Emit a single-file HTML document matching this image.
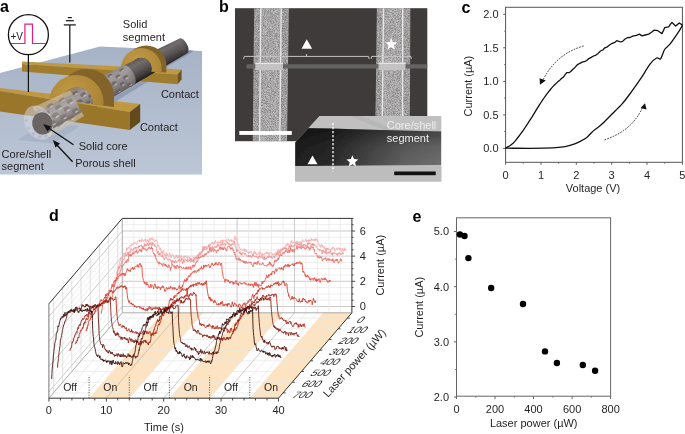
<!DOCTYPE html>
<html><head><meta charset="utf-8"><style>
html,body{margin:0;padding:0;background:#fff;}
svg{display:block;font-family:"Liberation Sans", sans-serif;will-change:transform;}
</style></head><body>
<svg width="685" height="434" viewBox="0 0 685 434">
<defs>
<linearGradient id="floorg" x1="0" y1="0" x2="0" y2="1"><stop offset="0" stop-color="#a6b2c6"/><stop offset="1" stop-color="#bcc6d6"/></linearGradient>
<linearGradient id="rodg" gradientUnits="userSpaceOnUse" x1="150.8" y1="52.4" x2="159.9" y2="69.3"><stop offset="0" stop-color="#625c5c"/><stop offset="0.2" stop-color="#726c6c"/><stop offset="0.55" stop-color="#5a5454"/><stop offset="0.85" stop-color="#3c3838"/><stop offset="1" stop-color="#242121"/></linearGradient>
<linearGradient id="shellg" gradientUnits="userSpaceOnUse" x1="96.8" y1="78.6" x2="108.4" y2="100.1"><stop offset="0" stop-color="#8c8686"/><stop offset="0.3" stop-color="#a29c9c"/><stop offset="0.7" stop-color="#827c7c"/><stop offset="1" stop-color="#605a5a"/></linearGradient>
<radialGradient id="ringg" cx="0.4" cy="0.35" r="0.7"><stop offset="0" stop-color="#c29a44"/><stop offset="1" stop-color="#a68034"/></radialGradient>
<radialGradient id="ringg2" cx="0.4" cy="0.35" r="0.7"><stop offset="0" stop-color="#c29a44"/><stop offset="1" stop-color="#a98436"/></radialGradient>
<linearGradient id="shellg2" gradientUnits="userSpaceOnUse" x1="33.6" y1="109.5" x2="48.4" y2="135.7"><stop offset="0" stop-color="#c0bab8"/><stop offset="0.35" stop-color="#d8d4d2"/><stop offset="0.75" stop-color="#b8b2b0"/><stop offset="1" stop-color="#a09a98"/></linearGradient>
<linearGradient id="coreg" gradientUnits="userSpaceOnUse" x1="53.8" y1="104.3" x2="63.3" y2="121.9"><stop offset="0" stop-color="#8e8886"/><stop offset="0.35" stop-color="#a29c9a"/><stop offset="0.7" stop-color="#858080"/><stop offset="1" stop-color="#5e5856"/></linearGradient>
<filter id="grainL" x="0" y="0" width="100%" height="100%"><feTurbulence type="fractalNoise" baseFrequency="1.4" numOctaves="1" seed="4" result="t"/><feColorMatrix in="t" type="matrix" values="0 0 0 0 1  0 0 0 0 1  0 0 0 0 1  0.8 0 0 0 -0.3" result="n"/><feComposite in="n" in2="SourceAlpha" operator="in"/></filter>
<filter id="grainD" x="0" y="0" width="100%" height="100%"><feTurbulence type="fractalNoise" baseFrequency="1.4" numOctaves="1" seed="9" result="t"/><feColorMatrix in="t" type="matrix" values="0 0 0 0 0  0 0 0 0 0  0 0 0 0 0  0.8 0 0 0 -0.3" result="n"/><feComposite in="n" in2="SourceAlpha" operator="in"/></filter>
<linearGradient id="tembandg" x1="0" y1="0" x2="1" y2="0"><stop offset="0" stop-color="#202020"/><stop offset="0.25" stop-color="#2a2a2a"/><stop offset="0.5" stop-color="#474747"/><stop offset="0.75" stop-color="#626262"/><stop offset="1" stop-color="#707070"/></linearGradient>
<linearGradient id="tembandv" x1="0" y1="0" x2="0" y2="1"><stop offset="0" stop-color="#000" stop-opacity="0.45"/><stop offset="0.5" stop-color="#000" stop-opacity="0.12"/><stop offset="1" stop-color="#000" stop-opacity="0"/></linearGradient>
<filter id="blur05" x="-5%" y="-5%" width="110%" height="110%"><feGaussianBlur stdDeviation="0.45"/></filter>
<filter id="blur1" x="-5%" y="-10%" width="110%" height="120%"><feGaussianBlur stdDeviation="0.7"/></filter>
</defs>
<text x="0" y="12" font-size="16" text-anchor="start" font-weight="bold" fill="#000" >a</text>
<text x="219" y="12" font-size="16" text-anchor="start" font-weight="bold" fill="#000" >b</text>
<text x="461.5" y="12.5" font-size="16" text-anchor="start" font-weight="bold" fill="#000" >c</text>
<text x="49.0" y="221.0" font-size="16" text-anchor="start" font-weight="bold" fill="#000" >d</text>
<text x="412.5" y="221.8" font-size="16" text-anchor="start" font-weight="bold" fill="#000" >e</text>
<g id="pa">
<polygon points="0,73 100,46.5 202,51 202,174.6 0,174.6" fill="url(#floorg)"/>
<polygon points="17,140 53,143.5 80,126 60,124 30,132" fill="#9aa6ba" opacity="0.45"/>
<polygon points="150,70 190,50 194,51 156,73" fill="#6e7c96" opacity="0.6"/>
<polygon points="110.3,99.5 150.0,76.0 151.7,79.3 112.4,103.4" fill="#6e7c96" opacity="0.45"/>
<polygon points="22,61.5 181.6,69.4 177.6,74.5 22,64" fill="#c09842"/>
<polygon points="22,64 177.6,74.5 177.6,84.3 22,71.5" fill="#a07c2e"/>
<polygon points="177.6,74.5 181.6,69.4 181.6,79.4 177.6,84.3" fill="#6f5420"/>
<polygon points="134.6,60.3 179.6,38.4 187.5,52.9 144.5,78.5" fill="url(#rodg)" />
<ellipse cx="183.5" cy="45.6" rx="3.7" ry="8.2" transform="rotate(-28.4 183.5 45.6)" fill="url(#rodg)" />
<clipPath id="barchclip"><polygon points="100,20 200,20 200,74.6 22,64"/></clipPath>
<g clip-path="url(#barchclip)">
<path d="M125.8,65.7 a20.3,20.3 0 1,0 40.6,0 a20.3,20.3 0 1,0 -40.6,0 Z M161.6,88.7 L166.4,86.0 L166.4,65.7 L161.6,68.4 Z" fill="#83632a"/>
<clipPath id="bhole"><circle cx="141.3" cy="68.4" r="10.6"/></clipPath>
<g clip-path="url(#bhole)"><rect x="120" y="40" width="50" height="50" fill="#1e1a18"/>
<polygon points="134.6,60.3 179.6,38.4 187.5,52.9 144.5,78.5" fill="url(#rodg)" />
<ellipse cx="183.5" cy="45.6" rx="3.7" ry="8.2" transform="rotate(-28.4 183.5 45.6)" fill="url(#rodg)" />
</g>
<path d="M121.0,68.4 a20.3,20.3 0 1,0 40.6,0 a20.3,20.3 0 1,0 -40.6,0 Z M130.7,68.4 a10.6,10.6 0 1,0 21.2,0 a10.6,10.6 0 1,0 -21.2,0 Z" fill-rule="evenodd" fill="url(#ringg2)"/>
</g>
<polygon points="119.3,67.7 137.0,59.1 146.8,77.1 129.9,87.2" fill="url(#rodg)" />
<polygon points="70.7,91.3 123.8,65.5 134.2,84.7 83.5,114.9" fill="url(#shellg)" />
<ellipse cx="129.0" cy="75.1" rx="4.9" ry="10.9" transform="rotate(-28.4 129.0 75.1)" fill="url(#shellg)" />
<g filter="url(#blur05)">
<ellipse cx="75.0" cy="92.9" rx="3.2" ry="1.5" transform="rotate(-28.4 75.0 92.9)" fill="#56504e" opacity="0.55"/>
<ellipse cx="76.5" cy="93.8" rx="1.9" ry="0.6" transform="rotate(-28.4 76.5 93.8)" fill="#ece8e4" opacity="0.55"/>
<ellipse cx="79.7" cy="101.7" rx="3.2" ry="2.1" transform="rotate(-28.4 79.7 101.7)" fill="#56504e" opacity="0.55"/>
<ellipse cx="81.5" cy="103.1" rx="1.9" ry="0.8" transform="rotate(-28.4 81.5 103.1)" fill="#ece8e4" opacity="0.55"/>
<ellipse cx="84.5" cy="110.5" rx="3.2" ry="1.5" transform="rotate(-28.4 84.5 110.5)" fill="#56504e" opacity="0.55"/>
<ellipse cx="86.0" cy="111.3" rx="1.9" ry="0.6" transform="rotate(-28.4 86.0 111.3)" fill="#ece8e4" opacity="0.55"/>
<ellipse cx="83.1" cy="94.3" rx="3.1" ry="1.9" transform="rotate(-28.4 83.1 94.3)" fill="#56504e" opacity="0.55"/>
<ellipse cx="84.8" cy="95.6" rx="1.8" ry="0.7" transform="rotate(-28.4 84.8 95.6)" fill="#ece8e4" opacity="0.55"/>
<ellipse cx="87.8" cy="102.9" rx="3.1" ry="1.9" transform="rotate(-28.4 87.8 102.9)" fill="#56504e" opacity="0.55"/>
<ellipse cx="89.5" cy="104.2" rx="1.8" ry="0.7" transform="rotate(-28.4 89.5 104.2)" fill="#ece8e4" opacity="0.55"/>
<ellipse cx="86.6" cy="87.1" rx="3.1" ry="1.4" transform="rotate(-28.4 86.6 87.1)" fill="#56504e" opacity="0.55"/>
<ellipse cx="88.1" cy="87.9" rx="1.8" ry="0.5" transform="rotate(-28.4 88.1 87.9)" fill="#ece8e4" opacity="0.55"/>
<ellipse cx="91.2" cy="95.5" rx="3.1" ry="2.0" transform="rotate(-28.4 91.2 95.5)" fill="#56504e" opacity="0.55"/>
<ellipse cx="92.9" cy="96.9" rx="1.8" ry="0.8" transform="rotate(-28.4 92.9 96.9)" fill="#ece8e4" opacity="0.55"/>
<ellipse cx="95.7" cy="103.9" rx="3.1" ry="1.4" transform="rotate(-28.4 95.7 103.9)" fill="#56504e" opacity="0.55"/>
<ellipse cx="97.2" cy="104.8" rx="1.8" ry="0.5" transform="rotate(-28.4 97.2 104.8)" fill="#ece8e4" opacity="0.55"/>
<ellipse cx="94.7" cy="88.3" rx="3.0" ry="1.9" transform="rotate(-28.4 94.7 88.3)" fill="#56504e" opacity="0.55"/>
<ellipse cx="96.3" cy="89.5" rx="1.7" ry="0.7" transform="rotate(-28.4 96.3 89.5)" fill="#ece8e4" opacity="0.55"/>
<ellipse cx="99.1" cy="96.5" rx="3.0" ry="1.9" transform="rotate(-28.4 99.1 96.5)" fill="#56504e" opacity="0.55"/>
<ellipse cx="100.7" cy="97.8" rx="1.7" ry="0.7" transform="rotate(-28.4 100.7 97.8)" fill="#ece8e4" opacity="0.55"/>
<ellipse cx="98.2" cy="81.3" rx="2.9" ry="1.4" transform="rotate(-28.4 98.2 81.3)" fill="#56504e" opacity="0.55"/>
<ellipse cx="99.6" cy="82.1" rx="1.7" ry="0.5" transform="rotate(-28.4 99.6 82.1)" fill="#ece8e4" opacity="0.55"/>
<ellipse cx="102.6" cy="89.3" rx="2.9" ry="2.0" transform="rotate(-28.4 102.6 89.3)" fill="#56504e" opacity="0.55"/>
<ellipse cx="104.3" cy="90.7" rx="1.7" ry="0.7" transform="rotate(-28.4 104.3 90.7)" fill="#ece8e4" opacity="0.55"/>
<ellipse cx="106.9" cy="97.4" rx="2.9" ry="1.4" transform="rotate(-28.4 106.9 97.4)" fill="#56504e" opacity="0.55"/>
<ellipse cx="108.3" cy="98.2" rx="1.7" ry="0.5" transform="rotate(-28.4 108.3 98.2)" fill="#ece8e4" opacity="0.55"/>
<ellipse cx="106.2" cy="82.3" rx="2.9" ry="1.8" transform="rotate(-28.4 106.2 82.3)" fill="#56504e" opacity="0.55"/>
<ellipse cx="107.8" cy="83.5" rx="1.7" ry="0.7" transform="rotate(-28.4 107.8 83.5)" fill="#ece8e4" opacity="0.55"/>
<ellipse cx="110.4" cy="90.2" rx="2.9" ry="1.8" transform="rotate(-28.4 110.4 90.2)" fill="#56504e" opacity="0.55"/>
<ellipse cx="112.0" cy="91.4" rx="1.7" ry="0.7" transform="rotate(-28.4 112.0 91.4)" fill="#ece8e4" opacity="0.55"/>
<ellipse cx="109.9" cy="75.5" rx="2.8" ry="1.3" transform="rotate(-28.4 109.9 75.5)" fill="#56504e" opacity="0.55"/>
<ellipse cx="111.2" cy="76.3" rx="1.6" ry="0.5" transform="rotate(-28.4 111.2 76.3)" fill="#ece8e4" opacity="0.55"/>
<ellipse cx="114.0" cy="83.2" rx="2.8" ry="1.9" transform="rotate(-28.4 114.0 83.2)" fill="#56504e" opacity="0.55"/>
<ellipse cx="115.6" cy="84.4" rx="1.6" ry="0.7" transform="rotate(-28.4 115.6 84.4)" fill="#ece8e4" opacity="0.55"/>
<ellipse cx="118.2" cy="90.8" rx="2.8" ry="1.3" transform="rotate(-28.4 118.2 90.8)" fill="#56504e" opacity="0.55"/>
<ellipse cx="119.5" cy="91.6" rx="1.6" ry="0.5" transform="rotate(-28.4 119.5 91.6)" fill="#ece8e4" opacity="0.55"/>
<ellipse cx="117.7" cy="76.3" rx="2.7" ry="1.7" transform="rotate(-28.4 117.7 76.3)" fill="#56504e" opacity="0.55"/>
<ellipse cx="119.2" cy="77.4" rx="1.6" ry="0.6" transform="rotate(-28.4 119.2 77.4)" fill="#ece8e4" opacity="0.55"/>
<ellipse cx="121.8" cy="83.8" rx="2.7" ry="1.7" transform="rotate(-28.4 121.8 83.8)" fill="#56504e" opacity="0.55"/>
<ellipse cx="123.3" cy="84.9" rx="1.6" ry="0.6" transform="rotate(-28.4 123.3 84.9)" fill="#ece8e4" opacity="0.55"/>
<ellipse cx="121.5" cy="69.7" rx="2.7" ry="1.2" transform="rotate(-28.4 121.5 69.7)" fill="#56504e" opacity="0.55"/>
<ellipse cx="122.8" cy="70.4" rx="1.6" ry="0.5" transform="rotate(-28.4 122.8 70.4)" fill="#ece8e4" opacity="0.55"/>
<ellipse cx="125.5" cy="77.0" rx="2.7" ry="1.8" transform="rotate(-28.4 125.5 77.0)" fill="#56504e" opacity="0.55"/>
<ellipse cx="127.0" cy="78.2" rx="1.6" ry="0.7" transform="rotate(-28.4 127.0 78.2)" fill="#ece8e4" opacity="0.55"/>
<ellipse cx="129.4" cy="84.3" rx="2.7" ry="1.2" transform="rotate(-28.4 129.4 84.3)" fill="#56504e" opacity="0.55"/>
<ellipse cx="130.7" cy="85.0" rx="1.6" ry="0.5" transform="rotate(-28.4 130.7 85.0)" fill="#ece8e4" opacity="0.55"/>
</g>
<polygon points="0,88 140.2,104 129.8,112 0,91" fill="#c09842"/>
<polygon points="0,91 129.8,112 129.8,130 0,111.5" fill="#9a762a"/>
<polygon points="129.8,112 140.2,104 140.2,122 129.8,130" fill="#634a1b"/>
<clipPath id="farchclip"><polygon points="30,40 160,40 160,113.5 0,91"/></clipPath>
<g clip-path="url(#farchclip)">
<path d="M59.6,96.2 a27.2,27.2 0 1,0 54.4,0 a27.2,27.2 0 1,0 -54.4,0 Z M103.5,129.4 L114.0,123.4 L114.0,96.2 L103.5,102.2 Z" fill="#83632a"/>
<clipPath id="fhole"><circle cx="77.0" cy="103.0" r="15.8"/></clipPath>
<g clip-path="url(#fhole)"><rect x="40" y="60" width="80" height="80" fill="#9c8050"/>
<polygon points="70.7,91.3 123.8,65.5 134.2,84.7 83.5,114.9" fill="url(#shellg)" />
<ellipse cx="129.0" cy="75.1" rx="4.9" ry="10.9" transform="rotate(-28.4 129.0 75.1)" fill="url(#shellg)" />
<g filter="url(#blur05)">
<ellipse cx="75.0" cy="92.9" rx="3.2" ry="1.5" transform="rotate(-28.4 75.0 92.9)" fill="#56504e" opacity="0.55"/>
<ellipse cx="76.5" cy="93.8" rx="1.9" ry="0.6" transform="rotate(-28.4 76.5 93.8)" fill="#ece8e4" opacity="0.55"/>
<ellipse cx="79.7" cy="101.7" rx="3.2" ry="2.1" transform="rotate(-28.4 79.7 101.7)" fill="#56504e" opacity="0.55"/>
<ellipse cx="81.5" cy="103.1" rx="1.9" ry="0.8" transform="rotate(-28.4 81.5 103.1)" fill="#ece8e4" opacity="0.55"/>
<ellipse cx="84.5" cy="110.5" rx="3.2" ry="1.5" transform="rotate(-28.4 84.5 110.5)" fill="#56504e" opacity="0.55"/>
<ellipse cx="86.0" cy="111.3" rx="1.9" ry="0.6" transform="rotate(-28.4 86.0 111.3)" fill="#ece8e4" opacity="0.55"/>
<ellipse cx="83.1" cy="94.3" rx="3.1" ry="1.9" transform="rotate(-28.4 83.1 94.3)" fill="#56504e" opacity="0.55"/>
<ellipse cx="84.8" cy="95.6" rx="1.8" ry="0.7" transform="rotate(-28.4 84.8 95.6)" fill="#ece8e4" opacity="0.55"/>
<ellipse cx="87.8" cy="102.9" rx="3.1" ry="1.9" transform="rotate(-28.4 87.8 102.9)" fill="#56504e" opacity="0.55"/>
<ellipse cx="89.5" cy="104.2" rx="1.8" ry="0.7" transform="rotate(-28.4 89.5 104.2)" fill="#ece8e4" opacity="0.55"/>
<ellipse cx="86.6" cy="87.1" rx="3.1" ry="1.4" transform="rotate(-28.4 86.6 87.1)" fill="#56504e" opacity="0.55"/>
<ellipse cx="88.1" cy="87.9" rx="1.8" ry="0.5" transform="rotate(-28.4 88.1 87.9)" fill="#ece8e4" opacity="0.55"/>
<ellipse cx="91.2" cy="95.5" rx="3.1" ry="2.0" transform="rotate(-28.4 91.2 95.5)" fill="#56504e" opacity="0.55"/>
<ellipse cx="92.9" cy="96.9" rx="1.8" ry="0.8" transform="rotate(-28.4 92.9 96.9)" fill="#ece8e4" opacity="0.55"/>
<ellipse cx="95.7" cy="103.9" rx="3.1" ry="1.4" transform="rotate(-28.4 95.7 103.9)" fill="#56504e" opacity="0.55"/>
<ellipse cx="97.2" cy="104.8" rx="1.8" ry="0.5" transform="rotate(-28.4 97.2 104.8)" fill="#ece8e4" opacity="0.55"/>
<ellipse cx="94.7" cy="88.3" rx="3.0" ry="1.9" transform="rotate(-28.4 94.7 88.3)" fill="#56504e" opacity="0.55"/>
<ellipse cx="96.3" cy="89.5" rx="1.7" ry="0.7" transform="rotate(-28.4 96.3 89.5)" fill="#ece8e4" opacity="0.55"/>
<ellipse cx="99.1" cy="96.5" rx="3.0" ry="1.9" transform="rotate(-28.4 99.1 96.5)" fill="#56504e" opacity="0.55"/>
<ellipse cx="100.7" cy="97.8" rx="1.7" ry="0.7" transform="rotate(-28.4 100.7 97.8)" fill="#ece8e4" opacity="0.55"/>
<ellipse cx="98.2" cy="81.3" rx="2.9" ry="1.4" transform="rotate(-28.4 98.2 81.3)" fill="#56504e" opacity="0.55"/>
<ellipse cx="99.6" cy="82.1" rx="1.7" ry="0.5" transform="rotate(-28.4 99.6 82.1)" fill="#ece8e4" opacity="0.55"/>
<ellipse cx="102.6" cy="89.3" rx="2.9" ry="2.0" transform="rotate(-28.4 102.6 89.3)" fill="#56504e" opacity="0.55"/>
<ellipse cx="104.3" cy="90.7" rx="1.7" ry="0.7" transform="rotate(-28.4 104.3 90.7)" fill="#ece8e4" opacity="0.55"/>
<ellipse cx="106.9" cy="97.4" rx="2.9" ry="1.4" transform="rotate(-28.4 106.9 97.4)" fill="#56504e" opacity="0.55"/>
<ellipse cx="108.3" cy="98.2" rx="1.7" ry="0.5" transform="rotate(-28.4 108.3 98.2)" fill="#ece8e4" opacity="0.55"/>
<ellipse cx="106.2" cy="82.3" rx="2.9" ry="1.8" transform="rotate(-28.4 106.2 82.3)" fill="#56504e" opacity="0.55"/>
<ellipse cx="107.8" cy="83.5" rx="1.7" ry="0.7" transform="rotate(-28.4 107.8 83.5)" fill="#ece8e4" opacity="0.55"/>
<ellipse cx="110.4" cy="90.2" rx="2.9" ry="1.8" transform="rotate(-28.4 110.4 90.2)" fill="#56504e" opacity="0.55"/>
<ellipse cx="112.0" cy="91.4" rx="1.7" ry="0.7" transform="rotate(-28.4 112.0 91.4)" fill="#ece8e4" opacity="0.55"/>
<ellipse cx="109.9" cy="75.5" rx="2.8" ry="1.3" transform="rotate(-28.4 109.9 75.5)" fill="#56504e" opacity="0.55"/>
<ellipse cx="111.2" cy="76.3" rx="1.6" ry="0.5" transform="rotate(-28.4 111.2 76.3)" fill="#ece8e4" opacity="0.55"/>
<ellipse cx="114.0" cy="83.2" rx="2.8" ry="1.9" transform="rotate(-28.4 114.0 83.2)" fill="#56504e" opacity="0.55"/>
<ellipse cx="115.6" cy="84.4" rx="1.6" ry="0.7" transform="rotate(-28.4 115.6 84.4)" fill="#ece8e4" opacity="0.55"/>
<ellipse cx="118.2" cy="90.8" rx="2.8" ry="1.3" transform="rotate(-28.4 118.2 90.8)" fill="#56504e" opacity="0.55"/>
<ellipse cx="119.5" cy="91.6" rx="1.6" ry="0.5" transform="rotate(-28.4 119.5 91.6)" fill="#ece8e4" opacity="0.55"/>
<ellipse cx="117.7" cy="76.3" rx="2.7" ry="1.7" transform="rotate(-28.4 117.7 76.3)" fill="#56504e" opacity="0.55"/>
<ellipse cx="119.2" cy="77.4" rx="1.6" ry="0.6" transform="rotate(-28.4 119.2 77.4)" fill="#ece8e4" opacity="0.55"/>
<ellipse cx="121.8" cy="83.8" rx="2.7" ry="1.7" transform="rotate(-28.4 121.8 83.8)" fill="#56504e" opacity="0.55"/>
<ellipse cx="123.3" cy="84.9" rx="1.6" ry="0.6" transform="rotate(-28.4 123.3 84.9)" fill="#ece8e4" opacity="0.55"/>
<ellipse cx="121.5" cy="69.7" rx="2.7" ry="1.2" transform="rotate(-28.4 121.5 69.7)" fill="#56504e" opacity="0.55"/>
<ellipse cx="122.8" cy="70.4" rx="1.6" ry="0.5" transform="rotate(-28.4 122.8 70.4)" fill="#ece8e4" opacity="0.55"/>
<ellipse cx="125.5" cy="77.0" rx="2.7" ry="1.8" transform="rotate(-28.4 125.5 77.0)" fill="#56504e" opacity="0.55"/>
<ellipse cx="127.0" cy="78.2" rx="1.6" ry="0.7" transform="rotate(-28.4 127.0 78.2)" fill="#ece8e4" opacity="0.55"/>
<ellipse cx="129.4" cy="84.3" rx="2.7" ry="1.2" transform="rotate(-28.4 129.4 84.3)" fill="#56504e" opacity="0.55"/>
<ellipse cx="130.7" cy="85.0" rx="1.6" ry="0.5" transform="rotate(-28.4 130.7 85.0)" fill="#ece8e4" opacity="0.55"/>
</g>
</g>
<path d="M49.1,102.2 a27.2,27.2 0 1,0 54.4,0 a27.2,27.2 0 1,0 -54.4,0 Z M61.2,103.0 a15.8,15.8 0 1,0 31.6,0 a15.8,15.8 0 1,0 -31.6,0 Z" fill-rule="evenodd" fill="url(#ringg)"/>
</g>
<polygon points="32.9,107.6 70.1,90.3 84.0,116.0 49.1,137.6" fill="#c8bca4" opacity="0.5"/>
<polygon points="35.7,112.7 72.2,94.1 81.9,112.1 46.3,132.5" fill="url(#coreg)" />
<polygon points="32.9,107.6 70.1,90.3 84.0,116.0 49.1,137.6" fill="#dcd6d2" opacity="0.2"/>
<g filter="url(#blur05)">
<ellipse cx="38.3" cy="111.2" rx="3.6" ry="1.7" transform="rotate(-28.4 38.3 111.2)" fill="#6a6260" opacity="0.45"/>
<ellipse cx="40.0" cy="112.2" rx="2.1" ry="0.6" transform="rotate(-28.4 40.0 112.2)" fill="#ece8e4" opacity="0.55"/>
<ellipse cx="43.6" cy="121.2" rx="3.6" ry="2.4" transform="rotate(-28.4 43.6 121.2)" fill="#6a6260" opacity="0.45"/>
<ellipse cx="45.7" cy="122.8" rx="2.1" ry="0.9" transform="rotate(-28.4 45.7 122.8)" fill="#ece8e4" opacity="0.55"/>
<ellipse cx="49.0" cy="131.1" rx="3.6" ry="1.7" transform="rotate(-28.4 49.0 131.1)" fill="#6a6260" opacity="0.45"/>
<ellipse cx="50.7" cy="132.1" rx="2.1" ry="0.6" transform="rotate(-28.4 50.7 132.1)" fill="#ece8e4" opacity="0.55"/>
<ellipse cx="46.7" cy="113.2" rx="3.5" ry="2.2" transform="rotate(-28.4 46.7 113.2)" fill="#6a6260" opacity="0.45"/>
<ellipse cx="48.7" cy="114.7" rx="2.1" ry="0.8" transform="rotate(-28.4 48.7 114.7)" fill="#ece8e4" opacity="0.55"/>
<ellipse cx="52.0" cy="123.0" rx="3.5" ry="2.2" transform="rotate(-28.4 52.0 123.0)" fill="#6a6260" opacity="0.45"/>
<ellipse cx="54.0" cy="124.4" rx="2.1" ry="0.8" transform="rotate(-28.4 54.0 124.4)" fill="#ece8e4" opacity="0.55"/>
<ellipse cx="49.9" cy="105.4" rx="3.5" ry="1.6" transform="rotate(-28.4 49.9 105.4)" fill="#6a6260" opacity="0.45"/>
<ellipse cx="51.6" cy="106.4" rx="2.0" ry="0.6" transform="rotate(-28.4 51.6 106.4)" fill="#ece8e4" opacity="0.55"/>
<ellipse cx="55.1" cy="115.0" rx="3.5" ry="2.3" transform="rotate(-28.4 55.1 115.0)" fill="#6a6260" opacity="0.45"/>
<ellipse cx="57.1" cy="116.6" rx="2.0" ry="0.9" transform="rotate(-28.4 57.1 116.6)" fill="#ece8e4" opacity="0.55"/>
<ellipse cx="60.2" cy="124.6" rx="3.5" ry="1.6" transform="rotate(-28.4 60.2 124.6)" fill="#6a6260" opacity="0.45"/>
<ellipse cx="61.9" cy="125.5" rx="2.0" ry="0.6" transform="rotate(-28.4 61.9 125.5)" fill="#ece8e4" opacity="0.55"/>
<ellipse cx="58.3" cy="107.2" rx="3.4" ry="2.1" transform="rotate(-28.4 58.3 107.2)" fill="#6a6260" opacity="0.45"/>
<ellipse cx="60.1" cy="108.6" rx="2.0" ry="0.8" transform="rotate(-28.4 60.1 108.6)" fill="#ece8e4" opacity="0.55"/>
<ellipse cx="63.3" cy="116.6" rx="3.4" ry="2.1" transform="rotate(-28.4 63.3 116.6)" fill="#6a6260" opacity="0.45"/>
<ellipse cx="65.2" cy="118.0" rx="2.0" ry="0.8" transform="rotate(-28.4 65.2 118.0)" fill="#ece8e4" opacity="0.55"/>
<ellipse cx="61.5" cy="99.6" rx="3.3" ry="1.6" transform="rotate(-28.4 61.5 99.6)" fill="#6a6260" opacity="0.45"/>
<ellipse cx="63.1" cy="100.5" rx="2.0" ry="0.6" transform="rotate(-28.4 63.1 100.5)" fill="#ece8e4" opacity="0.55"/>
<ellipse cx="66.5" cy="108.8" rx="3.3" ry="2.2" transform="rotate(-28.4 66.5 108.8)" fill="#6a6260" opacity="0.45"/>
<ellipse cx="68.4" cy="110.3" rx="2.0" ry="0.8" transform="rotate(-28.4 68.4 110.3)" fill="#ece8e4" opacity="0.55"/>
<ellipse cx="71.5" cy="118.0" rx="3.3" ry="1.6" transform="rotate(-28.4 71.5 118.0)" fill="#6a6260" opacity="0.45"/>
<ellipse cx="73.1" cy="118.9" rx="2.0" ry="0.6" transform="rotate(-28.4 73.1 118.9)" fill="#ece8e4" opacity="0.55"/>
<ellipse cx="69.8" cy="101.2" rx="3.3" ry="2.0" transform="rotate(-28.4 69.8 101.2)" fill="#6a6260" opacity="0.45"/>
<ellipse cx="71.6" cy="102.6" rx="1.9" ry="0.8" transform="rotate(-28.4 71.6 102.6)" fill="#ece8e4" opacity="0.55"/>
<ellipse cx="74.7" cy="110.2" rx="3.3" ry="2.0" transform="rotate(-28.4 74.7 110.2)" fill="#6a6260" opacity="0.45"/>
<ellipse cx="76.5" cy="111.6" rx="1.9" ry="0.8" transform="rotate(-28.4 76.5 111.6)" fill="#ece8e4" opacity="0.55"/>
</g>
<ellipse cx="38.6" cy="122.6" rx="13.5" ry="18" transform="rotate(-28.4 38.6 122.6)" fill="#dcdce4" opacity="0.5"/>
<circle cx="48.7" cy="117.1" r="1.4" fill="#a4a4ae" opacity="0.45"/>
<circle cx="51.0" cy="124.6" r="1.4" fill="#a4a4ae" opacity="0.45"/>
<circle cx="49.9" cy="131.5" r="1.4" fill="#a4a4ae" opacity="0.45"/>
<circle cx="45.8" cy="136.0" r="1.4" fill="#a4a4ae" opacity="0.45"/>
<circle cx="39.8" cy="136.9" r="1.4" fill="#a4a4ae" opacity="0.45"/>
<circle cx="33.4" cy="134.0" r="1.4" fill="#a4a4ae" opacity="0.45"/>
<circle cx="28.5" cy="128.1" r="1.4" fill="#a4a4ae" opacity="0.45"/>
<circle cx="26.2" cy="120.6" r="1.4" fill="#a4a4ae" opacity="0.45"/>
<circle cx="27.3" cy="113.7" r="1.4" fill="#a4a4ae" opacity="0.45"/>
<circle cx="31.4" cy="109.2" r="1.4" fill="#a4a4ae" opacity="0.45"/>
<circle cx="37.4" cy="108.3" r="1.4" fill="#a4a4ae" opacity="0.45"/>
<circle cx="43.8" cy="111.2" r="1.4" fill="#a4a4ae" opacity="0.45"/>
<ellipse cx="42.4" cy="123.4" rx="10.3" ry="11.2" fill="#6a6563" transform="rotate(-12 42.4 123.4)"/>
<line x1="28.4" y1="54.7" x2="28.4" y2="92" stroke="#111" stroke-width="1.2"/>
<line x1="69.8" y1="24.9" x2="69.8" y2="62.5" stroke="#111" stroke-width="1.2"/>
<line x1="63.8" y1="24.9" x2="75.8" y2="24.9" stroke="#111" stroke-width="1.2"/>
<line x1="65.8" y1="20.7" x2="73.8" y2="20.7" stroke="#111" stroke-width="1.2"/>
<line x1="67.8" y1="17.6" x2="71.8" y2="17.6" stroke="#111" stroke-width="1.2"/>
<circle cx="28.4" cy="34.7" r="20" fill="#fff" stroke="#111" stroke-width="1.3"/>
<polyline points="10.8,43.5 24.9,43.5 24.9,24.2 32.5,24.2 32.5,43.5 46,43.5" fill="none" stroke="#e0208a" stroke-width="1.2"/>
<text x="10.5" y="39.5" font-size="10" text-anchor="start" font-weight="normal" fill="#222" >+V</text>
<line x1="73.5" y1="144.7" x2="47" y2="127" stroke="#111" stroke-width="1.3"/>
<polygon points="43.1,124 51,126.5 47.5,131.5" fill="#111"/>
<line x1="72.6" y1="161.7" x2="55.5" y2="143.5" stroke="#111" stroke-width="1.3"/>
<polygon points="52.8,139.9 60,143.5 55.5,147.5" fill="#111"/>
<text x="122.8" y="27.9" font-size="11" text-anchor="start" font-weight="normal" fill="#231f20" >Solid</text>
<text x="122.8" y="40.7" font-size="11" text-anchor="start" font-weight="normal" fill="#231f20" >segment</text>
<text x="160.9" y="97.9" font-size="11" text-anchor="start" font-weight="normal" fill="#231f20" >Contact</text>
<text x="139.9" y="130.9" font-size="11" text-anchor="start" font-weight="normal" fill="#231f20" >Contact</text>
<text x="78.7" y="150.4" font-size="11" text-anchor="start" font-weight="normal" fill="#231f20" >Solid core</text>
<text x="75.2" y="166.8" font-size="11" text-anchor="start" font-weight="normal" fill="#231f20" >Porous shell</text>
<text x="1.6" y="158" font-size="11" text-anchor="start" font-weight="normal" fill="#231f20" >Core/shell</text>
<text x="1.6" y="169.9" font-size="11" text-anchor="start" font-weight="normal" fill="#231f20" >segment</text>
</g>
<g id="pb">
<rect x="235" y="8.2" width="192.3" height="133" fill="#3f3b3b"/>
<polygon points="254.2,8.2 288.8,8.2 287.0,141.1 252.8,141.1" fill="#a6a4a4"/>
<polygon points="260.8,8.2 281.2,8.2 279.8,141.1 259.6,141.1" fill="#b2b0b0"/>
<polygon points="254.2,8.2 288.8,8.2 287.0,141.1 252.8,141.1" fill="#fff" filter="url(#grainL)"/>
<polygon points="254.2,8.2 288.8,8.2 287.0,141.1 252.8,141.1" fill="#000" filter="url(#grainD)"/>
<line x1="260.8" y1="8.2" x2="259.6" y2="141.1" stroke="#e6e6e6" stroke-width="1.4"/>
<line x1="281.2" y1="8.2" x2="279.8" y2="141.1" stroke="#e6e6e6" stroke-width="1.4"/>
<polygon points="376.9,8.2 410.3,8.2 409.8,141.1 375.2,141.1" fill="#a6a4a4"/>
<polygon points="383.5,8.2 402.7,8.2 402.6,141.1 382.0,141.1" fill="#b2b0b0"/>
<polygon points="376.9,8.2 410.3,8.2 409.8,141.1 375.2,141.1" fill="#fff" filter="url(#grainL)"/>
<polygon points="376.9,8.2 410.3,8.2 409.8,141.1 375.2,141.1" fill="#000" filter="url(#grainD)"/>
<line x1="383.5" y1="8.2" x2="382.0" y2="141.1" stroke="#e6e6e6" stroke-width="1.4"/>
<line x1="402.7" y1="8.2" x2="402.6" y2="141.1" stroke="#e6e6e6" stroke-width="1.4"/>
<rect x="246.2" y="64.2" width="181.1" height="4.3" rx="1.5" fill="#646262"/>
<rect x="255.3" y="62.8" width="27.6" height="7.4" fill="#c4c2c2"/>
<rect x="255.3" y="62.8" width="27.6" height="1.1" fill="#e8e8e8"/>
<rect x="378.5" y="62.8" width="27" height="7.4" fill="#c4c2c2"/>
<rect x="378.5" y="62.8" width="27" height="1.1" fill="#e8e8e8"/>
<path d="M243.6,59 L244.4,56.4 L368.6,56.4 L369,59 M306.5,56.4 L306.5,54" fill="none" stroke="#c4c4c4" stroke-width="1"/>
<path d="M371.1,59 L371.6,56.4 L410.9,56.4 L411.3,59 M391.2,56.4 L391.2,54" fill="none" stroke="#c4c4c4" stroke-width="1"/>
<polygon points="306.8,39.2 312.1,48.8 301.5,48.8" fill="#fff"/>
<polygon points="391.2,38.0 392.9,42.1 397.3,42.4 393.9,45.3 395.0,49.6 391.2,47.3 387.4,49.6 388.5,45.3 385.1,42.4 389.5,42.1" fill="#fff"/>
<rect x="239.3" y="131" width="52.5" height="3.9" fill="#fff"/>
<clipPath id="insclip"><polygon points="319.4,116 441.3,116 441.3,181.4 295.2,181.4 295.2,142.5"/></clipPath>
<g clip-path="url(#insclip)">
<rect x="295" y="116" width="147" height="66" fill="#c0c0c0"/>
<rect x="295" y="166" width="147" height="16" fill="#bdbdbd"/>
<polygon points="350,116 362,116 398,131 386,131" fill="#b0b0b0" opacity="0.6"/>
<g filter="url(#blur1)">
<polygon points="295,128 330,128.5 380,130 441.3,131.5 441.3,165 295,166" fill="url(#tembandg)"/>
<polygon points="295,128 330,128.5 380,130 441.3,131.5 441.3,165 295,166" fill="url(#tembandv)"/>
</g>
</g>
<line x1="333" y1="123" x2="333" y2="171.5" stroke="#fff" stroke-width="1.3" stroke-dasharray="2.2,1.8"/>
<polygon points="312.5,155.5 317.5,164.3 307.5,164.3" fill="#fff"/>
<polygon points="352.4,155.2 354.0,159.1 358.3,159.5 355.1,162.3 356.0,166.4 352.4,164.2 348.8,166.4 349.7,162.3 346.5,159.5 350.8,159.1" fill="#fff"/>
<rect x="394.2" y="171.5" width="41.5" height="3.7" fill="#111"/>
<text x="386.8" y="129" font-size="11" text-anchor="start" font-weight="normal" fill="#ececec" >Core/shell</text>
<text x="386.8" y="141.5" font-size="11" text-anchor="start" font-weight="normal" fill="#ececec" >segment</text>
</g>
<g id="pc">
<rect x="505.6" y="7.3" width="176.79999999999995" height="155.0" fill="none" stroke="#555" stroke-width="1"/>
<line x1="503.20000000000005" y1="148.4" x2="505.6" y2="148.4" stroke="#555" stroke-width="1"/>
<text x="498.5" y="152.3" font-size="11" text-anchor="end" font-weight="normal" fill="#231f20" >0.0</text>
<line x1="504.3" y1="131.6" x2="505.6" y2="131.6" stroke="#555" stroke-width="1"/>
<line x1="503.20000000000005" y1="114.9" x2="505.6" y2="114.9" stroke="#555" stroke-width="1"/>
<text x="498.5" y="118.775" font-size="11" text-anchor="end" font-weight="normal" fill="#231f20" >0.5</text>
<line x1="504.3" y1="98.1" x2="505.6" y2="98.1" stroke="#555" stroke-width="1"/>
<line x1="503.20000000000005" y1="81.4" x2="505.6" y2="81.4" stroke="#555" stroke-width="1"/>
<text x="498.5" y="85.25000000000001" font-size="11" text-anchor="end" font-weight="normal" fill="#231f20" >1.0</text>
<line x1="504.3" y1="64.6" x2="505.6" y2="64.6" stroke="#555" stroke-width="1"/>
<line x1="503.20000000000005" y1="47.8" x2="505.6" y2="47.8" stroke="#555" stroke-width="1"/>
<text x="498.5" y="51.725000000000016" font-size="11" text-anchor="end" font-weight="normal" fill="#231f20" >1.5</text>
<line x1="504.3" y1="31.1" x2="505.6" y2="31.1" stroke="#555" stroke-width="1"/>
<line x1="503.20000000000005" y1="14.3" x2="505.6" y2="14.3" stroke="#555" stroke-width="1"/>
<text x="498.5" y="18.20000000000001" font-size="11" text-anchor="end" font-weight="normal" fill="#231f20" >2.0</text>
<line x1="505.6" y1="162.3" x2="505.6" y2="164.70000000000002" stroke="#555" stroke-width="1"/>
<text x="505.6" y="178.7" font-size="11" text-anchor="middle" font-weight="normal" fill="#231f20" >0</text>
<line x1="523.3" y1="162.3" x2="523.3" y2="163.60000000000002" stroke="#555" stroke-width="1"/>
<line x1="541.0" y1="162.3" x2="541.0" y2="164.70000000000002" stroke="#555" stroke-width="1"/>
<text x="540.96" y="178.7" font-size="11" text-anchor="middle" font-weight="normal" fill="#231f20" >1</text>
<line x1="558.6" y1="162.3" x2="558.6" y2="163.60000000000002" stroke="#555" stroke-width="1"/>
<line x1="576.3" y1="162.3" x2="576.3" y2="164.70000000000002" stroke="#555" stroke-width="1"/>
<text x="576.32" y="178.7" font-size="11" text-anchor="middle" font-weight="normal" fill="#231f20" >2</text>
<line x1="594.0" y1="162.3" x2="594.0" y2="163.60000000000002" stroke="#555" stroke-width="1"/>
<line x1="611.7" y1="162.3" x2="611.7" y2="164.70000000000002" stroke="#555" stroke-width="1"/>
<text x="611.6800000000001" y="178.7" font-size="11" text-anchor="middle" font-weight="normal" fill="#231f20" >3</text>
<line x1="629.4" y1="162.3" x2="629.4" y2="163.60000000000002" stroke="#555" stroke-width="1"/>
<line x1="647.0" y1="162.3" x2="647.0" y2="164.70000000000002" stroke="#555" stroke-width="1"/>
<text x="647.04" y="178.7" font-size="11" text-anchor="middle" font-weight="normal" fill="#231f20" >4</text>
<line x1="664.7" y1="162.3" x2="664.7" y2="163.60000000000002" stroke="#555" stroke-width="1"/>
<line x1="682.4" y1="162.3" x2="682.4" y2="164.70000000000002" stroke="#555" stroke-width="1"/>
<text x="682.4000000000001" y="178.7" font-size="11" text-anchor="middle" font-weight="normal" fill="#231f20" >5</text>
<text x="593" y="191.5" font-size="11" text-anchor="middle" font-weight="normal" fill="#231f20" >Voltage (V)</text>
<text x="0" y="0" font-size="11" text-anchor="middle" fill="#231f20" transform="translate(472.3,86.1) rotate(-90)">Current (µA)</text>
<polyline points="505.5,148.2 507.4,147.1 510.2,145.5 513.1,143.2 514.8,141.4 516.5,139.3 518.3,137.0 520.1,134.6 521.9,132.2 523.4,130.2 524.8,128.0 526.2,125.8 527.7,123.6 529.1,121.4 530.6,119.1 532.1,116.8 533.6,114.3 535.1,111.9 536.6,109.4 538.0,107.1 539.4,104.9 541.0,102.5 542.5,100.2 544.0,98.0 545.5,95.9 547.0,93.9 548.5,91.9 550.0,90.0 551.5,88.1 553.1,86.4 554.7,84.8 557.0,82.6 559.4,80.6 561.7,78.3 563.5,76.9 566.7,72.6 568.9,72.7 570.5,71.8 572.4,69.7 574.4,68.1 577.2,64.9 579.9,63.3 582.1,62.2 585.0,61.4 586.8,60.5 588.9,58.6 591.2,57.4 593.5,56.0 595.6,55.3 598.1,53.4 600.5,51.0 602.8,50.0 604.9,47.8 607.3,46.8 609.5,45.0 611.5,43.7 614.3,42.7 616.8,40.7 620.8,42.0 622.6,41.4 624.8,39.3 627.2,37.7 630.0,37.5 632.7,36.2 636.4,35.3 639.4,34.1 642.0,35.9 645.2,35.0 648.7,34.1 651.5,32.3 654.0,30.2 657.9,30.7 660.0,32.3 661.9,33.6 663.3,30.9 664.6,27.7 668.6,26.9 670.3,24.4 672.0,22.4 673.8,24.2 675.7,26.1 679.2,23.0 682.6,25.1" fill="none" stroke="#111" stroke-width="1.3" stroke-linejoin="round"/>
<path d="M505.5,148.2 C511.9,148.2 534.5,148.4 543.8,148.2 C553.1,148.0 556.9,147.6 561.3,147.1 C565.7,146.6 567.1,146.1 570.0,145.3 C572.9,144.5 576.1,143.4 578.8,142.1 C581.5,140.8 584.2,139.3 586.4,137.7 C588.6,136.0 590.1,133.8 591.9,132.2 C593.7,130.5 595.7,129.2 597.4,127.8 C599.1,126.4 599.9,126.0 602.2,123.8 C604.6,121.6 608.2,117.8 611.5,114.5 C614.8,111.2 618.8,107.7 622.1,103.9 C625.4,100.1 628.3,96.1 631.4,91.9 C634.5,87.7 637.6,83.3 640.7,78.7 C643.8,74.1 647.4,67.5 650.0,64.1 C652.6,60.6 654.8,58.9 656.6,58.0 C658.4,57.1 659.3,60.2 660.6,58.8 C661.9,57.4 663.1,51.9 664.6,49.5 C666.1,47.1 668.1,46.3 669.9,44.2 C671.7,42.1 673.7,39.0 675.2,36.8 C676.8,34.6 678.0,32.8 679.2,30.9 C680.4,28.9 682.0,26.1 682.6,25.1" fill="none" stroke="#111" stroke-width="1.3" stroke-linejoin="round"/>
<path d="M583.5,46 Q556,54 543,80" fill="none" stroke="#222" stroke-width="1" stroke-dasharray="1.6,1.3"/>
<polygon points="540,84.8 539.6,78.2 545.8,80.6" fill="#111"/>
<path d="M604.5,139.8 Q632,131 642.5,107.5" fill="none" stroke="#222" stroke-width="1" stroke-dasharray="1.6,1.3"/>
<polygon points="645,103.2 646.6,109.6 640.6,108" fill="#111"/>
</g>
<g id="pe">
<rect x="456.5" y="217.8" width="154.10000000000002" height="178.39999999999998" fill="none" stroke="#666" stroke-width="1"/>
<line x1="453.9" y1="397.1" x2="456.5" y2="397.1" stroke="#666" stroke-width="1"/>
<text x="449" y="401.0" font-size="11" text-anchor="end" font-weight="normal" fill="#231f20" >2.0</text>
<line x1="455.2" y1="369.5" x2="456.5" y2="369.5" stroke="#666" stroke-width="1"/>
<line x1="453.9" y1="341.9" x2="456.5" y2="341.9" stroke="#666" stroke-width="1"/>
<text x="449" y="345.8" font-size="11" text-anchor="end" font-weight="normal" fill="#231f20" >3.0</text>
<line x1="455.2" y1="314.3" x2="456.5" y2="314.3" stroke="#666" stroke-width="1"/>
<line x1="453.9" y1="286.7" x2="456.5" y2="286.7" stroke="#666" stroke-width="1"/>
<text x="449" y="290.6" font-size="11" text-anchor="end" font-weight="normal" fill="#231f20" >4.0</text>
<line x1="455.2" y1="259.1" x2="456.5" y2="259.1" stroke="#666" stroke-width="1"/>
<line x1="453.9" y1="231.5" x2="456.5" y2="231.5" stroke="#666" stroke-width="1"/>
<text x="449" y="235.4" font-size="11" text-anchor="end" font-weight="normal" fill="#231f20" >5.0</text>
<line x1="456.5" y1="396.2" x2="456.5" y2="399.0" stroke="#666" stroke-width="1"/>
<text x="456.5" y="412.5" font-size="11" text-anchor="middle" font-weight="normal" fill="#231f20" >0</text>
<line x1="475.8" y1="396.2" x2="475.8" y2="397.59999999999997" stroke="#666" stroke-width="1"/>
<line x1="495.0" y1="396.2" x2="495.0" y2="399.0" stroke="#666" stroke-width="1"/>
<text x="495.025" y="412.5" font-size="11" text-anchor="middle" font-weight="normal" fill="#231f20" >200</text>
<line x1="514.3" y1="396.2" x2="514.3" y2="397.59999999999997" stroke="#666" stroke-width="1"/>
<line x1="533.5" y1="396.2" x2="533.5" y2="399.0" stroke="#666" stroke-width="1"/>
<text x="533.55" y="412.5" font-size="11" text-anchor="middle" font-weight="normal" fill="#231f20" >400</text>
<line x1="552.8" y1="396.2" x2="552.8" y2="397.59999999999997" stroke="#666" stroke-width="1"/>
<line x1="572.1" y1="396.2" x2="572.1" y2="399.0" stroke="#666" stroke-width="1"/>
<text x="572.075" y="412.5" font-size="11" text-anchor="middle" font-weight="normal" fill="#231f20" >600</text>
<line x1="591.3" y1="396.2" x2="591.3" y2="397.59999999999997" stroke="#666" stroke-width="1"/>
<line x1="610.6" y1="396.2" x2="610.6" y2="399.0" stroke="#666" stroke-width="1"/>
<text x="610.6" y="412.5" font-size="11" text-anchor="middle" font-weight="normal" fill="#231f20" >800</text>
<text x="533.7" y="427.3" font-size="11" text-anchor="middle" font-weight="normal" fill="#231f20" >Laser power (µW)</text>
<text x="0" y="0" font-size="11" text-anchor="middle" fill="#231f20" transform="translate(423.2,307.2) rotate(-90)">Current (µA)</text>
<circle cx="459.9" cy="234.5" r="3.2" fill="#000"/>
<circle cx="464.5" cy="236" r="3.2" fill="#000"/>
<circle cx="468.4" cy="258.1" r="3.2" fill="#000"/>
<circle cx="491.2" cy="288" r="3.2" fill="#000"/>
<circle cx="523" cy="304" r="3.2" fill="#000"/>
<circle cx="545" cy="351.4" r="3.2" fill="#000"/>
<circle cx="556.9" cy="363" r="3.2" fill="#000"/>
<circle cx="582.8" cy="365" r="3.2" fill="#000"/>
<circle cx="595.1" cy="370.7" r="3.2" fill="#000"/>
</g>
<g id="pd">
<polygon points="48.9,398.2 48.9,303.8 122.3,218.4 122.3,312.8" fill="#fff"/>
<polygon points="122.3,312.8 122.3,218.4 351.9,218.4 351.9,312.8" fill="#fff"/>
<polygon points="48.9,398.2 278.5,398.2 351.9,312.8 122.3,312.8" fill="#fff"/>
<polygon points="89.1,398.2 129.3,398.2 202.7,312.8 162.5,312.8" fill="#fde3bf"/>
<polygon points="169.4,398.2 209.6,398.2 283.0,312.8 242.8,312.8" fill="#fde3bf"/>
<polygon points="249.8,398.2 278.5,398.2 351.9,312.8 323.2,312.8" fill="#fde3bf"/>
<line x1="117.7" y1="318.1" x2="347.3" y2="318.1" stroke="#e6e6e6" stroke-width="0.7"/>
<line x1="108.5" y1="328.8" x2="338.1" y2="328.8" stroke="#e6e6e6" stroke-width="0.7"/>
<line x1="99.4" y1="339.5" x2="329.0" y2="339.5" stroke="#e6e6e6" stroke-width="0.7"/>
<line x1="90.2" y1="350.2" x2="319.8" y2="350.2" stroke="#e6e6e6" stroke-width="0.7"/>
<line x1="81.0" y1="360.8" x2="310.6" y2="360.8" stroke="#e6e6e6" stroke-width="0.7"/>
<line x1="71.8" y1="371.5" x2="301.4" y2="371.5" stroke="#e6e6e6" stroke-width="0.7"/>
<line x1="62.7" y1="382.2" x2="292.3" y2="382.2" stroke="#e6e6e6" stroke-width="0.7"/>
<line x1="53.5" y1="392.9" x2="283.1" y2="392.9" stroke="#e6e6e6" stroke-width="0.7"/>
<line x1="60.4" y1="398.2" x2="133.8" y2="312.8" stroke="#e6e6e6" stroke-width="0.7"/>
<line x1="71.9" y1="398.2" x2="145.3" y2="312.8" stroke="#e6e6e6" stroke-width="0.7"/>
<line x1="83.3" y1="398.2" x2="156.7" y2="312.8" stroke="#e6e6e6" stroke-width="0.7"/>
<line x1="94.8" y1="398.2" x2="168.2" y2="312.8" stroke="#e6e6e6" stroke-width="0.7"/>
<line x1="106.3" y1="398.2" x2="179.7" y2="312.8" stroke="#b6b6b6" stroke-width="0.7"/>
<line x1="117.8" y1="398.2" x2="191.2" y2="312.8" stroke="#e6e6e6" stroke-width="0.7"/>
<line x1="129.3" y1="398.2" x2="202.7" y2="312.8" stroke="#e6e6e6" stroke-width="0.7"/>
<line x1="140.7" y1="398.2" x2="214.1" y2="312.8" stroke="#e6e6e6" stroke-width="0.7"/>
<line x1="152.2" y1="398.2" x2="225.6" y2="312.8" stroke="#e6e6e6" stroke-width="0.7"/>
<line x1="163.7" y1="398.2" x2="237.1" y2="312.8" stroke="#b6b6b6" stroke-width="0.7"/>
<line x1="175.2" y1="398.2" x2="248.6" y2="312.8" stroke="#e6e6e6" stroke-width="0.7"/>
<line x1="186.7" y1="398.2" x2="260.1" y2="312.8" stroke="#e6e6e6" stroke-width="0.7"/>
<line x1="198.1" y1="398.2" x2="271.5" y2="312.8" stroke="#e6e6e6" stroke-width="0.7"/>
<line x1="209.6" y1="398.2" x2="283.0" y2="312.8" stroke="#e6e6e6" stroke-width="0.7"/>
<line x1="221.1" y1="398.2" x2="294.5" y2="312.8" stroke="#b6b6b6" stroke-width="0.7"/>
<line x1="232.6" y1="398.2" x2="306.0" y2="312.8" stroke="#e6e6e6" stroke-width="0.7"/>
<line x1="244.1" y1="398.2" x2="317.5" y2="312.8" stroke="#e6e6e6" stroke-width="0.7"/>
<line x1="255.5" y1="398.2" x2="328.9" y2="312.8" stroke="#e6e6e6" stroke-width="0.7"/>
<line x1="267.0" y1="398.2" x2="340.4" y2="312.8" stroke="#e6e6e6" stroke-width="0.7"/>
<line x1="122.3" y1="306.5" x2="351.9" y2="306.5" stroke="#b6b6b6" stroke-width="0.7"/>
<line x1="122.3" y1="300.2" x2="351.9" y2="300.2" stroke="#e6e6e6" stroke-width="0.7"/>
<line x1="122.3" y1="293.9" x2="351.9" y2="293.9" stroke="#e6e6e6" stroke-width="0.7"/>
<line x1="122.3" y1="287.6" x2="351.9" y2="287.6" stroke="#e6e6e6" stroke-width="0.7"/>
<line x1="122.3" y1="281.3" x2="351.9" y2="281.3" stroke="#b6b6b6" stroke-width="0.7"/>
<line x1="122.3" y1="275.0" x2="351.9" y2="275.0" stroke="#e6e6e6" stroke-width="0.7"/>
<line x1="122.3" y1="268.7" x2="351.9" y2="268.7" stroke="#e6e6e6" stroke-width="0.7"/>
<line x1="122.3" y1="262.4" x2="351.9" y2="262.4" stroke="#e6e6e6" stroke-width="0.7"/>
<line x1="122.3" y1="256.1" x2="351.9" y2="256.1" stroke="#b6b6b6" stroke-width="0.7"/>
<line x1="122.3" y1="249.8" x2="351.9" y2="249.8" stroke="#e6e6e6" stroke-width="0.7"/>
<line x1="122.3" y1="243.6" x2="351.9" y2="243.6" stroke="#e6e6e6" stroke-width="0.7"/>
<line x1="122.3" y1="237.3" x2="351.9" y2="237.3" stroke="#e6e6e6" stroke-width="0.7"/>
<line x1="122.3" y1="231.0" x2="351.9" y2="231.0" stroke="#b6b6b6" stroke-width="0.7"/>
<line x1="122.3" y1="224.7" x2="351.9" y2="224.7" stroke="#e6e6e6" stroke-width="0.7"/>
<line x1="122.3" y1="218.4" x2="351.9" y2="218.4" stroke="#e6e6e6" stroke-width="0.7"/>
<line x1="133.8" y1="312.8" x2="133.8" y2="218.4" stroke="#e6e6e6" stroke-width="0.7"/>
<line x1="145.3" y1="312.8" x2="145.3" y2="218.4" stroke="#e6e6e6" stroke-width="0.7"/>
<line x1="156.7" y1="312.8" x2="156.7" y2="218.4" stroke="#e6e6e6" stroke-width="0.7"/>
<line x1="168.2" y1="312.8" x2="168.2" y2="218.4" stroke="#e6e6e6" stroke-width="0.7"/>
<line x1="179.7" y1="312.8" x2="179.7" y2="218.4" stroke="#b6b6b6" stroke-width="0.7"/>
<line x1="191.2" y1="312.8" x2="191.2" y2="218.4" stroke="#e6e6e6" stroke-width="0.7"/>
<line x1="202.7" y1="312.8" x2="202.7" y2="218.4" stroke="#e6e6e6" stroke-width="0.7"/>
<line x1="214.1" y1="312.8" x2="214.1" y2="218.4" stroke="#e6e6e6" stroke-width="0.7"/>
<line x1="225.6" y1="312.8" x2="225.6" y2="218.4" stroke="#e6e6e6" stroke-width="0.7"/>
<line x1="237.1" y1="312.8" x2="237.1" y2="218.4" stroke="#b6b6b6" stroke-width="0.7"/>
<line x1="248.6" y1="312.8" x2="248.6" y2="218.4" stroke="#e6e6e6" stroke-width="0.7"/>
<line x1="260.1" y1="312.8" x2="260.1" y2="218.4" stroke="#e6e6e6" stroke-width="0.7"/>
<line x1="271.5" y1="312.8" x2="271.5" y2="218.4" stroke="#e6e6e6" stroke-width="0.7"/>
<line x1="283.0" y1="312.8" x2="283.0" y2="218.4" stroke="#e6e6e6" stroke-width="0.7"/>
<line x1="294.5" y1="312.8" x2="294.5" y2="218.4" stroke="#b6b6b6" stroke-width="0.7"/>
<line x1="306.0" y1="312.8" x2="306.0" y2="218.4" stroke="#e6e6e6" stroke-width="0.7"/>
<line x1="317.5" y1="312.8" x2="317.5" y2="218.4" stroke="#e6e6e6" stroke-width="0.7"/>
<line x1="328.9" y1="312.8" x2="328.9" y2="218.4" stroke="#e6e6e6" stroke-width="0.7"/>
<line x1="340.4" y1="312.8" x2="340.4" y2="218.4" stroke="#e6e6e6" stroke-width="0.7"/>
<line x1="48.9" y1="391.9" x2="122.3" y2="306.5" stroke="#b6b6b6" stroke-width="0.7"/>
<line x1="48.9" y1="385.6" x2="122.3" y2="300.2" stroke="#e6e6e6" stroke-width="0.7"/>
<line x1="48.9" y1="379.3" x2="122.3" y2="293.9" stroke="#e6e6e6" stroke-width="0.7"/>
<line x1="48.9" y1="373.0" x2="122.3" y2="287.6" stroke="#e6e6e6" stroke-width="0.7"/>
<line x1="48.9" y1="366.7" x2="122.3" y2="281.3" stroke="#b6b6b6" stroke-width="0.7"/>
<line x1="48.9" y1="360.4" x2="122.3" y2="275.0" stroke="#e6e6e6" stroke-width="0.7"/>
<line x1="48.9" y1="354.1" x2="122.3" y2="268.7" stroke="#e6e6e6" stroke-width="0.7"/>
<line x1="48.9" y1="347.8" x2="122.3" y2="262.4" stroke="#e6e6e6" stroke-width="0.7"/>
<line x1="48.9" y1="341.5" x2="122.3" y2="256.1" stroke="#b6b6b6" stroke-width="0.7"/>
<line x1="48.9" y1="335.2" x2="122.3" y2="249.8" stroke="#e6e6e6" stroke-width="0.7"/>
<line x1="48.9" y1="329.0" x2="122.3" y2="243.6" stroke="#e6e6e6" stroke-width="0.7"/>
<line x1="48.9" y1="322.7" x2="122.3" y2="237.3" stroke="#e6e6e6" stroke-width="0.7"/>
<line x1="48.9" y1="316.4" x2="122.3" y2="231.0" stroke="#b6b6b6" stroke-width="0.7"/>
<line x1="48.9" y1="310.1" x2="122.3" y2="224.7" stroke="#e6e6e6" stroke-width="0.7"/>
<line x1="48.9" y1="303.8" x2="122.3" y2="218.4" stroke="#e6e6e6" stroke-width="0.7"/>
<line x1="117.7" y1="318.1" x2="117.7" y2="223.7" stroke="#d4d4d4" stroke-width="0.7"/>
<line x1="108.5" y1="328.8" x2="108.5" y2="234.4" stroke="#d4d4d4" stroke-width="0.7"/>
<line x1="99.4" y1="339.5" x2="99.4" y2="245.1" stroke="#d4d4d4" stroke-width="0.7"/>
<line x1="90.2" y1="350.2" x2="90.2" y2="255.7" stroke="#d4d4d4" stroke-width="0.7"/>
<line x1="81.0" y1="360.8" x2="81.0" y2="266.4" stroke="#d4d4d4" stroke-width="0.7"/>
<line x1="71.8" y1="371.5" x2="71.8" y2="277.1" stroke="#d4d4d4" stroke-width="0.7"/>
<line x1="62.7" y1="382.2" x2="62.7" y2="287.8" stroke="#d4d4d4" stroke-width="0.7"/>
<line x1="53.5" y1="392.9" x2="53.5" y2="298.4" stroke="#d4d4d4" stroke-width="0.7"/>
<line x1="122.3" y1="312.8" x2="122.3" y2="218.4" stroke="#999" stroke-width="0.8"/>
<line x1="122.3" y1="312.8" x2="351.9" y2="312.8" stroke="#999" stroke-width="0.8"/>
<line x1="122.3" y1="312.8" x2="48.9" y2="398.2" stroke="#999" stroke-width="0.8"/>
<polyline points="116.2,275.8 116.5,273.8 116.8,271.6 117.1,271.3 117.4,271.6 117.7,270.1 118.0,268.4 118.3,266.4 118.5,267.0 118.8,267.2 119.1,265.0 119.4,263.7 119.7,261.5 120.0,260.5 120.3,260.6 120.5,260.6 120.8,257.6 121.1,258.3 121.4,258.9 121.7,259.4 122.0,258.3 122.3,257.3 122.6,257.0 122.8,256.3 123.1,255.4 123.4,254.3 123.7,253.0 124.0,252.9 124.3,254.6 124.6,253.1 124.9,254.0 125.1,253.2 125.4,253.8 125.7,252.6 126.0,252.5 126.3,251.4 126.6,247.6 126.9,248.4 127.2,247.9 127.4,249.6 127.7,249.4 128.0,248.4 128.3,248.3 128.6,247.7 128.9,247.5 129.2,248.4 129.4,247.3 129.7,247.9 130.0,245.6 130.3,246.3 130.6,245.6 130.9,245.7 131.2,244.8 131.5,245.7 131.7,244.6 132.0,244.9 132.3,243.8 132.6,243.6 132.9,243.9 133.2,244.9 133.5,243.9 133.8,243.6 134.0,242.2 134.3,243.3 134.6,243.0 134.9,242.8 135.2,242.8 135.5,242.9 135.8,242.9 136.0,243.6 136.3,244.3 136.6,244.2 136.9,243.1 137.2,241.5 137.5,241.1 137.8,240.7 138.1,240.7 138.3,240.7 138.6,241.2 138.9,240.9 139.2,239.7 139.5,241.0 139.8,242.1 140.1,240.2 140.4,240.6 140.6,240.2 140.9,240.0 141.2,241.8 141.5,239.4 141.8,238.6 142.1,239.6 142.4,239.7 142.6,240.2 142.9,241.5 143.2,241.6 143.5,241.1 143.8,240.1 144.1,239.9 144.4,240.3 144.7,239.4 144.9,240.8 145.2,240.1 145.5,239.4 145.8,240.3 146.1,242.3 146.4,242.6 146.7,241.7 147.0,240.8 147.2,239.4 147.5,240.9 147.8,240.8 148.1,240.2 148.4,240.5 148.7,242.8 149.0,241.2 149.2,238.8 149.5,238.5 149.8,240.2 150.1,240.7 150.4,240.4 150.7,238.1 151.0,238.5 151.3,239.2 151.5,238.2 151.8,239.2 152.1,237.9 152.4,239.5 152.7,240.3 153.0,239.7 153.3,238.6 153.6,238.7 153.8,239.0 154.1,241.3 154.4,241.5 154.7,241.6 155.0,241.6 155.3,240.5 155.6,240.7 155.9,239.8 156.1,239.9 156.4,240.3 156.7,240.2 157.0,241.0 157.3,241.5 157.6,243.4 157.9,244.6 158.1,246.6 158.4,245.3 158.7,244.9 159.0,246.5 159.3,247.9 159.6,249.6 159.9,249.5 160.2,249.5 160.4,247.8 160.7,248.8 161.0,250.4 161.3,253.1 161.6,251.2 161.9,251.3 162.2,253.1 162.5,252.6 162.7,254.1 163.0,250.3 163.3,250.3 163.6,250.9 163.9,252.0 164.2,254.6 164.5,254.3 164.7,255.5 165.0,254.3 165.3,256.1 165.6,256.2 165.9,254.2 166.2,252.7 166.5,254.5 166.8,255.9 167.0,254.5 167.3,253.8 167.6,255.1 167.9,255.7 168.2,256.0 168.5,256.7 168.8,256.7 169.1,254.9 169.3,254.4 169.6,252.8 169.9,253.9 170.2,254.6 170.5,255.9 170.8,255.9 171.1,257.0 171.3,258.2 171.6,256.5 171.9,254.9 172.2,254.5 172.5,253.8 172.8,254.4 173.1,255.7 173.4,255.8 173.6,256.3 173.9,257.3 174.2,258.4 174.5,259.0 174.8,257.9 175.1,257.1 175.4,257.3 175.7,255.6 175.9,255.8 176.2,255.5 176.5,254.8 176.8,256.3 177.1,258.3 177.4,256.9 177.7,257.5 177.9,255.9 178.2,255.9 178.5,255.3 178.8,255.2 179.1,257.8 179.4,256.7 179.7,257.4 180.0,257.9 180.2,258.0 180.5,256.8 180.8,256.1 181.1,255.5 181.4,257.7 181.7,258.0 182.0,259.9 182.3,258.9 182.5,257.6 182.8,258.2 183.1,257.5 183.4,257.2 183.7,256.3 184.0,257.4 184.3,258.2 184.6,258.5 184.8,256.4 185.1,255.7 185.4,256.5 185.7,256.6 186.0,256.8 186.3,256.9 186.6,257.3 186.8,257.7 187.1,258.8 187.4,258.9 187.7,256.7 188.0,256.5 188.3,256.9 188.6,257.3 188.9,257.4 189.1,257.1 189.4,257.9 189.7,257.6 190.0,257.4 190.3,258.2 190.6,258.7 190.9,259.2 191.2,259.6 191.4,258.0 191.7,260.1 192.0,259.4 192.3,259.3 192.6,259.2 192.9,258.5 193.2,257.1 193.4,257.3 193.7,257.6 194.0,258.2 194.3,258.2 194.6,257.1 194.9,257.8 195.2,258.9 195.5,259.6 195.7,259.9 196.0,260.4 196.3,258.3 196.6,257.3 196.9,257.0 197.2,255.1 197.5,255.8 197.8,254.7 198.0,253.8 198.3,255.4 198.6,256.1 198.9,255.9 199.2,253.8 199.5,252.1 199.8,253.3 200.0,251.7 200.3,252.0 200.6,252.1 200.9,252.1 201.2,251.8 201.5,252.9 201.8,252.7 202.1,252.7 202.3,250.9 202.6,248.3 202.9,246.0 203.2,247.4 203.5,249.4 203.8,249.3 204.1,249.7 204.4,247.1 204.6,246.7 204.9,247.7 205.2,246.6 205.5,246.2 205.8,248.0 206.1,247.9 206.4,247.5 206.6,247.0 206.9,246.5 207.2,246.6 207.5,246.0 207.8,246.4 208.1,246.8 208.4,244.8 208.7,244.6 208.9,244.3 209.2,246.0 209.5,245.6 209.8,244.4 210.1,245.6 210.4,244.1 210.7,244.5 211.0,243.9 211.2,244.1 211.5,243.8 211.8,242.6 212.1,243.4 212.4,242.0 212.7,243.3 213.0,244.2 213.3,243.1 213.5,244.1 213.8,244.1 214.1,242.8 214.4,241.7 214.7,243.8 215.0,242.9 215.3,241.0 215.5,240.5 215.8,241.5 216.1,242.5 216.4,242.7 216.7,243.6 217.0,243.3 217.3,243.0 217.6,242.8 217.8,241.4 218.1,241.8 218.4,243.2 218.7,241.7 219.0,242.8 219.3,242.8 219.6,242.5 219.9,242.5 220.1,243.1 220.4,242.7 220.7,240.2 221.0,241.3 221.3,241.5 221.6,240.4 221.9,240.1 222.1,239.8 222.4,239.6 222.7,242.1 223.0,242.6 223.3,241.9 223.6,241.1 223.9,239.9 224.2,239.9 224.4,240.6 224.7,240.7 225.0,241.0 225.3,240.7 225.6,240.2 225.9,240.8 226.2,241.6 226.5,242.1 226.7,240.5 227.0,239.4 227.3,239.0 227.6,238.9 227.9,238.8 228.2,239.6 228.5,239.4 228.7,240.9 229.0,241.0 229.3,241.5 229.6,240.5 229.9,241.0 230.2,240.9 230.5,240.4 230.8,239.2 231.0,240.4 231.3,241.3 231.6,240.2 231.9,241.4 232.2,240.6 232.5,241.0 232.8,240.9 233.1,242.4 233.3,240.9 233.6,241.2 233.9,241.7 234.2,239.2 234.5,239.0 234.8,236.2 235.1,237.5 235.3,238.9 235.6,239.4 235.9,238.2 236.2,239.1 236.5,239.1 236.8,239.1 237.1,241.4 237.4,242.1 237.6,243.3 237.9,245.1 238.2,244.3 238.5,244.3 238.8,245.0 239.1,246.5 239.4,248.6 239.7,247.7 239.9,247.8 240.2,249.5 240.5,249.1 240.8,250.3 241.1,249.7 241.4,249.3 241.7,249.0 242.0,248.9 242.2,249.1 242.5,250.4 242.8,250.6 243.1,250.9 243.4,250.9 243.7,250.4 244.0,249.9 244.2,248.6 244.5,251.9 244.8,251.1 245.1,251.2 245.4,249.0 245.7,249.0 246.0,251.4 246.3,251.0 246.5,251.7 246.8,250.6 247.1,252.0 247.4,252.0 247.7,252.0 248.0,252.0 248.3,252.5 248.6,254.0 248.8,252.7 249.1,251.5 249.4,251.8 249.7,252.9 250.0,252.4 250.3,251.8 250.6,252.2 250.8,252.2 251.1,251.0 251.4,252.6 251.7,253.1 252.0,254.7 252.3,254.5 252.6,254.4 252.9,254.6 253.1,254.5 253.4,252.1 253.7,252.5 254.0,252.8 254.3,250.7 254.6,251.6 254.9,253.8 255.2,253.1 255.4,253.9 255.7,252.0 256.0,253.6 256.3,253.9 256.6,255.1 256.9,254.2 257.2,254.8 257.4,254.2 257.7,254.2 258.0,254.4 258.3,253.0 258.6,252.3 258.9,252.6 259.2,253.8 259.5,254.6 259.7,253.9 260.0,251.4 260.3,252.7 260.6,253.7 260.9,254.3 261.2,255.0 261.5,255.3 261.8,254.8 262.0,252.9 262.3,253.2 262.6,253.8 262.9,255.3 263.2,254.4 263.5,254.1 263.8,255.1 264.0,255.5 264.3,254.8 264.6,253.4 264.9,253.0 265.2,253.1 265.5,253.6 265.8,253.4 266.1,253.6 266.3,251.6 266.6,253.5 266.9,254.0 267.2,252.7 267.5,253.4 267.8,252.3 268.1,252.9 268.4,253.2 268.6,253.8 268.9,255.1 269.2,255.6 269.5,252.8 269.8,252.7 270.1,252.6 270.4,252.2 270.7,252.4 270.9,252.1 271.2,253.1 271.5,253.6 271.8,252.9 272.1,253.6 272.4,255.1 272.7,254.9 272.9,255.0 273.2,254.1 273.5,254.7 273.8,255.5 274.1,255.2 274.4,253.3 274.7,253.6 275.0,253.7 275.2,253.8 275.5,253.7 275.8,253.0 276.1,252.1 276.4,254.5 276.7,253.0 277.0,253.1 277.3,253.3 277.5,250.7 277.8,251.4 278.1,249.7 278.4,249.5 278.7,251.1 279.0,250.5 279.3,249.8 279.5,250.1 279.8,252.2 280.1,251.5 280.4,250.8 280.7,251.2 281.0,248.5 281.3,248.8 281.6,249.0 281.8,249.0 282.1,249.3 282.4,249.4 282.7,248.5 283.0,247.7 283.3,248.0 283.6,247.6 283.9,248.6 284.1,247.2 284.4,247.6 284.7,246.8 285.0,247.3 285.3,247.2 285.6,246.4 285.9,247.2 286.1,244.1 286.4,244.6 286.7,244.8 287.0,245.6 287.3,243.7 287.6,242.8 287.9,243.2 288.2,245.0 288.4,245.2 288.7,244.2 289.0,244.6 289.3,245.4 289.6,245.9 289.9,245.7 290.2,244.9 290.5,244.9 290.7,244.3 291.0,241.3 291.3,240.4 291.6,242.4 291.9,242.3 292.2,242.5 292.5,242.8 292.7,241.8 293.0,242.5 293.3,242.8 293.6,243.1 293.9,242.9 294.2,241.5 294.5,241.1 294.8,242.8 295.0,243.0 295.3,243.4 295.6,242.1 295.9,241.9 296.2,241.1 296.5,241.5 296.8,243.4 297.1,242.3 297.3,241.9 297.6,241.3 297.9,242.7 298.2,242.2 298.5,242.6 298.8,242.8 299.1,241.9 299.4,241.4 299.6,242.2 299.9,243.5 300.2,244.9 300.5,244.0 300.8,241.8 301.1,241.6 301.4,243.6 301.6,243.4 301.9,242.1 302.2,240.1 302.5,239.4 302.8,239.7 303.1,240.0 303.4,241.4 303.7,241.6 303.9,241.6 304.2,242.0 304.5,241.5 304.8,241.6 305.1,240.9 305.4,239.5 305.7,239.3 306.0,239.5 306.2,240.2 306.5,241.8 306.8,241.4 307.1,240.6 307.4,241.5 307.7,240.0 308.0,240.5 308.2,240.2 308.5,240.6 308.8,241.8 309.1,239.3 309.4,240.9 309.7,239.8 310.0,240.6 310.3,240.3 310.5,241.1 310.8,241.2 311.1,240.0 311.4,238.3 311.7,239.9 312.0,240.1 312.3,239.3 312.6,240.3 312.8,239.6 313.1,240.6 313.4,239.9 313.7,239.7 314.0,238.8 314.3,239.0 314.6,240.6 314.8,239.8 315.1,241.0 315.4,240.0 315.7,238.7 316.0,238.7 316.3,239.8 316.6,238.8 316.9,239.2 317.1,240.8 317.4,241.6 317.7,240.6 318.0,241.9 318.3,242.4 318.6,243.3 318.9,245.3 319.2,245.5 319.4,244.9 319.7,244.8 320.0,245.2 320.3,247.4 320.6,245.7 320.9,245.2 321.2,244.7 321.4,244.2 321.7,245.6 322.0,246.6 322.3,246.5 322.6,245.1 322.9,247.6 323.2,247.7 323.5,248.3 323.7,247.5 324.0,246.2 324.3,247.1 324.6,248.5 324.9,248.2 325.2,248.4 325.5,249.7 325.8,248.3 326.0,248.7 326.3,247.9 326.6,249.3 326.9,247.9 327.2,249.5 327.5,248.1 327.8,250.0 328.1,248.2 328.3,248.7 328.6,250.2 328.9,249.8 329.2,249.1 329.5,249.9 329.8,250.0 330.1,249.3 330.3,249.3 330.6,252.1 330.9,251.3 331.2,250.0 331.5,249.4 331.8,248.3 332.1,249.3 332.4,246.9 332.6,247.1 332.9,247.7 333.2,247.3 333.5,247.2 333.8,248.0 334.1,249.1 334.4,248.3 334.7,248.4 334.9,250.6 335.2,251.2 335.5,250.1 335.8,249.8 336.1,249.4 336.4,248.9 336.7,249.1 336.9,247.8 337.2,249.1 337.5,249.7 337.8,249.4 338.1,248.8 338.4,248.5 338.7,247.6 339.0,248.9 339.2,248.2 339.5,248.4 339.8,250.0 340.1,250.1 340.4,248.0 340.7,248.0 341.0,249.2 341.3,251.8 341.5,251.7 341.8,251.7 342.1,250.9 342.4,248.4 342.7,248.3 343.0,248.7 343.3,250.1 343.5,251.2 343.8,250.9 344.1,251.0 344.4,247.8 344.7,249.1 345.0,250.1 345.3,249.0 345.6,249.4 345.8,250.9" fill="none" stroke="#f7abab" stroke-width="0.85" stroke-linejoin="round"/>
<polyline points="114.0,285.8 114.3,285.3 114.6,285.4 114.9,283.5 115.2,281.7 115.5,280.9 115.8,279.1 116.1,277.4 116.3,277.6 116.6,278.5 116.9,278.9 117.2,276.6 117.5,273.7 117.8,271.7 118.1,269.9 118.3,268.0 118.6,268.3 118.9,267.2 119.2,268.6 119.5,267.1 119.8,266.2 120.1,265.9 120.4,265.7 120.6,266.0 120.9,264.8 121.2,262.7 121.5,262.8 121.8,261.7 122.1,262.0 122.4,261.1 122.7,261.6 122.9,260.3 123.2,260.0 123.5,259.1 123.8,259.2 124.1,259.6 124.4,258.9 124.7,257.1 124.9,255.3 125.2,255.8 125.5,255.0 125.8,254.3 126.1,254.2 126.4,255.8 126.7,254.8 127.0,255.3 127.2,253.5 127.5,252.6 127.8,252.2 128.1,254.8 128.4,253.2 128.7,252.1 129.0,253.2 129.3,251.6 129.5,251.5 129.8,251.5 130.1,251.9 130.4,252.4 130.7,252.0 131.0,248.4 131.3,248.9 131.5,249.1 131.8,249.9 132.1,250.3 132.4,250.4 132.7,250.8 133.0,249.2 133.3,249.3 133.6,248.2 133.8,249.4 134.1,248.1 134.4,248.2 134.7,247.5 135.0,247.8 135.3,248.6 135.6,247.1 135.9,247.7 136.1,247.7 136.4,248.4 136.7,247.7 137.0,247.9 137.3,247.2 137.6,246.8 137.9,247.4 138.2,248.5 138.4,247.3 138.7,246.1 139.0,245.6 139.3,247.0 139.6,246.1 139.9,245.8 140.2,245.7 140.4,245.4 140.7,245.9 141.0,245.7 141.3,244.9 141.6,245.7 141.9,247.1 142.2,246.6 142.5,246.0 142.7,247.6 143.0,247.4 143.3,246.0 143.6,245.9 143.9,245.6 144.2,246.6 144.5,245.2 144.8,243.5 145.0,244.4 145.3,245.3 145.6,246.3 145.9,245.0 146.2,244.9 146.5,245.6 146.8,244.2 147.0,243.7 147.3,243.6 147.6,245.7 147.9,245.4 148.2,244.6 148.5,245.8 148.8,244.4 149.1,243.2 149.3,242.8 149.6,244.2 149.9,245.0 150.2,243.9 150.5,243.2 150.8,242.6 151.1,242.2 151.4,243.2 151.6,244.1 151.9,245.9 152.2,244.6 152.5,242.3 152.8,243.6 153.1,244.3 153.4,243.7 153.6,243.6 153.9,245.1 154.2,245.5 154.5,246.0 154.8,244.6 155.1,246.7 155.4,246.8 155.7,246.2 155.9,246.1 156.2,246.7 156.5,247.1 156.8,250.3 157.1,251.6 157.4,252.9 157.7,253.4 158.0,251.1 158.2,253.9 158.5,253.6 158.8,255.3 159.1,254.0 159.4,253.3 159.7,254.7 160.0,253.2 160.2,254.3 160.5,253.8 160.8,254.6 161.1,255.9 161.4,256.6 161.7,256.9 162.0,256.4 162.3,256.6 162.5,254.7 162.8,256.0 163.1,257.1 163.4,258.0 163.7,258.7 164.0,259.7 164.3,260.0 164.6,258.4 164.8,258.3 165.1,258.5 165.4,258.1 165.7,257.3 166.0,257.2 166.3,257.1 166.6,258.3 166.9,258.7 167.1,259.5 167.4,259.4 167.7,260.0 168.0,260.0 168.3,259.8 168.6,259.8 168.9,259.8 169.1,260.1 169.4,258.6 169.7,259.2 170.0,260.3 170.3,259.8 170.6,260.7 170.9,261.3 171.2,260.6 171.4,261.8 171.7,264.0 172.0,262.1 172.3,260.2 172.6,261.7 172.9,261.8 173.2,260.5 173.5,262.2 173.7,262.2 174.0,262.5 174.3,261.7 174.6,263.0 174.9,261.0 175.2,260.8 175.5,260.3 175.7,260.6 176.0,262.5 176.3,261.8 176.6,262.5 176.9,261.7 177.2,262.0 177.5,261.7 177.8,261.4 178.0,260.3 178.3,259.7 178.6,261.0 178.9,260.9 179.2,259.4 179.5,259.4 179.8,260.6 180.1,260.8 180.3,261.1 180.6,260.1 180.9,260.3 181.2,260.2 181.5,258.3 181.8,260.6 182.1,261.7 182.3,263.0 182.6,263.7 182.9,261.8 183.2,261.2 183.5,259.5 183.8,262.0 184.1,262.4 184.4,260.5 184.6,259.7 184.9,259.4 185.2,259.3 185.5,259.9 185.8,260.4 186.1,260.7 186.4,260.0 186.7,260.6 186.9,260.5 187.2,259.4 187.5,261.2 187.8,261.9 188.1,261.1 188.4,261.4 188.7,261.5 188.9,259.4 189.2,259.7 189.5,260.7 189.8,259.9 190.1,258.1 190.4,260.4 190.7,261.4 191.0,261.2 191.2,261.9 191.5,259.6 191.8,259.8 192.1,260.8 192.4,260.5 192.7,261.6 193.0,262.1 193.3,261.7 193.5,259.3 193.8,262.3 194.1,261.5 194.4,259.7 194.7,259.0 195.0,257.3 195.3,257.5 195.6,257.7 195.8,258.0 196.1,258.7 196.4,256.6 196.7,257.8 197.0,257.4 197.3,257.4 197.6,257.5 197.8,258.8 198.1,257.7 198.4,256.5 198.7,255.6 199.0,254.2 199.3,254.3 199.6,254.7 199.9,253.9 200.1,253.0 200.4,253.8 200.7,254.8 201.0,254.8 201.3,252.7 201.6,251.5 201.9,252.4 202.2,251.9 202.4,250.9 202.7,249.7 203.0,250.8 203.3,251.0 203.6,249.4 203.9,247.5 204.2,247.1 204.4,249.3 204.7,249.1 205.0,249.6 205.3,249.6 205.6,250.1 205.9,250.2 206.2,249.7 206.5,247.7 206.7,247.4 207.0,247.5 207.3,247.8 207.6,248.7 207.9,248.7 208.2,247.3 208.5,246.8 208.8,245.3 209.0,246.0 209.3,246.7 209.6,248.5 209.9,247.7 210.2,249.2 210.5,246.9 210.8,247.6 211.0,247.4 211.3,248.5 211.6,248.3 211.9,248.5 212.2,246.7 212.5,246.4 212.8,247.6 213.1,248.9 213.3,248.0 213.6,247.8 213.9,248.2 214.2,246.8 214.5,246.7 214.8,246.3 215.1,246.7 215.4,246.9 215.6,246.9 215.9,248.0 216.2,246.5 216.5,245.8 216.8,247.3 217.1,246.5 217.4,245.0 217.6,245.0 217.9,243.9 218.2,244.8 218.5,245.0 218.8,246.3 219.1,246.7 219.4,247.8 219.7,247.6 219.9,246.4 220.2,245.4 220.5,244.1 220.8,244.4 221.1,245.5 221.4,244.9 221.7,245.0 222.0,243.3 222.2,242.0 222.5,242.2 222.8,244.3 223.1,245.0 223.4,244.7 223.7,245.4 224.0,244.6 224.3,244.0 224.5,243.4 224.8,243.7 225.1,244.9 225.4,245.5 225.7,245.2 226.0,243.7 226.3,242.5 226.5,242.4 226.8,242.9 227.1,242.8 227.4,242.7 227.7,242.1 228.0,242.2 228.3,244.5 228.6,243.5 228.8,243.5 229.1,244.2 229.4,243.8 229.7,243.7 230.0,244.0 230.3,245.7 230.6,245.0 230.9,244.1 231.1,244.2 231.4,245.7 231.7,244.7 232.0,243.8 232.3,243.7 232.6,243.5 232.9,244.1 233.1,244.7 233.4,244.0 233.7,244.4 234.0,244.1 234.3,241.0 234.6,241.6 234.9,243.4 235.2,246.4 235.4,246.9 235.7,246.8 236.0,248.3 236.3,249.0 236.6,251.5 236.9,250.5 237.2,251.2 237.5,250.5 237.7,249.6 238.0,250.6 238.3,250.2 238.6,250.8 238.9,251.7 239.2,252.3 239.5,253.4 239.7,252.0 240.0,251.7 240.3,253.4 240.6,252.7 240.9,253.8 241.2,255.2 241.5,253.6 241.8,255.0 242.0,253.6 242.3,253.7 242.6,253.2 242.9,253.3 243.2,252.7 243.5,253.2 243.8,253.3 244.1,253.7 244.3,253.2 244.6,254.3 244.9,253.7 245.2,252.9 245.5,253.9 245.8,254.1 246.1,255.1 246.3,255.5 246.6,255.3 246.9,255.8 247.2,256.6 247.5,256.3 247.8,255.9 248.1,255.6 248.4,255.0 248.6,257.1 248.9,255.3 249.2,255.8 249.5,256.6 249.8,256.8 250.1,256.1 250.4,255.3 250.7,256.0 250.9,256.0 251.2,257.6 251.5,257.0 251.8,256.8 252.1,257.1 252.4,256.0 252.7,254.5 253.0,254.3 253.2,256.0 253.5,254.8 253.8,255.8 254.1,256.2 254.4,256.9 254.7,256.4 255.0,256.0 255.2,256.2 255.5,256.6 255.8,256.8 256.1,257.2 256.4,256.2 256.7,257.0 257.0,257.1 257.3,257.2 257.5,257.8 257.8,257.7 258.1,258.8 258.4,257.7 258.7,256.9 259.0,257.3 259.3,255.7 259.6,257.1 259.8,256.6 260.1,256.3 260.4,257.2 260.7,257.4 261.0,256.5 261.3,256.7 261.6,256.7 261.8,255.6 262.1,256.1 262.4,258.1 262.7,258.5 263.0,257.2 263.3,257.4 263.6,258.4 263.9,259.8 264.1,258.5 264.4,256.7 264.7,258.1 265.0,259.9 265.3,258.4 265.6,258.5 265.9,258.4 266.2,258.3 266.4,258.8 266.7,257.9 267.0,256.9 267.3,256.8 267.6,257.6 267.9,256.6 268.2,257.1 268.4,256.7 268.7,257.9 269.0,257.2 269.3,256.6 269.6,255.8 269.9,256.5 270.2,256.5 270.5,257.5 270.7,256.7 271.0,256.3 271.3,255.8 271.6,256.9 271.9,258.3 272.2,258.1 272.5,258.1 272.8,258.6 273.0,257.7 273.3,256.8 273.6,256.8 273.9,256.1 274.2,256.4 274.5,257.8 274.8,257.9 275.0,257.6 275.3,256.3 275.6,255.2 275.9,255.1 276.2,254.2 276.5,255.2 276.8,255.0 277.1,253.2 277.3,253.1 277.6,252.3 277.9,254.5 278.2,255.4 278.5,255.2 278.8,253.2 279.1,251.3 279.4,252.2 279.6,253.0 279.9,253.4 280.2,253.4 280.5,252.0 280.8,251.9 281.1,249.7 281.4,249.4 281.7,250.4 281.9,250.1 282.2,250.2 282.5,249.3 282.8,248.6 283.1,249.3 283.4,248.5 283.7,248.3 283.9,248.7 284.2,248.5 284.5,248.0 284.8,248.5 285.1,249.2 285.4,247.7 285.7,247.9 286.0,248.5 286.2,247.9 286.5,249.3 286.8,248.6 287.1,249.5 287.4,249.1 287.7,250.1 288.0,249.7 288.3,247.9 288.5,247.7 288.8,248.6 289.1,246.3 289.4,247.1 289.7,245.6 290.0,246.5 290.3,247.9 290.5,245.7 290.8,246.4 291.1,245.7 291.4,244.8 291.7,246.6 292.0,246.4 292.3,246.8 292.6,245.9 292.8,246.0 293.1,247.1 293.4,246.5 293.7,245.5 294.0,245.9 294.3,245.3 294.6,245.9 294.9,245.8 295.1,245.4 295.4,245.3 295.7,244.2 296.0,243.8 296.3,243.6 296.6,243.6 296.9,244.1 297.1,245.6 297.4,244.5 297.7,243.1 298.0,243.7 298.3,244.5 298.6,244.7 298.9,243.7 299.2,243.9 299.4,245.2 299.7,245.2 300.0,245.8 300.3,245.6 300.6,246.1 300.9,246.4 301.2,244.3 301.5,243.5 301.7,245.5 302.0,246.0 302.3,245.9 302.6,245.7 302.9,246.5 303.2,244.9 303.5,246.2 303.7,244.9 304.0,244.1 304.3,244.6 304.6,245.1 304.9,244.8 305.2,244.5 305.5,246.4 305.8,246.7 306.0,245.3 306.3,245.0 306.6,245.1 306.9,245.7 307.2,245.8 307.5,245.9 307.8,242.6 308.1,244.4 308.3,242.9 308.6,243.0 308.9,243.3 309.2,243.4 309.5,244.1 309.8,242.6 310.1,242.8 310.4,243.3 310.6,243.8 310.9,243.7 311.2,244.9 311.5,244.9 311.8,245.1 312.1,244.1 312.4,243.5 312.6,245.5 312.9,245.1 313.2,243.7 313.5,245.0 313.8,245.7 314.1,244.1 314.4,244.2 314.7,244.5 314.9,245.4 315.2,245.4 315.5,246.2 315.8,246.2 316.1,246.2 316.4,246.1 316.7,247.1 317.0,248.1 317.2,248.2 317.5,248.6 317.8,248.6 318.1,249.4 318.4,249.7 318.7,250.3 319.0,250.7 319.2,250.3 319.5,249.3 319.8,250.2 320.1,249.8 320.4,249.9 320.7,250.2 321.0,249.9 321.3,250.9 321.5,250.5 321.8,250.5 322.1,254.1 322.4,252.7 322.7,251.7 323.0,249.8 323.3,251.6 323.6,251.5 323.8,251.3 324.1,252.4 324.4,251.1 324.7,251.1 325.0,252.2 325.3,253.3 325.6,253.2 325.8,250.6 326.1,249.3 326.4,252.8 326.7,254.3 327.0,252.9 327.3,252.8 327.6,253.3 327.9,252.4 328.1,252.4 328.4,252.2 328.7,252.1 329.0,253.4 329.3,251.9 329.6,252.7 329.9,251.7 330.2,251.5 330.4,252.0 330.7,252.2 331.0,252.5 331.3,254.4 331.6,254.1 331.9,253.3 332.2,254.7 332.4,255.4 332.7,253.5 333.0,252.6 333.3,254.2 333.6,253.4 333.9,253.3 334.2,252.4 334.5,253.0 334.7,253.3 335.0,254.0 335.3,253.5 335.6,253.6 335.9,254.1 336.2,254.1 336.5,254.5 336.8,253.5 337.0,254.4 337.3,255.4 337.6,255.5 337.9,253.7 338.2,254.1 338.5,253.2 338.8,252.6 339.1,253.5 339.3,252.8 339.6,252.6 339.9,253.0 340.2,253.9 340.5,253.8 340.8,254.9 341.1,254.6 341.3,254.8 341.6,253.9 341.9,253.5 342.2,254.1 342.5,253.1 342.8,252.2 343.1,252.8 343.4,253.8 343.6,253.3" fill="none" stroke="#f38b8b" stroke-width="0.85" stroke-linejoin="round"/>
<polyline points="112.1,299.1 112.4,297.4 112.7,294.7 113.0,291.3 113.3,291.4 113.6,288.8 113.8,286.1 114.1,284.4 114.4,286.9 114.7,284.8 115.0,284.0 115.3,282.3 115.6,282.1 115.8,281.9 116.1,281.1 116.4,278.7 116.7,277.5 117.0,277.5 117.3,276.6 117.6,275.2 117.9,274.4 118.1,274.2 118.4,274.3 118.7,274.2 119.0,273.6 119.3,273.0 119.6,273.4 119.9,273.2 120.2,270.7 120.4,270.9 120.7,270.9 121.0,269.5 121.3,267.0 121.6,265.5 121.9,266.0 122.2,266.6 122.4,266.3 122.7,266.3 123.0,265.8 123.3,264.4 123.6,264.8 123.9,264.5 124.2,263.8 124.5,262.9 124.7,263.0 125.0,262.8 125.3,262.9 125.6,262.5 125.9,260.9 126.2,260.5 126.5,262.9 126.8,260.6 127.0,259.8 127.3,259.9 127.6,259.3 127.9,261.4 128.2,261.3 128.5,258.5 128.8,255.8 129.0,254.0 129.3,255.6 129.6,255.7 129.9,255.0 130.2,256.3 130.5,254.2 130.8,255.2 131.1,254.7 131.3,255.8 131.6,254.9 131.9,254.6 132.2,253.4 132.5,254.6 132.8,254.2 133.1,252.2 133.4,253.8 133.6,253.2 133.9,252.7 134.2,253.2 134.5,253.2 134.8,251.6 135.1,250.8 135.4,250.9 135.6,251.1 135.9,252.5 136.2,252.1 136.5,250.3 136.8,249.8 137.1,251.7 137.4,253.5 137.7,253.2 137.9,252.2 138.2,252.3 138.5,252.0 138.8,251.2 139.1,250.2 139.4,250.1 139.7,249.1 140.0,251.0 140.2,250.3 140.5,249.9 140.8,251.4 141.1,249.7 141.4,251.3 141.7,252.1 142.0,248.7 142.3,247.9 142.5,248.3 142.8,247.5 143.1,247.3 143.4,249.2 143.7,248.9 144.0,247.8 144.3,248.5 144.5,248.8 144.8,249.4 145.1,248.6 145.4,249.3 145.7,249.8 146.0,250.6 146.3,250.8 146.6,249.9 146.8,249.0 147.1,249.3 147.4,250.1 147.7,249.2 148.0,248.7 148.3,247.5 148.6,248.4 148.9,248.9 149.1,248.2 149.4,246.9 149.7,247.6 150.0,248.0 150.3,249.0 150.6,249.1 150.9,247.9 151.1,247.3 151.4,246.6 151.7,248.8 152.0,247.8 152.3,248.8 152.6,248.0 152.9,251.8 153.2,252.3 153.4,253.7 153.7,252.9 154.0,253.9 154.3,253.6 154.6,255.4 154.9,254.4 155.2,256.3 155.5,255.5 155.7,257.4 156.0,259.3 156.3,258.7 156.6,259.8 156.9,260.3 157.2,261.9 157.5,262.0 157.7,261.8 158.0,262.6 158.3,262.1 158.6,264.4 158.9,262.9 159.2,263.3 159.5,261.8 159.8,262.7 160.0,263.7 160.3,264.1 160.6,263.7 160.9,263.2 161.2,264.0 161.5,264.9 161.8,264.3 162.1,263.6 162.3,265.6 162.6,266.3 162.9,266.3 163.2,264.2 163.5,263.3 163.8,263.3 164.1,263.6 164.3,265.4 164.6,264.3 164.9,265.2 165.2,266.1 165.5,264.1 165.8,266.2 166.1,264.7 166.4,265.0 166.6,266.3 166.9,266.0 167.2,266.9 167.5,266.4 167.8,267.0 168.1,267.9 168.4,264.7 168.7,265.9 168.9,265.2 169.2,265.8 169.5,265.5 169.8,267.2 170.1,268.0 170.4,270.6 170.7,268.2 171.0,267.2 171.2,268.2 171.5,266.9 171.8,266.4 172.1,263.9 172.4,264.9 172.7,264.9 173.0,265.3 173.2,265.3 173.5,266.1 173.8,267.0 174.1,266.5 174.4,265.6 174.7,267.5 175.0,268.6 175.3,268.2 175.5,266.2 175.8,266.9 176.1,268.8 176.4,267.6 176.7,266.9 177.0,265.3 177.3,266.1 177.6,264.9 177.8,266.7 178.1,266.3 178.4,266.8 178.7,268.3 179.0,268.4 179.3,266.9 179.6,266.3 179.8,267.3 180.1,266.5 180.4,266.2 180.7,266.1 181.0,266.6 181.3,266.9 181.6,268.2 181.9,268.2 182.1,268.1 182.4,268.8 182.7,268.8 183.0,268.4 183.3,268.1 183.6,267.1 183.9,268.6 184.2,268.8 184.4,268.3 184.7,268.7 185.0,268.2 185.3,268.7 185.6,267.4 185.9,268.0 186.2,269.2 186.4,268.2 186.7,266.7 187.0,269.2 187.3,269.0 187.6,268.7 187.9,267.6 188.2,266.5 188.5,267.4 188.7,269.3 189.0,268.4 189.3,267.5 189.6,267.4 189.9,267.8 190.2,268.9 190.5,266.4 190.8,268.4 191.0,269.9 191.3,268.4 191.6,268.2 191.9,267.7 192.2,267.7 192.5,265.9 192.8,264.9 193.0,265.9 193.3,264.9 193.6,266.1 193.9,267.2 194.2,264.9 194.5,264.9 194.8,266.3 195.1,265.0 195.3,264.7 195.6,263.2 195.9,262.7 196.2,262.9 196.5,262.8 196.8,261.2 197.1,261.8 197.4,260.9 197.6,261.4 197.9,260.1 198.2,258.0 198.5,257.7 198.8,256.9 199.1,257.0 199.4,258.2 199.7,258.3 199.9,257.8 200.2,257.1 200.5,257.5 200.8,256.5 201.1,257.1 201.4,256.6 201.7,256.3 201.9,257.1 202.2,255.5 202.5,255.3 202.8,255.1 203.1,255.0 203.4,256.8 203.7,257.2 204.0,256.8 204.2,254.7 204.5,254.9 204.8,253.8 205.1,254.7 205.4,254.9 205.7,254.7 206.0,253.0 206.3,254.5 206.5,254.0 206.8,253.0 207.1,252.7 207.4,252.5 207.7,251.6 208.0,251.5 208.3,252.6 208.5,251.7 208.8,252.4 209.1,252.4 209.4,250.6 209.7,248.6 210.0,248.3 210.3,249.0 210.6,250.5 210.8,251.4 211.1,249.6 211.4,249.7 211.7,251.4 212.0,249.6 212.3,249.4 212.6,248.5 212.9,248.8 213.1,251.4 213.4,251.6 213.7,251.1 214.0,250.8 214.3,249.0 214.6,250.0 214.9,250.0 215.1,249.9 215.4,249.9 215.7,250.8 216.0,251.4 216.3,253.1 216.6,251.3 216.9,250.7 217.2,249.9 217.4,250.7 217.7,250.1 218.0,250.6 218.3,251.0 218.6,249.9 218.9,248.9 219.2,248.4 219.5,248.6 219.7,249.1 220.0,247.6 220.3,246.9 220.6,248.2 220.9,249.4 221.2,248.8 221.5,248.4 221.7,249.3 222.0,246.8 222.3,249.5 222.6,249.9 222.9,249.1 223.2,247.9 223.5,249.8 223.8,249.6 224.0,247.7 224.3,246.6 224.6,247.5 224.9,247.8 225.2,248.8 225.5,248.2 225.8,249.2 226.1,250.7 226.3,251.1 226.6,249.8 226.9,250.4 227.2,248.4 227.5,247.0 227.8,246.5 228.1,246.4 228.4,246.0 228.6,246.5 228.9,246.2 229.2,246.5 229.5,246.3 229.8,247.9 230.1,248.5 230.4,249.2 230.6,247.8 230.9,247.3 231.2,248.3 231.5,249.0 231.8,249.1 232.1,247.7 232.4,247.8 232.7,248.0 232.9,249.8 233.2,250.6 233.5,249.8 233.8,251.8 234.1,253.0 234.4,252.0 234.7,252.5 235.0,254.9 235.2,254.3 235.5,256.4 235.8,256.1 236.1,259.0 236.4,259.4 236.7,258.0 237.0,258.7 237.2,259.3 237.5,259.1 237.8,259.1 238.1,259.6 238.4,260.2 238.7,258.3 239.0,257.5 239.3,258.2 239.5,260.1 239.8,260.8 240.1,261.0 240.4,260.4 240.7,259.0 241.0,260.3 241.3,260.5 241.6,261.2 241.8,261.1 242.1,261.9 242.4,261.4 242.7,260.4 243.0,261.3 243.3,261.8 243.6,261.7 243.8,263.1 244.1,260.9 244.4,262.7 244.7,262.8 245.0,263.5 245.3,261.6 245.6,262.4 245.9,262.9 246.1,261.0 246.4,261.7 246.7,262.9 247.0,262.8 247.3,262.6 247.6,263.4 247.9,263.4 248.2,263.4 248.4,262.6 248.7,262.0 249.0,261.7 249.3,262.4 249.6,262.0 249.9,262.7 250.2,261.8 250.4,262.0 250.7,263.0 251.0,262.0 251.3,264.0 251.6,264.7 251.9,265.0 252.2,264.6 252.5,265.4 252.7,265.8 253.0,266.8 253.3,265.4 253.6,265.5 253.9,262.7 254.2,262.4 254.5,264.1 254.8,262.8 255.0,263.1 255.3,262.4 255.6,264.1 255.9,263.0 256.2,262.3 256.5,263.4 256.8,264.5 257.1,264.7 257.3,264.2 257.6,261.9 257.9,261.1 258.2,260.9 258.5,262.4 258.8,263.5 259.1,263.4 259.3,264.0 259.6,264.6 259.9,264.7 260.2,263.7 260.5,264.1 260.8,264.0 261.1,264.4 261.4,264.6 261.6,264.8 261.9,263.5 262.2,263.7 262.5,262.6 262.8,263.5 263.1,262.9 263.4,264.9 263.7,265.1 263.9,265.0 264.2,265.4 264.5,265.2 264.8,265.8 265.1,265.5 265.4,265.8 265.7,265.3 265.9,265.3 266.2,266.0 266.5,265.9 266.8,265.4 267.1,266.3 267.4,265.6 267.7,264.1 268.0,264.5 268.2,264.1 268.5,263.8 268.8,264.9 269.1,263.6 269.4,261.7 269.7,263.9 270.0,262.2 270.3,263.9 270.5,262.9 270.8,265.4 271.1,264.1 271.4,264.3 271.7,265.7 272.0,266.2 272.3,266.6 272.5,266.8 272.8,265.2 273.1,264.6 273.4,266.3 273.7,265.1 274.0,263.4 274.3,262.6 274.6,260.5 274.8,262.4 275.1,261.5 275.4,260.9 275.7,259.8 276.0,261.0 276.3,261.5 276.6,260.7 276.9,259.8 277.1,260.9 277.4,259.4 277.7,258.8 278.0,257.6 278.3,259.9 278.6,258.3 278.9,258.5 279.1,258.1 279.4,256.6 279.7,254.8 280.0,255.0 280.3,255.3 280.6,254.1 280.9,255.3 281.2,255.3 281.4,255.6 281.7,256.1 282.0,255.2 282.3,252.8 282.6,253.0 282.9,252.9 283.2,253.2 283.5,252.2 283.7,252.5 284.0,253.6 284.3,253.2 284.6,251.7 284.9,252.2 285.2,251.2 285.5,251.7 285.8,250.0 286.0,250.6 286.3,250.5 286.6,251.3 286.9,250.7 287.2,251.3 287.5,252.8 287.8,252.0 288.0,252.8 288.3,250.8 288.6,250.1 288.9,250.5 289.2,250.0 289.5,252.8 289.8,250.5 290.1,251.2 290.3,250.3 290.6,247.9 290.9,250.4 291.2,250.8 291.5,250.2 291.8,249.8 292.1,251.5 292.4,251.8 292.6,249.6 292.9,250.3 293.2,249.5 293.5,250.9 293.8,251.3 294.1,252.3 294.4,250.9 294.6,249.2 294.9,249.2 295.2,249.5 295.5,249.2 295.8,248.8 296.1,249.2 296.4,248.6 296.7,247.0 296.9,245.7 297.2,247.5 297.5,249.3 297.8,247.3 298.1,247.0 298.4,246.5 298.7,246.9 299.0,247.8 299.2,247.2 299.5,246.7 299.8,246.4 300.1,248.3 300.4,247.4 300.7,248.2 301.0,248.6 301.2,248.2 301.5,248.6 301.8,246.3 302.1,246.6 302.4,247.0 302.7,247.7 303.0,247.7 303.3,248.1 303.5,247.6 303.8,247.0 304.1,246.7 304.4,248.4 304.7,248.6 305.0,248.3 305.3,249.4 305.6,248.5 305.8,248.4 306.1,248.2 306.4,247.7 306.7,248.4 307.0,246.7 307.3,246.2 307.6,247.4 307.8,247.1 308.1,246.7 308.4,247.9 308.7,248.2 309.0,247.4 309.3,250.0 309.6,250.4 309.9,249.0 310.1,247.9 310.4,248.7 310.7,247.5 311.0,245.5 311.3,246.2 311.6,246.8 311.9,247.1 312.2,248.3 312.4,247.5 312.7,247.4 313.0,246.8 313.3,246.7 313.6,248.3 313.9,249.3 314.2,250.1 314.5,249.4 314.7,252.2 315.0,252.7 315.3,253.8 315.6,253.8 315.9,253.3 316.2,253.9 316.5,253.7 316.7,254.3 317.0,255.5 317.3,256.3 317.6,257.6 317.9,256.9 318.2,257.2 318.5,256.2 318.8,255.6 319.0,257.0 319.3,258.1 319.6,257.3 319.9,258.2 320.2,257.8 320.5,257.2 320.8,257.8 321.1,256.2 321.3,257.7 321.6,257.5 321.9,258.2 322.2,261.0 322.5,260.1 322.8,259.6 323.1,258.7 323.3,258.8 323.6,259.5 323.9,259.7 324.2,259.6 324.5,258.6 324.8,259.0 325.1,257.9 325.4,257.6 325.6,258.9 325.9,258.1 326.2,260.7 326.5,260.1 326.8,260.8 327.1,260.3 327.4,258.9 327.7,259.1 327.9,259.5 328.2,258.3 328.5,259.6 328.8,260.4 329.1,259.2 329.4,258.9 329.7,260.6 329.9,260.1 330.2,259.3 330.5,259.7 330.8,260.2 331.1,260.0 331.4,259.8 331.7,260.6 332.0,259.6 332.2,261.3 332.5,260.9 332.8,258.6 333.1,260.2 333.4,260.3 333.7,262.4 334.0,262.3 334.3,262.6 334.5,261.6 334.8,261.6 335.1,259.4 335.4,260.7 335.7,260.6 336.0,260.3 336.3,259.8 336.5,259.2 336.8,261.2 337.1,258.9 337.4,259.8 337.7,260.8 338.0,262.3 338.3,262.0 338.6,263.2 338.8,262.0 339.1,262.0 339.4,261.2 339.7,261.7 340.0,261.3 340.3,258.9 340.6,258.6 340.9,259.3 341.1,260.8 341.4,259.4 341.7,261.6" fill="none" stroke="#ee6a66" stroke-width="0.85" stroke-linejoin="round"/>
<polyline points="101.2,313.8 101.5,311.0 101.8,310.8 102.1,308.4 102.3,307.4 102.6,304.9 102.9,303.4 103.2,303.3 103.5,304.1 103.8,303.0 104.1,301.3 104.4,301.2 104.6,303.7 104.9,302.5 105.2,301.5 105.5,300.3 105.8,299.5 106.1,297.4 106.4,298.1 106.7,296.7 106.9,297.9 107.2,298.5 107.5,297.5 107.8,296.4 108.1,295.7 108.4,294.8 108.7,292.8 108.9,291.4 109.2,290.8 109.5,290.1 109.8,290.3 110.1,290.5 110.4,290.9 110.7,289.9 111.0,289.8 111.2,288.8 111.5,287.0 111.8,285.9 112.1,284.3 112.4,285.3 112.7,287.0 113.0,286.7 113.3,283.5 113.5,282.6 113.8,283.0 114.1,281.4 114.4,281.9 114.7,280.1 115.0,280.9 115.3,281.1 115.5,280.1 115.8,281.1 116.1,280.7 116.4,278.3 116.7,278.1 117.0,279.3 117.3,279.1 117.6,278.7 117.8,279.0 118.1,277.9 118.4,276.4 118.7,276.5 119.0,275.6 119.3,275.6 119.6,275.6 119.9,276.3 120.1,275.0 120.4,273.8 120.7,274.7 121.0,275.5 121.3,274.5 121.6,274.3 121.9,273.1 122.1,272.9 122.4,273.2 122.7,274.6 123.0,273.4 123.3,273.1 123.6,274.1 123.9,274.8 124.2,275.5 124.4,273.5 124.7,273.3 125.0,275.8 125.3,274.9 125.6,274.1 125.9,273.0 126.2,272.1 126.5,271.9 126.7,270.7 127.0,269.6 127.3,270.1 127.6,268.6 127.9,269.3 128.2,270.3 128.5,269.9 128.7,271.1 129.0,270.7 129.3,271.1 129.6,270.8 129.9,269.9 130.2,271.8 130.5,270.2 130.8,269.3 131.0,269.2 131.3,268.2 131.6,267.9 131.9,268.3 132.2,269.2 132.5,268.0 132.8,267.2 133.1,268.8 133.3,269.0 133.6,269.5 133.9,267.9 134.2,268.2 134.5,269.0 134.8,266.8 135.1,266.5 135.4,266.4 135.6,266.4 135.9,266.7 136.2,266.7 136.5,265.8 136.8,265.7 137.1,266.4 137.4,266.3 137.6,264.5 137.9,265.7 138.2,267.1 138.5,266.6 138.8,267.4 139.1,264.3 139.4,264.3 139.7,264.4 139.9,264.6 140.2,263.1 140.5,265.1 140.8,265.3 141.1,266.9 141.4,265.2 141.7,265.4 142.0,267.9 142.2,272.0 142.5,275.7 142.8,278.1 143.1,278.4 143.4,280.4 143.7,280.7 144.0,282.1 144.2,283.0 144.5,283.5 144.8,281.8 145.1,283.5 145.4,283.2 145.7,282.7 146.0,283.9 146.3,285.4 146.5,283.5 146.8,282.2 147.1,283.3 147.4,285.0 147.7,284.0 148.0,284.4 148.3,285.3 148.6,285.6 148.8,287.6 149.1,287.4 149.4,287.7 149.7,288.0 150.0,286.4 150.3,285.8 150.6,284.1 150.8,287.2 151.1,287.3 151.4,287.5 151.7,285.6 152.0,284.7 152.3,285.1 152.6,285.4 152.9,286.4 153.1,286.8 153.4,287.0 153.7,289.1 154.0,286.2 154.3,285.6 154.6,284.0 154.9,283.8 155.2,284.5 155.4,284.5 155.7,287.0 156.0,287.9 156.3,286.6 156.6,287.1 156.9,288.5 157.2,287.9 157.4,288.8 157.7,288.1 158.0,286.2 158.3,287.6 158.6,287.9 158.9,287.1 159.2,287.2 159.5,287.0 159.7,287.9 160.0,288.0 160.3,290.0 160.6,289.2 160.9,287.2 161.2,288.4 161.5,288.2 161.8,287.3 162.0,286.2 162.3,285.7 162.6,287.3 162.9,287.8 163.2,286.1 163.5,287.2 163.8,287.1 164.1,288.2 164.3,288.7 164.6,291.2 164.9,290.4 165.2,291.5 165.5,291.0 165.8,290.7 166.1,288.3 166.3,287.4 166.6,287.3 166.9,288.1 167.2,289.4 167.5,288.4 167.8,289.1 168.1,288.8 168.4,287.6 168.6,288.0 168.9,288.1 169.2,289.1 169.5,287.7 169.8,287.4 170.1,287.1 170.4,286.0 170.7,288.4 170.9,288.3 171.2,287.7 171.5,287.6 171.8,287.6 172.1,287.5 172.4,289.3 172.7,289.0 172.9,287.6 173.2,288.0 173.5,288.3 173.8,287.6 174.1,289.6 174.4,288.7 174.7,287.2 175.0,287.9 175.2,288.9 175.5,288.2 175.8,288.8 176.1,289.5 176.4,288.9 176.7,290.3 177.0,289.0 177.3,289.9 177.5,289.9 177.8,288.7 178.1,288.7 178.4,288.4 178.7,287.1 179.0,286.3 179.3,285.2 179.5,287.1 179.8,286.8 180.1,289.1 180.4,288.2 180.7,287.1 181.0,288.4 181.3,288.1 181.6,286.9 181.8,286.9 182.1,287.2 182.4,285.1 182.7,286.3 183.0,285.4 183.3,284.0 183.6,283.6 183.9,281.9 184.1,280.7 184.4,280.9 184.7,279.5 185.0,279.5 185.3,281.2 185.6,281.2 185.9,280.5 186.1,280.0 186.4,281.3 186.7,278.1 187.0,279.8 187.3,280.2 187.6,278.8 187.9,278.1 188.2,276.2 188.4,276.2 188.7,276.0 189.0,275.4 189.3,276.3 189.6,277.2 189.9,276.9 190.2,275.1 190.5,275.2 190.7,273.7 191.0,274.4 191.3,273.5 191.6,273.5 191.9,272.7 192.2,272.8 192.5,272.7 192.8,273.1 193.0,271.6 193.3,271.9 193.6,271.5 193.9,271.0 194.2,272.1 194.5,272.6 194.8,272.1 195.0,270.4 195.3,271.6 195.6,272.1 195.9,272.4 196.2,271.9 196.5,272.2 196.8,272.0 197.1,270.6 197.3,271.2 197.6,270.5 197.9,271.1 198.2,270.5 198.5,269.4 198.8,271.1 199.1,270.0 199.4,269.2 199.6,268.9 199.9,268.4 200.2,267.9 200.5,269.2 200.8,268.8 201.1,267.7 201.4,266.5 201.6,268.2 201.9,268.4 202.2,269.3 202.5,268.5 202.8,268.9 203.1,269.1 203.4,267.5 203.7,265.0 203.9,267.7 204.2,265.7 204.5,266.9 204.8,266.0 205.1,265.8 205.4,264.8 205.7,265.5 206.0,266.5 206.2,266.4 206.5,265.4 206.8,266.4 207.1,265.8 207.4,265.7 207.7,265.5 208.0,265.5 208.2,264.9 208.5,264.3 208.8,265.0 209.1,265.4 209.4,267.4 209.7,267.3 210.0,267.9 210.3,266.1 210.5,266.7 210.8,266.6 211.1,265.4 211.4,264.2 211.7,263.3 212.0,264.7 212.3,264.4 212.6,263.5 212.8,264.7 213.1,264.8 213.4,265.9 213.7,265.9 214.0,264.6 214.3,264.4 214.6,264.7 214.8,265.1 215.1,263.3 215.4,262.9 215.7,264.6 216.0,262.3 216.3,263.4 216.6,263.8 216.9,264.3 217.1,264.7 217.4,263.8 217.7,265.2 218.0,264.6 218.3,264.6 218.6,262.6 218.9,262.7 219.2,262.7 219.4,262.6 219.7,262.5 220.0,262.8 220.3,265.5 220.6,264.3 220.9,264.3 221.2,263.3 221.5,263.1 221.7,263.8 222.0,268.4 222.3,271.9 222.6,273.2 222.9,274.8 223.2,276.7 223.5,277.7 223.7,277.7 224.0,278.9 224.3,279.2 224.6,280.0 224.9,282.4 225.2,281.4 225.5,280.9 225.8,279.9 226.0,278.9 226.3,280.3 226.6,280.0 226.9,280.1 227.2,280.4 227.5,279.9 227.8,279.6 228.1,281.5 228.3,280.1 228.6,280.8 228.9,281.7 229.2,282.4 229.5,282.3 229.8,283.2 230.1,281.6 230.3,281.4 230.6,282.5 230.9,281.6 231.2,281.6 231.5,281.8 231.8,281.1 232.1,281.7 232.4,282.2 232.6,281.9 232.9,283.9 233.2,284.5 233.5,283.3 233.8,282.0 234.1,283.9 234.4,283.5 234.7,283.9 234.9,283.8 235.2,282.9 235.5,281.5 235.8,280.5 236.1,280.6 236.4,281.0 236.7,281.8 236.9,284.1 237.2,283.4 237.5,284.5 237.8,285.1 238.1,284.3 238.4,285.5 238.7,283.0 239.0,282.6 239.2,282.7 239.5,282.6 239.8,282.8 240.1,283.1 240.4,282.6 240.7,283.7 241.0,283.5 241.3,283.4 241.5,282.9 241.8,284.3 242.1,283.9 242.4,284.0 242.7,283.4 243.0,283.1 243.3,283.3 243.5,283.1 243.8,283.1 244.1,282.2 244.4,282.7 244.7,282.7 245.0,284.2 245.3,284.4 245.6,283.6 245.8,282.8 246.1,284.3 246.4,284.3 246.7,284.6 247.0,284.4 247.3,284.8 247.6,285.0 247.9,284.8 248.1,284.5 248.4,283.5 248.7,284.7 249.0,285.5 249.3,284.3 249.6,283.9 249.9,284.3 250.2,285.5 250.4,284.1 250.7,285.3 251.0,283.9 251.3,283.9 251.6,284.3 251.9,284.6 252.2,283.8 252.4,284.1 252.7,285.9 253.0,286.1 253.3,287.5 253.6,286.0 253.9,284.6 254.2,283.6 254.5,285.3 254.7,283.0 255.0,282.0 255.3,283.2 255.6,285.7 255.9,286.1 256.2,284.6 256.5,282.7 256.8,284.0 257.0,286.0 257.3,286.4 257.6,284.0 257.9,284.3 258.2,285.8 258.5,287.4 258.8,285.7 259.0,284.6 259.3,285.1 259.6,285.2 259.9,285.0 260.2,285.2 260.5,285.6 260.8,285.8 261.1,286.0 261.3,284.4 261.6,284.2 261.9,283.0 262.2,281.3 262.5,284.0 262.8,283.3 263.1,281.8 263.4,281.8 263.6,282.0 263.9,281.0 264.2,281.2 264.5,281.4 264.8,280.8 265.1,280.0 265.4,279.4 265.6,278.1 265.9,278.0 266.2,278.2 266.5,274.9 266.8,275.9 267.1,276.4 267.4,276.4 267.7,276.9 267.9,277.9 268.2,276.6 268.5,274.6 268.8,276.4 269.1,276.3 269.4,275.1 269.7,275.2 270.0,274.1 270.2,273.9 270.5,274.6 270.8,274.1 271.1,274.0 271.4,272.9 271.7,275.0 272.0,273.4 272.2,271.5 272.5,271.4 272.8,271.2 273.1,271.7 273.4,271.1 273.7,271.1 274.0,272.1 274.3,272.6 274.5,273.8 274.8,271.9 275.1,270.9 275.4,269.4 275.7,269.2 276.0,268.6 276.3,270.2 276.6,271.5 276.8,271.0 277.1,270.4 277.4,269.4 277.7,269.2 278.0,269.0 278.3,268.7 278.6,268.2 278.9,267.9 279.1,267.6 279.4,268.1 279.7,268.0 280.0,269.2 280.3,269.5 280.6,268.9 280.9,267.8 281.1,268.2 281.4,269.1 281.7,267.3 282.0,267.9 282.3,269.0 282.6,269.0 282.9,269.1 283.2,270.3 283.4,269.1 283.7,266.3 284.0,267.0 284.3,267.4 284.6,265.7 284.9,265.7 285.2,265.9 285.5,264.5 285.7,266.1 286.0,266.0 286.3,265.3 286.6,265.2 286.9,266.4 287.2,266.8 287.5,264.5 287.7,264.9 288.0,265.2 288.3,264.2 288.6,266.2 288.9,265.8 289.2,267.1 289.5,264.9 289.8,265.8 290.0,265.3 290.3,265.9 290.6,265.3 290.9,264.7 291.2,264.6 291.5,264.9 291.8,264.5 292.1,264.7 292.3,265.0 292.6,264.1 292.9,263.4 293.2,265.0 293.5,265.6 293.8,265.8 294.1,264.8 294.3,265.9 294.6,263.7 294.9,263.8 295.2,263.7 295.5,263.0 295.8,264.1 296.1,263.6 296.4,263.3 296.6,262.3 296.9,263.9 297.2,262.5 297.5,262.4 297.8,262.7 298.1,262.1 298.4,262.9 298.7,263.4 298.9,262.7 299.2,263.4 299.5,262.4 299.8,261.5 300.1,262.1 300.4,262.5 300.7,263.5 300.9,264.3 301.2,262.6 301.5,263.9 301.8,263.6 302.1,263.2 302.4,267.3 302.7,270.1 303.0,272.2 303.2,271.1 303.5,272.3 303.8,272.3 304.1,271.8 304.4,272.7 304.7,273.0 305.0,274.9 305.3,276.4 305.5,275.3 305.8,274.7 306.1,276.8 306.4,276.0 306.7,276.4 307.0,276.2 307.3,275.9 307.6,274.9 307.8,276.7 308.1,277.3 308.4,276.4 308.7,277.4 309.0,277.2 309.3,277.7 309.6,279.6 309.8,279.7 310.1,278.4 310.4,279.0 310.7,280.3 311.0,280.2 311.3,279.5 311.6,278.8 311.9,278.5 312.1,278.2 312.4,279.5 312.7,279.9 313.0,280.3 313.3,280.3 313.6,279.4 313.9,278.1 314.2,278.8 314.4,278.0 314.7,277.5 315.0,279.3 315.3,280.2 315.6,279.8 315.9,281.0 316.2,278.6 316.4,280.8 316.7,281.5 317.0,280.0 317.3,280.6 317.6,279.6 317.9,280.6 318.2,279.3 318.5,280.1 318.7,279.3 319.0,278.6 319.3,280.6 319.6,281.2 319.9,282.3 320.2,282.5 320.5,280.6 320.8,280.4 321.0,279.5 321.3,278.4 321.6,278.1 321.9,278.3 322.2,279.5 322.5,280.1 322.8,279.9 323.0,279.2 323.3,278.6 323.6,279.0 323.9,279.8 324.2,280.1 324.5,278.6 324.8,279.1 325.1,277.7 325.3,279.5 325.6,279.0 325.9,279.4 326.2,279.1 326.5,280.4 326.8,280.1 327.1,280.3 327.4,280.7 327.6,281.8 327.9,282.6 328.2,282.1 328.5,281.0 328.8,280.6 329.1,280.4 329.4,280.2 329.6,281.6 329.9,280.3 330.2,280.4 330.5,281.2 330.8,281.5" fill="none" stroke="#e6473a" stroke-width="0.85" stroke-linejoin="round"/>
<polyline points="86.1,330.4 86.3,329.7 86.6,330.7 86.9,327.5 87.2,328.5 87.5,325.9 87.8,324.8 88.1,325.5 88.4,323.6 88.6,322.1 88.9,321.1 89.2,320.6 89.5,320.4 89.8,320.0 90.1,320.2 90.4,319.4 90.7,317.6 90.9,317.6 91.2,315.4 91.5,317.2 91.8,316.5 92.1,317.3 92.4,317.7 92.7,315.9 92.9,315.1 93.2,314.7 93.5,314.6 93.8,313.6 94.1,314.1 94.4,312.9 94.7,312.2 95.0,312.3 95.2,310.6 95.5,311.5 95.8,309.7 96.1,308.6 96.4,307.6 96.7,307.1 97.0,306.0 97.3,306.2 97.5,306.9 97.8,305.8 98.1,306.0 98.4,305.6 98.7,304.8 99.0,305.1 99.3,303.3 99.5,304.5 99.8,302.5 100.1,302.3 100.4,300.4 100.7,299.7 101.0,299.5 101.3,299.6 101.6,299.8 101.8,301.1 102.1,301.0 102.4,301.2 102.7,301.0 103.0,300.1 103.3,300.2 103.6,299.2 103.9,298.9 104.1,298.7 104.4,297.8 104.7,297.0 105.0,298.1 105.3,297.7 105.6,294.3 105.9,294.9 106.1,294.8 106.4,295.9 106.7,294.7 107.0,293.3 107.3,293.3 107.6,293.9 107.9,294.0 108.2,295.8 108.4,294.4 108.7,294.4 109.0,293.6 109.3,293.1 109.6,292.8 109.9,290.8 110.2,290.7 110.5,292.0 110.7,291.5 111.0,291.1 111.3,291.4 111.6,290.2 111.9,291.0 112.2,292.8 112.5,293.1 112.7,291.9 113.0,292.4 113.3,291.6 113.6,292.6 113.9,291.3 114.2,291.1 114.5,291.6 114.8,291.4 115.0,291.0 115.3,289.6 115.6,289.3 115.9,289.5 116.2,289.3 116.5,288.4 116.8,288.2 117.1,286.8 117.3,288.2 117.6,287.6 117.9,287.8 118.2,288.6 118.5,287.9 118.8,287.2 119.1,286.6 119.4,286.7 119.6,288.0 119.9,287.7 120.2,287.3 120.5,285.8 120.8,286.3 121.1,286.6 121.4,285.4 121.6,286.0 121.9,286.8 122.2,286.6 122.5,286.0 122.8,286.1 123.1,287.9 123.4,287.8 123.7,286.3 123.9,287.0 124.2,285.9 124.5,285.9 124.8,286.8 125.1,285.7 125.4,287.9 125.7,289.1 126.0,289.2 126.2,287.4 126.5,287.0 126.8,290.2 127.1,293.4 127.4,295.7 127.7,298.1 128.0,299.7 128.2,299.7 128.5,300.1 128.8,302.5 129.1,302.2 129.4,300.9 129.7,301.3 130.0,303.3 130.3,303.0 130.5,303.3 130.8,304.1 131.1,303.4 131.4,302.8 131.7,304.2 132.0,304.4 132.3,305.1 132.6,305.2 132.8,303.7 133.1,304.8 133.4,304.6 133.7,304.8 134.0,305.1 134.3,306.4 134.6,305.6 134.8,306.8 135.1,305.8 135.4,306.1 135.7,306.0 136.0,306.6 136.3,307.3 136.6,307.9 136.9,307.3 137.1,307.1 137.4,306.7 137.7,307.0 138.0,306.2 138.3,306.3 138.6,306.4 138.9,306.9 139.2,307.0 139.4,306.4 139.7,307.3 140.0,308.4 140.3,307.6 140.6,307.1 140.9,307.2 141.2,307.0 141.4,308.4 141.7,308.9 142.0,308.4 142.3,308.1 142.6,309.1 142.9,308.1 143.2,309.7 143.5,307.8 143.7,308.8 144.0,308.9 144.3,309.5 144.6,310.1 144.9,309.5 145.2,310.7 145.5,309.9 145.8,309.0 146.0,308.9 146.3,308.6 146.6,309.8 146.9,310.9 147.2,311.0 147.5,308.9 147.8,308.4 148.1,310.0 148.3,307.8 148.6,307.4 148.9,306.8 149.2,306.5 149.5,306.1 149.8,308.6 150.1,308.5 150.3,309.2 150.6,307.2 150.9,307.1 151.2,307.7 151.5,308.3 151.8,310.4 152.1,309.6 152.4,310.0 152.6,308.2 152.9,307.7 153.2,308.2 153.5,308.8 153.8,307.8 154.1,308.7 154.4,307.7 154.7,308.0 154.9,308.6 155.2,308.3 155.5,306.9 155.8,309.2 156.1,308.4 156.4,307.9 156.7,308.6 156.9,307.3 157.2,307.4 157.5,307.5 157.8,309.0 158.1,308.5 158.4,309.9 158.7,309.1 159.0,307.1 159.2,308.7 159.5,307.4 159.8,309.1 160.1,309.0 160.4,308.4 160.7,310.0 161.0,309.3 161.3,310.0 161.5,310.2 161.8,309.0 162.1,309.1 162.4,308.8 162.7,308.9 163.0,308.7 163.3,307.4 163.5,308.0 163.8,308.8 164.1,308.9 164.4,308.4 164.7,308.3 165.0,310.7 165.3,310.2 165.6,309.4 165.8,306.9 166.1,308.4 166.4,308.4 166.7,309.0 167.0,308.1 167.3,309.0 167.6,308.4 167.9,307.2 168.1,307.6 168.4,306.4 168.7,306.0 169.0,303.7 169.3,301.8 169.6,300.0 169.9,300.6 170.1,300.3 170.4,298.4 170.7,299.9 171.0,298.4 171.3,299.8 171.6,298.6 171.9,300.3 172.2,300.0 172.4,299.5 172.7,299.1 173.0,300.3 173.3,299.0 173.6,298.4 173.9,296.3 174.2,295.7 174.5,297.9 174.7,296.9 175.0,295.3 175.3,295.3 175.6,295.7 175.9,296.5 176.2,296.0 176.5,296.0 176.8,295.4 177.0,294.9 177.3,293.0 177.6,293.9 177.9,293.1 178.2,293.9 178.5,293.0 178.8,291.7 179.0,292.3 179.3,293.1 179.6,292.4 179.9,291.9 180.2,292.1 180.5,291.2 180.8,290.9 181.1,290.1 181.3,291.4 181.6,290.2 181.9,288.9 182.2,290.0 182.5,287.9 182.8,288.3 183.1,289.9 183.4,290.6 183.6,290.6 183.9,290.5 184.2,289.9 184.5,289.1 184.8,289.0 185.1,288.9 185.4,289.5 185.6,290.8 185.9,290.2 186.2,290.4 186.5,288.4 186.8,290.3 187.1,288.0 187.4,290.4 187.7,289.2 187.9,288.3 188.2,288.8 188.5,288.9 188.8,287.2 189.1,287.9 189.4,287.4 189.7,286.9 190.0,286.0 190.2,287.3 190.5,285.5 190.8,285.9 191.1,284.9 191.4,286.6 191.7,285.2 192.0,285.5 192.2,284.8 192.5,285.6 192.8,284.7 193.1,284.9 193.4,286.8 193.7,283.8 194.0,285.0 194.3,284.5 194.5,284.9 194.8,285.3 195.1,285.5 195.4,284.3 195.7,283.6 196.0,283.1 196.3,285.2 196.6,284.2 196.8,285.7 197.1,283.0 197.4,283.2 197.7,282.6 198.0,283.2 198.3,283.5 198.6,284.4 198.8,282.4 199.1,283.4 199.4,282.6 199.7,283.9 200.0,284.0 200.3,284.3 200.6,284.2 200.9,284.5 201.1,283.6 201.4,283.0 201.7,284.8 202.0,284.7 202.3,285.5 202.6,283.7 202.9,284.8 203.2,283.8 203.4,283.5 203.7,283.5 204.0,285.3 204.3,282.9 204.6,283.2 204.9,282.6 205.2,281.9 205.5,283.4 205.7,284.2 206.0,282.2 206.3,280.7 206.6,282.5 206.9,286.8 207.2,289.1 207.5,292.1 207.7,292.8 208.0,294.3 208.3,296.1 208.6,296.6 208.9,298.2 209.2,297.6 209.5,299.2 209.8,298.4 210.0,296.9 210.3,300.1 210.6,298.8 210.9,301.1 211.2,301.2 211.5,299.5 211.8,299.2 212.1,299.5 212.3,300.0 212.6,300.5 212.9,300.6 213.2,301.3 213.5,301.8 213.8,303.1 214.1,301.1 214.3,301.6 214.6,300.1 214.9,300.3 215.2,300.7 215.5,302.5 215.8,302.8 216.1,302.7 216.4,302.8 216.6,303.1 216.9,305.2 217.2,304.7 217.5,304.3 217.8,304.2 218.1,304.1 218.4,305.2 218.7,305.2 218.9,303.1 219.2,304.1 219.5,304.3 219.8,304.8 220.1,304.4 220.4,304.6 220.7,302.3 220.9,303.8 221.2,302.5 221.5,303.5 221.8,303.2 222.1,301.1 222.4,302.2 222.7,302.9 223.0,306.0 223.2,305.6 223.5,305.2 223.8,304.6 224.1,304.2 224.4,305.2 224.7,305.7 225.0,304.4 225.3,304.6 225.5,304.5 225.8,303.8 226.1,303.9 226.4,304.0 226.7,305.2 227.0,304.9 227.3,306.3 227.5,303.9 227.8,304.9 228.1,303.2 228.4,304.2 228.7,304.5 229.0,303.3 229.3,303.7 229.6,303.9 229.8,304.5 230.1,304.8 230.4,305.5 230.7,306.0 231.0,307.2 231.3,306.4 231.6,306.5 231.9,304.5 232.1,302.7 232.4,301.8 232.7,304.2 233.0,304.8 233.3,305.0 233.6,306.4 233.9,304.4 234.2,304.0 234.4,304.1 234.7,302.7 235.0,303.2 235.3,304.2 235.6,304.3 235.9,305.1 236.2,304.6 236.4,306.1 236.7,305.2 237.0,305.5 237.3,305.8 237.6,305.9 237.9,305.7 238.2,307.2 238.5,305.8 238.7,305.8 239.0,303.9 239.3,304.4 239.6,303.9 239.9,304.5 240.2,304.9 240.5,306.2 240.8,306.3 241.0,306.5 241.3,308.3 241.6,307.4 241.9,307.2 242.2,306.2 242.5,304.9 242.8,305.4 243.0,304.2 243.3,303.5 243.6,303.5 243.9,304.6 244.2,304.8 244.5,303.5 244.8,302.8 245.1,302.8 245.3,305.5 245.6,307.6 245.9,305.1 246.2,304.5 246.5,303.6 246.8,303.3 247.1,303.7 247.4,303.1 247.6,303.0 247.9,301.3 248.2,300.7 248.5,301.9 248.8,302.3 249.1,300.6 249.4,299.6 249.6,299.4 249.9,299.1 250.2,300.2 250.5,300.4 250.8,299.1 251.1,300.4 251.4,298.8 251.7,297.6 251.9,296.7 252.2,295.9 252.5,294.2 252.8,294.6 253.1,295.8 253.4,297.3 253.7,298.5 254.0,296.9 254.2,295.1 254.5,296.3 254.8,295.2 255.1,295.3 255.4,294.8 255.7,293.9 256.0,293.5 256.2,294.3 256.5,292.9 256.8,292.7 257.1,294.2 257.4,292.5 257.7,290.6 258.0,291.3 258.3,289.7 258.5,291.7 258.8,291.6 259.1,289.9 259.4,288.9 259.7,288.9 260.0,288.3 260.3,289.3 260.6,288.8 260.8,288.2 261.1,287.7 261.4,287.9 261.7,287.6 262.0,287.7 262.3,287.5 262.6,289.4 262.9,288.4 263.1,289.3 263.4,289.2 263.7,288.6 264.0,288.1 264.3,289.2 264.6,289.1 264.9,288.2 265.1,288.3 265.4,287.8 265.7,287.3 266.0,287.0 266.3,287.5 266.6,287.0 266.9,286.3 267.2,287.6 267.4,286.4 267.7,287.4 268.0,286.6 268.3,285.8 268.6,285.3 268.9,286.7 269.2,287.3 269.5,287.8 269.7,286.4 270.0,286.0 270.3,287.5 270.6,286.0 270.9,284.6 271.2,285.4 271.5,285.4 271.7,285.1 272.0,286.1 272.3,286.1 272.6,285.1 272.9,285.3 273.2,285.1 273.5,284.9 273.8,283.2 274.0,283.5 274.3,283.6 274.6,284.4 274.9,283.3 275.2,283.7 275.5,284.0 275.8,282.8 276.1,282.1 276.3,283.8 276.6,284.3 276.9,283.0 277.2,283.8 277.5,282.4 277.8,283.2 278.1,281.6 278.3,283.4 278.6,285.4 278.9,286.1 279.2,283.3 279.5,284.1 279.8,284.4 280.1,284.6 280.4,284.9 280.6,284.2 280.9,283.8 281.2,284.3 281.5,284.4 281.8,282.7 282.1,282.1 282.4,281.6 282.7,281.1 282.9,282.2 283.2,281.7 283.5,280.8 283.8,282.5 284.1,281.5 284.4,284.5 284.7,285.7 284.9,286.0 285.2,285.8 285.5,285.6 285.8,285.0 286.1,283.4 286.4,283.9 286.7,283.9 287.0,284.7 287.2,288.9 287.5,290.6 287.8,292.6 288.1,292.6 288.4,293.6 288.7,296.2 289.0,295.5 289.3,297.1 289.5,297.4 289.8,298.3 290.1,298.7 290.4,298.8 290.7,299.5 291.0,299.5 291.3,299.2 291.6,298.0 291.8,297.4 292.1,296.1 292.4,298.5 292.7,298.9 293.0,297.6 293.3,299.1 293.6,299.1 293.8,298.3 294.1,297.1 294.4,297.3 294.7,297.7 295.0,298.4 295.3,298.1 295.6,298.4 295.9,298.4 296.1,299.4 296.4,299.5 296.7,300.3 297.0,301.0 297.3,301.3 297.6,301.4 297.9,301.3 298.2,301.2 298.4,302.1 298.7,300.9 299.0,300.2 299.3,298.6 299.6,301.4 299.9,302.2 300.2,302.3 300.4,302.2 300.7,301.3 301.0,301.7 301.3,301.8 301.6,300.5 301.9,300.6 302.2,302.0 302.5,300.5 302.7,298.3 303.0,298.1 303.3,299.2 303.6,298.5 303.9,299.4 304.2,300.2 304.5,300.1 304.8,299.1 305.0,299.6 305.3,300.4 305.6,301.8 305.9,301.2 306.2,302.1 306.5,301.7 306.8,302.7 307.0,302.8 307.3,303.0 307.6,302.8 307.9,303.1 308.2,301.1 308.5,300.3 308.8,300.9 309.1,302.0 309.3,300.6 309.6,301.0 309.9,300.5 310.2,299.8 310.5,300.7 310.8,300.5 311.1,300.4 311.4,301.1 311.6,301.3 311.9,301.9 312.2,304.8 312.5,303.8 312.8,301.2 313.1,300.3 313.4,298.2 313.6,299.4 313.9,299.3 314.2,300.7 314.5,301.7 314.8,302.4 315.1,301.6 315.4,300.8 315.7,302.9" fill="none" stroke="#d63222" stroke-width="0.85" stroke-linejoin="round"/>
<polyline points="75.5,344.3 75.8,342.8 76.1,341.7 76.4,342.6 76.7,341.5 76.9,340.4 77.2,341.0 77.5,340.8 77.8,337.3 78.1,337.6 78.4,337.3 78.7,338.2 79.0,337.2 79.2,334.5 79.5,333.5 79.8,333.8 80.1,332.9 80.4,331.7 80.7,330.6 81.0,331.2 81.2,329.9 81.5,330.0 81.8,329.6 82.1,329.4 82.4,329.1 82.7,327.4 83.0,328.3 83.3,326.8 83.5,323.3 83.8,324.4 84.1,324.3 84.4,323.8 84.7,321.7 85.0,323.1 85.3,321.9 85.6,321.6 85.8,319.3 86.1,319.7 86.4,317.8 86.7,319.2 87.0,318.6 87.3,319.5 87.6,319.3 87.8,319.7 88.1,319.0 88.4,316.5 88.7,316.9 89.0,314.1 89.3,313.1 89.6,313.5 89.9,313.9 90.1,313.7 90.4,314.5 90.7,313.5 91.0,313.3 91.3,314.9 91.6,313.9 91.9,312.6 92.2,312.3 92.4,311.6 92.7,311.4 93.0,311.7 93.3,310.2 93.6,308.9 93.9,309.6 94.2,308.9 94.4,310.1 94.7,308.5 95.0,309.4 95.3,309.0 95.6,307.8 95.9,308.4 96.2,308.1 96.5,306.9 96.7,307.5 97.0,307.0 97.3,305.9 97.6,305.9 97.9,306.8 98.2,306.8 98.5,306.7 98.8,306.2 99.0,305.3 99.3,306.7 99.6,306.1 99.9,305.3 100.2,303.6 100.5,305.3 100.8,305.6 101.1,304.1 101.3,304.0 101.6,302.8 101.9,303.1 102.2,303.7 102.5,303.5 102.8,302.1 103.1,301.6 103.3,301.8 103.6,301.9 103.9,301.0 104.2,300.8 104.5,301.0 104.8,300.6 105.1,300.9 105.4,302.1 105.6,300.9 105.9,299.8 106.2,299.0 106.5,299.7 106.8,301.2 107.1,300.5 107.4,301.0 107.7,302.4 107.9,301.4 108.2,301.5 108.5,300.8 108.8,300.8 109.1,299.6 109.4,298.7 109.7,298.5 109.9,297.7 110.2,298.8 110.5,296.7 110.8,299.2 111.1,298.3 111.4,297.5 111.7,298.3 112.0,298.3 112.2,299.4 112.5,299.4 112.8,298.6 113.1,299.6 113.4,300.7 113.7,299.9 114.0,299.8 114.3,299.9 114.5,299.1 114.8,299.8 115.1,297.8 115.4,296.6 115.7,296.8 116.0,297.6 116.3,304.0 116.5,309.0 116.8,313.4 117.1,316.6 117.4,318.0 117.7,320.5 118.0,322.1 118.3,323.1 118.6,324.4 118.8,324.3 119.1,325.7 119.4,324.7 119.7,324.4 120.0,325.0 120.3,324.7 120.6,324.4 120.9,325.6 121.1,326.1 121.4,327.0 121.7,327.4 122.0,327.7 122.3,327.5 122.6,327.1 122.9,325.3 123.1,326.0 123.4,325.9 123.7,327.0 124.0,326.0 124.3,326.8 124.6,327.7 124.9,328.3 125.2,328.5 125.4,329.0 125.7,328.8 126.0,327.3 126.3,328.0 126.6,329.2 126.9,331.0 127.2,330.5 127.5,331.1 127.7,331.2 128.0,330.5 128.3,329.9 128.6,329.5 128.9,328.7 129.2,330.1 129.5,330.8 129.8,331.4 130.0,331.9 130.3,331.9 130.6,332.2 130.9,330.9 131.2,331.8 131.5,329.4 131.8,331.9 132.0,330.7 132.3,332.3 132.6,332.2 132.9,332.9 133.2,332.2 133.5,331.4 133.8,331.7 134.1,332.2 134.3,332.8 134.6,333.0 134.9,333.2 135.2,333.2 135.5,332.5 135.8,331.4 136.1,332.2 136.4,333.9 136.6,333.4 136.9,332.0 137.2,332.9 137.5,332.2 137.8,333.2 138.1,333.9 138.4,333.0 138.6,334.4 138.9,333.9 139.2,335.7 139.5,335.3 139.8,333.8 140.1,333.7 140.4,333.8 140.7,332.8 140.9,333.5 141.2,334.1 141.5,333.9 141.8,333.4 142.1,333.0 142.4,333.0 142.7,331.8 143.0,331.6 143.2,332.2 143.5,330.3 143.8,332.7 144.1,332.5 144.4,333.4 144.7,331.2 145.0,331.6 145.2,331.4 145.5,331.6 145.8,330.8 146.1,332.2 146.4,331.7 146.7,333.8 147.0,333.0 147.3,332.0 147.5,331.6 147.8,331.7 148.1,334.0 148.4,333.6 148.7,333.7 149.0,332.1 149.3,332.1 149.6,331.9 149.8,331.3 150.1,331.6 150.4,333.5 150.7,334.2 151.0,335.7 151.3,333.7 151.6,333.7 151.8,334.7 152.1,333.7 152.4,334.0 152.7,334.0 153.0,332.6 153.3,334.8 153.6,335.6 153.9,334.8 154.1,334.5 154.4,333.1 154.7,333.6 155.0,333.0 155.3,331.7 155.6,333.6 155.9,334.0 156.2,333.2 156.4,332.0 156.7,331.7 157.0,330.0 157.3,329.6 157.6,327.4 157.9,326.3 158.2,325.2 158.5,324.7 158.7,324.1 159.0,325.1 159.3,324.2 159.6,324.9 159.9,322.1 160.2,322.5 160.5,322.3 160.7,321.5 161.0,318.4 161.3,319.3 161.6,317.1 161.9,316.9 162.2,314.4 162.5,315.3 162.8,315.8 163.0,315.5 163.3,315.6 163.6,315.6 163.9,314.2 164.2,314.2 164.5,312.8 164.8,312.0 165.1,311.1 165.3,309.8 165.6,309.3 165.9,310.7 166.2,309.3 166.5,311.7 166.8,309.7 167.1,308.3 167.3,309.5 167.6,307.8 167.9,309.6 168.2,307.9 168.5,308.1 168.8,307.9 169.1,307.6 169.4,307.6 169.6,306.4 169.9,306.2 170.2,306.0 170.5,305.6 170.8,305.7 171.1,306.2 171.4,305.0 171.7,303.9 171.9,305.0 172.2,303.6 172.5,302.4 172.8,302.5 173.1,301.4 173.4,303.9 173.7,302.1 173.9,302.9 174.2,302.3 174.5,303.0 174.8,300.2 175.1,301.1 175.4,300.6 175.7,302.1 176.0,301.9 176.2,301.0 176.5,300.9 176.8,301.4 177.1,299.6 177.4,301.2 177.7,300.6 178.0,300.4 178.3,300.4 178.5,299.4 178.8,299.1 179.1,299.3 179.4,298.5 179.7,298.7 180.0,298.2 180.3,297.2 180.5,297.4 180.8,297.7 181.1,298.4 181.4,297.0 181.7,296.5 182.0,296.5 182.3,296.7 182.6,297.8 182.8,297.6 183.1,297.2 183.4,298.3 183.7,298.7 184.0,298.1 184.3,295.9 184.6,295.9 184.9,297.6 185.1,296.0 185.4,295.4 185.7,295.2 186.0,296.2 186.3,296.3 186.6,294.3 186.9,294.0 187.2,290.6 187.4,294.4 187.7,296.4 188.0,296.6 188.3,297.1 188.6,297.1 188.9,295.8 189.2,294.5 189.4,296.2 189.7,295.3 190.0,294.5 190.3,294.6 190.6,293.6 190.9,293.1 191.2,294.7 191.5,294.7 191.7,294.5 192.0,295.8 192.3,295.6 192.6,294.4 192.9,294.2 193.2,294.3 193.5,292.1 193.8,292.5 194.0,292.5 194.3,294.1 194.6,293.1 194.9,294.0 195.2,294.3 195.5,294.7 195.8,295.7 196.0,294.6 196.3,302.0 196.6,305.5 196.9,310.0 197.2,311.4 197.5,313.6 197.8,314.5 198.1,317.5 198.3,318.0 198.6,318.4 198.9,319.2 199.2,320.2 199.5,321.4 199.8,324.6 200.1,323.3 200.4,324.1 200.6,324.6 200.9,323.6 201.2,325.9 201.5,325.6 201.8,324.1 202.1,323.9 202.4,324.1 202.6,324.8 202.9,324.3 203.2,325.7 203.5,325.7 203.8,324.5 204.1,325.4 204.4,325.3 204.7,325.5 204.9,326.4 205.2,327.7 205.5,327.5 205.8,327.4 206.1,327.6 206.4,326.8 206.7,326.1 207.0,325.4 207.2,325.2 207.5,326.6 207.8,325.1 208.1,325.2 208.4,324.9 208.7,326.7 209.0,325.6 209.2,323.8 209.5,324.4 209.8,324.3 210.1,325.8 210.4,326.0 210.7,326.4 211.0,326.0 211.3,326.3 211.5,326.4 211.8,327.5 212.1,328.5 212.4,328.0 212.7,325.4 213.0,327.1 213.3,326.8 213.6,325.8 213.8,327.1 214.1,328.9 214.4,328.1 214.7,328.0 215.0,328.7 215.3,327.0 215.6,326.7 215.9,327.2 216.1,328.8 216.4,327.3 216.7,326.6 217.0,326.4 217.3,325.6 217.6,327.6 217.9,328.8 218.1,327.8 218.4,327.6 218.7,328.0 219.0,328.6 219.3,327.6 219.6,327.7 219.9,327.2 220.2,328.8 220.4,328.7 220.7,328.3 221.0,327.5 221.3,329.5 221.6,329.4 221.9,329.8 222.2,329.4 222.5,329.3 222.7,328.7 223.0,328.1 223.3,328.1 223.6,328.5 223.9,327.9 224.2,327.0 224.5,327.8 224.7,329.0 225.0,327.4 225.3,327.2 225.6,325.9 225.9,327.6 226.2,328.6 226.5,329.0 226.8,329.1 227.0,330.5 227.3,329.2 227.6,330.6 227.9,332.7 228.2,331.4 228.5,331.5 228.8,330.4 229.1,331.1 229.3,331.6 229.6,332.7 229.9,332.5 230.2,331.5 230.5,328.7 230.8,328.4 231.1,329.4 231.3,328.2 231.6,328.5 231.9,330.6 232.2,331.8 232.5,332.3 232.8,331.7 233.1,330.8 233.4,330.9 233.6,330.9 233.9,331.2 234.2,330.4 234.5,329.4 234.8,330.5 235.1,329.0 235.4,330.0 235.7,330.1 235.9,328.4 236.2,327.5 236.5,327.2 236.8,328.6 237.1,327.2 237.4,326.6 237.7,325.7 237.9,323.7 238.2,323.8 238.5,321.4 238.8,321.3 239.1,320.9 239.4,320.9 239.7,320.3 240.0,318.5 240.2,318.2 240.5,319.0 240.8,319.0 241.1,317.0 241.4,316.2 241.7,316.8 242.0,316.3 242.3,315.5 242.5,314.5 242.8,315.1 243.1,314.3 243.4,314.9 243.7,314.6 244.0,313.8 244.3,311.6 244.6,311.5 244.8,309.6 245.1,309.5 245.4,308.5 245.7,309.1 246.0,310.8 246.3,312.1 246.6,311.0 246.8,308.2 247.1,308.2 247.4,308.4 247.7,307.3 248.0,307.4 248.3,307.4 248.6,306.7 248.9,306.0 249.1,306.4 249.4,306.7 249.7,304.5 250.0,305.4 250.3,305.9 250.6,305.4 250.9,305.0 251.2,304.2 251.4,302.4 251.7,301.5 252.0,302.2 252.3,302.3 252.6,301.5 252.9,301.9 253.2,301.9 253.4,302.9 253.7,302.0 254.0,301.9 254.3,303.0 254.6,302.0 254.9,299.5 255.2,299.7 255.5,300.8 255.7,299.4 256.0,299.4 256.3,299.5 256.6,298.2 256.9,297.9 257.2,296.6 257.5,298.5 257.8,299.2 258.0,299.2 258.3,298.9 258.6,300.0 258.9,299.2 259.2,300.2 259.5,300.0 259.8,299.6 260.0,298.8 260.3,298.2 260.6,298.8 260.9,298.0 261.2,297.6 261.5,297.7 261.8,297.5 262.1,297.9 262.3,295.9 262.6,295.1 262.9,295.6 263.2,294.9 263.5,296.5 263.8,297.1 264.1,297.2 264.4,296.5 264.6,296.8 264.9,297.5 265.2,298.4 265.5,298.5 265.8,296.7 266.1,296.0 266.4,297.3 266.6,295.0 266.9,295.7 267.2,296.2 267.5,296.1 267.8,295.8 268.1,296.1 268.4,295.8 268.7,294.9 268.9,294.2 269.2,295.3 269.5,295.4 269.8,296.0 270.1,296.0 270.4,295.7 270.7,295.7 271.0,294.8 271.2,295.7 271.5,294.9 271.8,294.2 272.1,294.7 272.4,294.9 272.7,294.2 273.0,294.7 273.3,294.9 273.5,294.5 273.8,296.8 274.1,295.2 274.4,294.6 274.7,293.9 275.0,295.3 275.3,295.2 275.5,294.4 275.8,293.7 276.1,294.4 276.4,294.7 276.7,298.7 277.0,303.3 277.3,305.8 277.6,310.3 277.8,311.8 278.1,314.0 278.4,315.5 278.7,315.0 279.0,317.1 279.3,318.4 279.6,319.1 279.9,319.2 280.1,319.1 280.4,318.8 280.7,317.9 281.0,318.2 281.3,317.2 281.6,317.3 281.9,318.0 282.1,319.1 282.4,318.3 282.7,319.5 283.0,319.1 283.3,319.8 283.6,320.8 283.9,320.3 284.2,320.1 284.4,320.3 284.7,319.8 285.0,320.4 285.3,321.6 285.6,321.6 285.9,320.0 286.2,321.7 286.5,323.6 286.7,323.0 287.0,323.7 287.3,321.9 287.6,322.0 287.9,323.1 288.2,323.0 288.5,323.7 288.7,322.9 289.0,322.0 289.3,321.3 289.6,321.0 289.9,321.9 290.2,321.3 290.5,321.6 290.8,323.5 291.0,322.2 291.3,323.5 291.6,324.1 291.9,325.3 292.2,325.4 292.5,326.7 292.8,326.7 293.1,326.3 293.3,326.5 293.6,325.8 293.9,324.3 294.2,324.5 294.5,323.9 294.8,323.0 295.1,324.0 295.3,322.7 295.6,323.4 295.9,323.8 296.2,323.7 296.5,322.7 296.8,324.6 297.1,323.7 297.4,324.5 297.6,324.4 297.9,325.5 298.2,327.5 298.5,325.3 298.8,324.4 299.1,325.5 299.4,326.1 299.7,326.7 299.9,326.0 300.2,323.7 300.5,324.3 300.8,326.2 301.1,325.0 301.4,325.9 301.7,327.0 302.0,325.9 302.2,325.6 302.5,325.2 302.8,324.6 303.1,323.9 303.4,326.4 303.7,325.8 304.0,324.5 304.2,323.7 304.5,325.3 304.8,327.0 305.1,327.4" fill="none" stroke="#b52414" stroke-width="0.85" stroke-linejoin="round"/>
<polyline points="69.8,351.0 70.1,350.3 70.4,348.6 70.7,348.1 71.0,348.4 71.3,348.1 71.5,346.7 71.8,344.5 72.1,342.2 72.4,342.9 72.7,341.5 73.0,340.9 73.3,341.2 73.5,341.1 73.8,338.1 74.1,337.9 74.4,337.2 74.7,335.9 75.0,335.0 75.3,333.8 75.6,334.2 75.8,333.8 76.1,332.7 76.4,331.7 76.7,331.8 77.0,332.6 77.3,330.3 77.6,328.8 77.9,327.5 78.1,327.5 78.4,328.9 78.7,328.2 79.0,325.2 79.3,324.9 79.6,324.5 79.9,325.8 80.2,325.5 80.4,323.6 80.7,322.8 81.0,322.6 81.3,321.0 81.6,320.3 81.9,319.9 82.2,320.2 82.4,319.6 82.7,318.5 83.0,318.3 83.3,319.6 83.6,319.1 83.9,318.8 84.2,317.8 84.5,316.2 84.7,316.4 85.0,316.7 85.3,315.6 85.6,315.1 85.9,315.8 86.2,314.9 86.5,314.5 86.8,314.0 87.0,315.3 87.3,316.4 87.6,316.5 87.9,316.6 88.2,314.0 88.5,312.3 88.8,313.4 89.0,311.3 89.3,312.4 89.6,312.6 89.9,309.9 90.2,311.3 90.5,310.2 90.8,309.4 91.1,308.5 91.3,308.3 91.6,308.5 91.9,307.3 92.2,308.0 92.5,308.1 92.8,307.9 93.1,308.3 93.4,308.3 93.6,306.9 93.9,305.7 94.2,305.8 94.5,306.4 94.8,307.1 95.1,307.3 95.4,307.4 95.6,307.4 95.9,307.0 96.2,306.8 96.5,305.4 96.8,306.9 97.1,306.7 97.4,305.4 97.7,305.7 97.9,305.8 98.2,305.0 98.5,305.0 98.8,305.7 99.1,305.1 99.4,304.2 99.7,305.8 100.0,304.2 100.2,305.7 100.5,304.3 100.8,305.3 101.1,304.4 101.4,304.0 101.7,302.8 102.0,303.0 102.2,303.4 102.5,303.9 102.8,303.3 103.1,303.3 103.4,302.2 103.7,301.9 104.0,300.9 104.3,300.8 104.5,301.2 104.8,301.6 105.1,301.2 105.4,300.8 105.7,302.4 106.0,301.8 106.3,302.0 106.6,301.5 106.8,300.8 107.1,302.8 107.4,302.3 107.7,300.9 108.0,302.6 108.3,301.8 108.6,301.4 108.9,301.8 109.1,300.5 109.4,299.8 109.7,300.1 110.0,299.0 110.3,298.3 110.6,306.5 110.9,312.1 111.1,316.4 111.4,318.9 111.7,321.9 112.0,324.2 112.3,326.6 112.6,327.7 112.9,327.8 113.2,329.7 113.4,331.0 113.7,332.7 114.0,330.6 114.3,332.2 114.6,333.4 114.9,334.3 115.2,333.3 115.5,333.5 115.7,336.0 116.0,335.5 116.3,333.7 116.6,334.5 116.9,334.8 117.2,332.5 117.5,334.1 117.7,335.1 118.0,335.0 118.3,333.3 118.6,334.2 118.9,336.7 119.2,336.9 119.5,337.2 119.8,336.5 120.0,337.1 120.3,337.1 120.6,338.5 120.9,339.3 121.2,338.7 121.5,336.8 121.8,338.2 122.1,339.7 122.3,338.0 122.6,337.8 122.9,337.3 123.2,337.9 123.5,338.0 123.8,338.4 124.1,338.5 124.3,337.0 124.6,338.2 124.9,338.9 125.2,339.0 125.5,339.3 125.8,337.7 126.1,338.5 126.4,338.6 126.6,340.1 126.9,339.4 127.2,338.9 127.5,338.7 127.8,340.6 128.1,340.9 128.4,343.0 128.7,340.3 128.9,340.3 129.2,338.7 129.5,337.5 129.8,337.7 130.1,339.4 130.4,340.0 130.7,339.4 131.0,341.7 131.2,340.0 131.5,338.9 131.8,338.8 132.1,339.8 132.4,339.9 132.7,341.8 133.0,342.3 133.2,342.2 133.5,342.4 133.8,340.3 134.1,340.2 134.4,342.8 134.7,341.1 135.0,340.6 135.3,341.1 135.5,341.8 135.8,339.7 136.1,340.1 136.4,340.4 136.7,342.3 137.0,342.5 137.3,341.2 137.6,341.2 137.8,341.8 138.1,342.0 138.4,343.3 138.7,345.0 139.0,343.1 139.3,343.9 139.6,344.5 139.8,343.1 140.1,341.7 140.4,342.1 140.7,340.9 141.0,341.3 141.3,344.5 141.6,341.9 141.9,342.9 142.1,341.1 142.4,341.7 142.7,341.9 143.0,342.4 143.3,343.2 143.6,342.2 143.9,340.6 144.2,340.0 144.4,341.3 144.7,341.2 145.0,340.6 145.3,340.7 145.6,342.5 145.9,340.4 146.2,341.9 146.4,342.8 146.7,342.4 147.0,342.2 147.3,342.7 147.6,343.8 147.9,344.4 148.2,343.5 148.5,344.8 148.7,342.8 149.0,342.0 149.3,341.9 149.6,341.9 149.9,342.9 150.2,342.2 150.5,340.0 150.8,339.7 151.0,337.1 151.3,335.8 151.6,334.9 151.9,334.9 152.2,335.2 152.5,334.4 152.8,334.3 153.0,333.4 153.3,332.5 153.6,331.9 153.9,329.6 154.2,329.9 154.5,329.6 154.8,327.4 155.1,326.6 155.3,325.7 155.6,325.9 155.9,324.9 156.2,323.1 156.5,323.1 156.8,322.4 157.1,321.0 157.4,320.5 157.6,319.5 157.9,320.9 158.2,322.0 158.5,321.9 158.8,320.2 159.1,320.0 159.4,321.0 159.7,317.8 159.9,316.1 160.2,316.7 160.5,317.0 160.8,317.1 161.1,315.6 161.4,314.8 161.7,314.4 161.9,312.9 162.2,313.9 162.5,314.7 162.8,313.9 163.1,313.4 163.4,312.8 163.7,312.0 164.0,313.2 164.2,310.8 164.5,312.5 164.8,311.4 165.1,310.5 165.4,309.5 165.7,309.3 166.0,310.1 166.3,309.8 166.5,310.7 166.8,309.9 167.1,309.5 167.4,310.6 167.7,307.4 168.0,308.0 168.3,307.2 168.5,305.9 168.8,306.3 169.1,306.8 169.4,307.6 169.7,307.7 170.0,307.7 170.3,307.1 170.6,305.7 170.8,305.4 171.1,303.9 171.4,303.9 171.7,304.1 172.0,307.2 172.3,306.2 172.6,305.2 172.9,306.2 173.1,305.3 173.4,305.4 173.7,304.9 174.0,304.4 174.3,304.2 174.6,303.9 174.9,303.2 175.1,302.8 175.4,303.4 175.7,302.3 176.0,302.3 176.3,302.0 176.6,300.5 176.9,299.6 177.2,298.5 177.4,300.1 177.7,300.4 178.0,300.5 178.3,300.8 178.6,301.3 178.9,300.5 179.2,299.8 179.5,298.3 179.7,299.9 180.0,299.9 180.3,301.0 180.6,301.2 180.9,303.3 181.2,300.2 181.5,301.9 181.7,301.2 182.0,302.6 182.3,302.0 182.6,302.3 182.9,303.4 183.2,303.1 183.5,302.1 183.8,301.4 184.0,302.6 184.3,300.9 184.6,300.8 184.9,301.4 185.2,299.3 185.5,300.1 185.8,299.7 186.1,298.2 186.3,298.6 186.6,299.0 186.9,298.3 187.2,299.1 187.5,299.1 187.8,299.3 188.1,299.6 188.4,298.7 188.6,298.6 188.9,297.4 189.2,297.7 189.5,299.5 189.8,298.9 190.1,299.1 190.4,299.3 190.6,305.3 190.9,310.7 191.2,316.7 191.5,317.6 191.8,320.7 192.1,324.5 192.4,325.9 192.7,326.2 192.9,328.2 193.2,329.3 193.5,331.0 193.8,330.3 194.1,330.7 194.4,329.2 194.7,329.5 195.0,329.8 195.2,330.9 195.5,330.2 195.8,332.0 196.1,331.6 196.4,331.3 196.7,332.3 197.0,333.4 197.2,331.9 197.5,330.5 197.8,331.0 198.1,330.0 198.4,330.8 198.7,331.9 199.0,332.8 199.3,334.2 199.5,333.1 199.8,333.9 200.1,334.4 200.4,333.9 200.7,333.5 201.0,334.5 201.3,334.2 201.6,334.4 201.8,334.3 202.1,334.6 202.4,335.0 202.7,337.2 203.0,336.9 203.3,335.0 203.6,335.4 203.8,335.1 204.1,334.6 204.4,335.9 204.7,335.6 205.0,335.9 205.3,335.4 205.6,335.0 205.9,335.2 206.1,335.7 206.4,334.9 206.7,335.2 207.0,337.0 207.3,335.5 207.6,335.3 207.9,336.3 208.2,336.4 208.4,337.3 208.7,336.8 209.0,338.1 209.3,336.6 209.6,336.2 209.9,337.3 210.2,336.6 210.4,338.1 210.7,338.1 211.0,338.6 211.3,337.3 211.6,336.5 211.9,338.0 212.2,337.5 212.5,336.9 212.7,337.4 213.0,335.0 213.3,337.4 213.6,336.2 213.9,335.2 214.2,336.4 214.5,337.9 214.8,336.6 215.0,339.3 215.3,338.7 215.6,339.6 215.9,338.9 216.2,338.9 216.5,339.7 216.8,338.4 217.1,337.1 217.3,338.7 217.6,337.7 217.9,337.7 218.2,338.4 218.5,338.8 218.8,337.9 219.1,336.9 219.3,337.6 219.6,340.1 219.9,338.6 220.2,338.0 220.5,339.9 220.8,339.7 221.1,339.1 221.4,339.0 221.6,338.4 221.9,339.2 222.2,338.2 222.5,340.9 222.8,339.5 223.1,339.6 223.4,339.2 223.7,338.3 223.9,337.1 224.2,338.6 224.5,338.6 224.8,339.5 225.1,339.1 225.4,339.4 225.7,340.2 225.9,338.5 226.2,338.2 226.5,338.3 226.8,337.2 227.1,339.3 227.4,338.7 227.7,337.1 228.0,338.1 228.2,339.1 228.5,339.7 228.8,338.1 229.1,337.4 229.4,337.6 229.7,337.2 230.0,338.4 230.3,338.9 230.5,337.1 230.8,337.4 231.1,336.1 231.4,335.2 231.7,335.1 232.0,333.8 232.3,334.0 232.5,333.3 232.8,333.8 233.1,333.1 233.4,332.1 233.7,330.0 234.0,328.8 234.3,329.0 234.6,327.9 234.8,324.6 235.1,324.5 235.4,323.8 235.7,325.6 236.0,324.9 236.3,322.7 236.6,323.6 236.9,323.4 237.1,322.9 237.4,321.8 237.7,320.3 238.0,321.4 238.3,319.5 238.6,321.4 238.9,320.7 239.1,318.8 239.4,319.0 239.7,318.7 240.0,318.0 240.3,315.4 240.6,316.1 240.9,314.6 241.2,312.5 241.4,313.4 241.7,314.1 242.0,313.7 242.3,314.2 242.6,313.8 242.9,314.1 243.2,314.5 243.5,314.7 243.7,312.4 244.0,312.3 244.3,312.6 244.6,310.6 244.9,310.4 245.2,310.4 245.5,310.6 245.8,310.0 246.0,309.8 246.3,309.6 246.6,309.2 246.9,308.0 247.2,308.1 247.5,306.6 247.8,305.9 248.0,307.3 248.3,308.0 248.6,308.7 248.9,308.5 249.2,306.9 249.5,306.8 249.8,306.9 250.1,306.3 250.3,308.0 250.6,306.6 250.9,306.1 251.2,305.0 251.5,305.2 251.8,303.9 252.1,303.1 252.4,303.8 252.6,303.4 252.9,304.4 253.2,304.8 253.5,305.4 253.8,304.8 254.1,305.4 254.4,305.5 254.6,304.7 254.9,305.4 255.2,303.8 255.5,304.2 255.8,303.8 256.1,303.5 256.4,302.1 256.7,301.5 256.9,302.0 257.2,302.5 257.5,301.5 257.8,301.7 258.1,302.7 258.4,302.1 258.7,301.3 259.0,301.3 259.2,301.3 259.5,299.8 259.8,300.8 260.1,300.2 260.4,299.0 260.7,298.1 261.0,300.3 261.2,299.9 261.5,300.1 261.8,298.0 262.1,297.8 262.4,297.8 262.7,297.7 263.0,298.2 263.3,300.0 263.5,297.9 263.8,300.4 264.1,299.5 264.4,298.9 264.7,299.1 265.0,298.4 265.3,298.9 265.6,298.5 265.8,298.7 266.1,299.7 266.4,298.7 266.7,299.5 267.0,298.9 267.3,300.1 267.6,299.5 267.8,298.9 268.1,297.9 268.4,299.5 268.7,299.8 269.0,299.5 269.3,300.3 269.6,299.2 269.9,296.8 270.1,297.0 270.4,297.2 270.7,298.7 271.0,304.7 271.3,309.4 271.6,311.7 271.9,316.0 272.2,317.5 272.4,320.4 272.7,322.3 273.0,323.9 273.3,324.4 273.6,326.6 273.9,327.0 274.2,325.6 274.5,328.0 274.7,327.0 275.0,326.6 275.3,327.6 275.6,328.6 275.9,327.4 276.2,328.2 276.5,328.2 276.7,328.7 277.0,329.9 277.3,328.7 277.6,328.3 277.9,329.7 278.2,328.7 278.5,330.3 278.8,331.4 279.0,330.0 279.3,330.5 279.6,330.4 279.9,328.9 280.2,330.6 280.5,330.0 280.8,330.7 281.1,330.7 281.3,331.0 281.6,331.8 281.9,331.5 282.2,332.3 282.5,331.9 282.8,332.7 283.1,332.5 283.3,332.0 283.6,333.3 283.9,332.8 284.2,331.8 284.5,331.7 284.8,331.0 285.1,332.4 285.4,331.8 285.6,331.7 285.9,334.6 286.2,333.8 286.5,332.4 286.8,332.6 287.1,332.6 287.4,332.8 287.7,332.9 287.9,333.9 288.2,334.2 288.5,335.8 288.8,332.7 289.1,332.9 289.4,332.8 289.7,332.4 289.9,332.2 290.2,332.7 290.5,334.5 290.8,335.2 291.1,332.9 291.4,332.7 291.7,332.4 292.0,333.9 292.2,334.3 292.5,333.8 292.8,334.5 293.1,333.1 293.4,334.1 293.7,334.4 294.0,335.3 294.3,334.4 294.5,333.0 294.8,333.2 295.1,333.6 295.4,334.1 295.7,333.3 296.0,333.7 296.3,332.2 296.5,333.3 296.8,334.0 297.1,334.6 297.4,336.3 297.7,335.3 298.0,334.8 298.3,336.1 298.6,336.6 298.8,336.7 299.1,336.1 299.4,336.4" fill="none" stroke="#8a1a0e" stroke-width="0.85" stroke-linejoin="round"/>
<polyline points="57.5,367.6 57.8,363.4 58.1,361.5 58.4,358.6 58.7,356.9 59.0,352.6 59.2,351.4 59.5,349.5 59.8,346.8 60.1,345.2 60.4,340.1 60.7,339.1 61.0,337.9 61.3,337.3 61.5,335.4 61.8,334.3 62.1,332.8 62.4,330.2 62.7,329.6 63.0,327.8 63.3,327.3 63.6,325.1 63.8,325.0 64.1,324.8 64.4,323.7 64.7,321.3 65.0,321.1 65.3,321.1 65.6,320.2 65.8,319.9 66.1,318.5 66.4,318.4 66.7,317.1 67.0,315.6 67.3,314.9 67.6,313.4 67.9,313.4 68.1,311.8 68.4,311.2 68.7,312.1 69.0,311.6 69.3,312.6 69.6,312.5 69.9,312.2 70.2,312.6 70.4,311.7 70.7,311.5 71.0,309.2 71.3,309.0 71.6,309.7 71.9,310.4 72.2,310.7 72.4,310.9 72.7,311.0 73.0,310.3 73.3,311.1 73.6,310.5 73.9,309.4 74.2,309.7 74.5,310.3 74.7,310.0 75.0,308.6 75.3,309.2 75.6,307.3 75.9,309.2 76.2,309.5 76.5,308.3 76.8,306.8 77.0,307.4 77.3,309.1 77.6,308.7 77.9,309.1 78.2,309.1 78.5,308.8 78.8,308.8 79.0,308.3 79.3,307.7 79.6,307.8 79.9,309.2 80.2,308.6 80.5,310.5 80.8,309.0 81.1,308.6 81.3,308.9 81.6,306.1 81.9,304.9 82.2,304.5 82.5,305.2 82.8,306.4 83.1,306.1 83.4,304.9 83.6,305.7 83.9,306.3 84.2,307.0 84.5,307.0 84.8,306.1 85.1,307.2 85.4,306.0 85.7,306.2 85.9,304.3 86.2,305.1 86.5,304.5 86.8,306.3 87.1,304.2 87.4,305.1 87.7,305.8 87.9,304.7 88.2,305.3 88.5,307.0 88.8,306.2 89.1,305.9 89.4,306.2 89.7,306.7 90.0,308.2 90.2,305.9 90.5,306.6 90.8,306.2 91.1,306.8 91.4,307.4 91.7,306.8 92.0,307.5 92.3,306.2 92.5,307.8 92.8,306.7 93.1,305.5 93.4,306.3 93.7,306.2 94.0,305.5 94.3,306.3 94.5,306.6 94.8,306.7 95.1,304.1 95.4,305.8 95.7,306.2 96.0,306.7 96.3,307.1 96.6,307.7 96.8,307.8 97.1,307.1 97.4,305.8 97.7,304.5 98.0,306.5 98.3,316.5 98.6,323.1 98.9,329.2 99.1,333.5 99.4,336.3 99.7,338.9 100.0,341.2 100.3,341.9 100.6,343.6 100.9,344.4 101.1,344.5 101.4,344.5 101.7,345.0 102.0,344.7 102.3,345.5 102.6,347.7 102.9,346.3 103.2,344.3 103.4,345.1 103.7,345.0 104.0,345.4 104.3,347.2 104.6,347.4 104.9,348.8 105.2,349.7 105.5,349.2 105.7,349.4 106.0,350.3 106.3,351.6 106.6,350.4 106.9,350.5 107.2,350.5 107.5,351.5 107.7,352.1 108.0,351.8 108.3,353.4 108.6,351.5 108.9,351.6 109.2,350.7 109.5,350.3 109.8,351.6 110.0,351.4 110.3,352.8 110.6,353.6 110.9,351.9 111.2,352.8 111.5,353.5 111.8,352.9 112.1,353.0 112.3,352.1 112.6,353.8 112.9,353.9 113.2,354.8 113.5,354.3 113.8,354.3 114.1,355.0 114.4,356.2 114.6,356.6 114.9,354.7 115.2,354.9 115.5,355.7 115.8,355.0 116.1,355.8 116.4,354.4 116.6,353.7 116.9,354.0 117.2,354.9 117.5,356.6 117.8,355.4 118.1,353.4 118.4,353.8 118.7,354.9 118.9,354.2 119.2,355.0 119.5,356.3 119.8,356.0 120.1,355.2 120.4,357.0 120.7,355.5 121.0,354.0 121.2,354.7 121.5,355.5 121.8,357.0 122.1,356.0 122.4,356.2 122.7,354.9 123.0,353.9 123.2,353.6 123.5,354.4 123.8,356.8 124.1,355.3 124.4,356.1 124.7,356.6 125.0,355.4 125.3,355.3 125.5,356.7 125.8,356.9 126.1,357.0 126.4,356.9 126.7,357.8 127.0,355.9 127.3,356.3 127.6,355.8 127.8,355.1 128.1,353.7 128.4,354.2 128.7,355.9 129.0,356.6 129.3,355.9 129.6,354.7 129.8,356.9 130.1,355.1 130.4,356.3 130.7,356.7 131.0,357.2 131.3,356.5 131.6,356.9 131.9,357.0 132.1,357.8 132.4,356.1 132.7,356.2 133.0,356.6 133.3,354.8 133.6,355.1 133.9,354.6 134.2,355.9 134.4,356.3 134.7,356.8 135.0,356.1 135.3,356.3 135.6,358.3 135.9,357.3 136.2,357.5 136.4,357.2 136.7,356.3 137.0,357.0 137.3,356.5 137.6,356.8 137.9,355.5 138.2,354.6 138.5,353.1 138.7,351.8 139.0,349.5 139.3,350.5 139.6,347.9 139.9,346.5 140.2,346.1 140.5,343.6 140.8,342.5 141.0,340.9 141.3,338.7 141.6,338.1 141.9,339.1 142.2,339.2 142.5,337.6 142.8,337.3 143.1,333.6 143.3,333.2 143.6,334.2 143.9,334.9 144.2,333.4 144.5,334.0 144.8,331.4 145.1,332.2 145.3,329.4 145.6,328.7 145.9,326.6 146.2,327.2 146.5,326.6 146.8,324.6 147.1,325.8 147.4,324.1 147.6,322.1 147.9,323.1 148.2,322.6 148.5,320.5 148.8,319.2 149.1,318.1 149.4,318.9 149.7,319.4 149.9,319.4 150.2,319.5 150.5,318.2 150.8,317.3 151.1,316.9 151.4,317.7 151.7,316.6 151.9,316.1 152.2,315.9 152.5,314.8 152.8,315.5 153.1,315.3 153.4,314.2 153.7,315.1 154.0,314.0 154.2,313.4 154.5,312.3 154.8,311.7 155.1,313.0 155.4,311.4 155.7,312.5 156.0,313.8 156.3,313.6 156.5,313.5 156.8,313.9 157.1,312.3 157.4,311.7 157.7,311.1 158.0,312.6 158.3,310.4 158.5,310.3 158.8,309.6 159.1,309.8 159.4,309.9 159.7,309.5 160.0,309.8 160.3,308.7 160.6,309.8 160.8,311.9 161.1,311.5 161.4,310.9 161.7,310.1 162.0,309.9 162.3,309.4 162.6,309.0 162.9,309.3 163.1,308.8 163.4,308.5 163.7,309.5 164.0,310.9 164.3,309.9 164.6,309.1 164.9,308.0 165.1,307.2 165.4,307.5 165.7,306.9 166.0,308.1 166.3,308.7 166.6,307.3 166.9,308.8 167.2,308.6 167.4,309.4 167.7,310.0 168.0,307.3 168.3,309.2 168.6,307.1 168.9,307.8 169.2,308.5 169.5,309.8 169.7,308.8 170.0,307.8 170.3,307.2 170.6,308.2 170.9,306.4 171.2,306.7 171.5,306.5 171.8,306.4 172.0,306.3 172.3,307.0 172.6,306.8 172.9,307.7 173.2,307.3 173.5,308.2 173.8,309.2 174.0,308.9 174.3,308.4 174.6,308.5 174.9,308.3 175.2,308.3 175.5,307.8 175.8,305.9 176.1,305.8 176.3,305.5 176.6,305.2 176.9,305.1 177.2,305.4 177.5,305.2 177.8,304.9 178.1,305.9 178.4,314.9 178.6,321.4 178.9,326.5 179.2,329.9 179.5,333.4 179.8,336.0 180.1,337.4 180.4,338.3 180.6,339.7 180.9,342.1 181.2,342.6 181.5,342.0 181.8,342.8 182.1,342.1 182.4,343.4 182.7,344.0 182.9,343.5 183.2,343.0 183.5,344.2 183.8,343.3 184.1,344.0 184.4,344.4 184.7,343.4 185.0,343.7 185.2,345.0 185.5,345.7 185.8,346.9 186.1,345.9 186.4,346.0 186.7,344.8 187.0,344.7 187.2,345.8 187.5,347.1 187.8,347.7 188.1,346.6 188.4,347.3 188.7,346.6 189.0,346.2 189.3,345.7 189.5,346.6 189.8,346.8 190.1,348.8 190.4,348.6 190.7,348.7 191.0,348.1 191.3,350.2 191.6,350.2 191.8,347.8 192.1,348.4 192.4,349.3 192.7,349.4 193.0,349.8 193.3,350.2 193.6,349.6 193.8,349.6 194.1,348.8 194.4,347.1 194.7,347.8 195.0,348.5 195.3,348.0 195.6,350.4 195.9,348.9 196.1,350.7 196.4,351.2 196.7,351.1 197.0,352.3 197.3,352.4 197.6,351.8 197.9,351.2 198.2,352.5 198.4,354.8 198.7,352.9 199.0,353.9 199.3,352.6 199.6,351.8 199.9,351.0 200.2,351.8 200.5,352.4 200.7,349.3 201.0,350.4 201.3,352.0 201.6,353.2 201.9,353.0 202.2,351.0 202.5,350.8 202.7,352.2 203.0,353.5 203.3,353.6 203.6,353.1 203.9,352.5 204.2,352.0 204.5,351.2 204.8,352.9 205.0,354.2 205.3,353.6 205.6,352.6 205.9,353.1 206.2,352.7 206.5,352.8 206.8,351.7 207.1,352.3 207.3,352.9 207.6,352.4 207.9,351.7 208.2,352.7 208.5,352.9 208.8,353.6 209.1,354.4 209.3,351.6 209.6,352.7 209.9,353.1 210.2,353.4 210.5,354.0 210.8,353.8 211.1,353.6 211.4,353.1 211.6,353.6 211.9,354.8 212.2,354.3 212.5,353.2 212.8,352.0 213.1,352.6 213.4,353.1 213.7,353.9 213.9,352.3 214.2,353.3 214.5,353.8 214.8,353.7 215.1,353.8 215.4,353.6 215.7,353.1 215.9,351.7 216.2,351.9 216.5,352.1 216.8,354.0 217.1,351.8 217.4,352.0 217.7,351.8 218.0,352.8 218.2,351.7 218.5,350.8 218.8,349.5 219.1,348.5 219.4,346.3 219.7,344.2 220.0,343.5 220.3,342.9 220.5,341.1 220.8,340.5 221.1,339.1 221.4,338.9 221.7,336.5 222.0,336.5 222.3,335.1 222.5,332.9 222.8,332.5 223.1,332.5 223.4,331.2 223.7,329.5 224.0,331.6 224.3,330.9 224.6,329.9 224.8,328.2 225.1,329.0 225.4,327.2 225.7,326.5 226.0,325.4 226.3,326.0 226.6,323.9 226.9,321.3 227.1,321.8 227.4,321.4 227.7,322.6 228.0,324.7 228.3,323.3 228.6,322.3 228.9,320.8 229.2,320.2 229.4,321.0 229.7,322.2 230.0,319.7 230.3,318.1 230.6,318.0 230.9,318.0 231.2,316.9 231.4,317.3 231.7,318.1 232.0,316.1 232.3,317.2 232.6,316.9 232.9,315.0 233.2,314.5 233.5,313.5 233.7,312.4 234.0,312.9 234.3,314.7 234.6,315.9 234.9,316.9 235.2,314.7 235.5,315.4 235.8,314.4 236.0,313.6 236.3,312.8 236.6,312.6 236.9,311.1 237.2,311.1 237.5,310.3 237.8,310.9 238.0,311.0 238.3,310.9 238.6,310.5 238.9,309.9 239.2,310.7 239.5,310.1 239.8,307.6 240.1,311.2 240.3,310.2 240.6,310.3 240.9,310.4 241.2,310.7 241.5,311.4 241.8,310.5 242.1,310.8 242.4,308.7 242.6,308.7 242.9,307.3 243.2,307.9 243.5,309.7 243.8,309.0 244.1,308.8 244.4,308.0 244.6,310.5 244.9,309.7 245.2,307.9 245.5,308.1 245.8,310.1 246.1,309.0 246.4,308.3 246.7,307.0 246.9,306.9 247.2,308.3 247.5,307.1 247.8,306.8 248.1,306.1 248.4,307.0 248.7,306.4 249.0,308.9 249.2,309.7 249.5,308.4 249.8,306.6 250.1,306.5 250.4,306.7 250.7,307.2 251.0,307.7 251.2,306.6 251.5,308.6 251.8,307.9 252.1,306.2 252.4,308.2 252.7,310.0 253.0,309.8 253.3,308.8 253.5,307.6 253.8,308.0 254.1,306.9 254.4,307.5 254.7,308.9 255.0,307.2 255.3,307.1 255.6,307.7 255.8,309.0 256.1,310.6 256.4,310.1 256.7,308.2 257.0,308.5 257.3,309.1 257.6,309.0 257.9,307.6 258.1,306.7 258.4,305.6 258.7,314.6 259.0,319.0 259.3,322.6 259.6,326.6 259.9,329.0 260.1,330.4 260.4,332.8 260.7,335.7 261.0,336.5 261.3,337.2 261.6,337.6 261.9,336.1 262.2,337.8 262.4,339.3 262.7,338.8 263.0,339.8 263.3,341.7 263.6,341.5 263.9,340.8 264.2,342.9 264.5,341.1 264.7,339.9 265.0,342.1 265.3,342.2 265.6,342.2 265.9,342.1 266.2,342.4 266.5,342.2 266.7,343.6 267.0,344.0 267.3,344.1 267.6,343.7 267.9,342.1 268.2,342.2 268.5,344.2 268.8,344.1 269.0,342.6 269.3,341.6 269.6,341.4 269.9,342.8 270.2,343.1 270.5,343.9 270.8,345.6 271.1,345.6 271.3,346.1 271.6,347.2 271.9,346.8 272.2,346.9 272.5,346.9 272.8,345.9 273.1,347.1 273.3,346.8 273.6,346.3 273.9,346.2 274.2,346.1 274.5,346.3 274.8,348.0 275.1,349.6 275.4,349.1 275.6,348.7 275.9,349.0 276.2,349.0 276.5,348.7 276.8,346.5 277.1,347.0 277.4,346.4 277.7,346.2 277.9,346.6 278.2,346.1 278.5,347.3 278.8,347.7 279.1,348.9 279.4,348.6 279.7,347.5 279.9,348.6 280.2,348.4 280.5,348.6 280.8,348.5 281.1,348.8 281.4,348.3 281.7,349.5 282.0,348.9 282.2,347.1 282.5,348.7 282.8,347.8 283.1,348.8 283.4,349.2 283.7,347.3 284.0,347.2 284.3,347.2 284.5,346.2 284.8,346.6 285.1,347.6 285.4,350.3 285.7,349.0 286.0,347.4 286.3,348.4 286.6,349.8 286.8,351.1 287.1,349.7" fill="none" stroke="#581208" stroke-width="0.85" stroke-linejoin="round"/>
<polyline points="51.7,379.1 51.9,373.8 52.2,368.9 52.5,365.8 52.8,363.4 53.1,360.0 53.4,355.2 53.7,353.9 53.9,351.9 54.2,348.5 54.5,346.7 54.8,343.1 55.1,342.1 55.4,341.2 55.7,340.4 56.0,338.0 56.2,334.8 56.5,333.4 56.8,332.6 57.1,332.5 57.4,330.4 57.7,329.5 58.0,325.8 58.3,326.5 58.5,326.8 58.8,326.6 59.1,324.7 59.4,322.9 59.7,321.9 60.0,320.2 60.3,319.4 60.5,319.9 60.8,317.8 61.1,318.7 61.4,318.1 61.7,317.7 62.0,316.3 62.3,316.4 62.6,316.0 62.8,317.8 63.1,317.0 63.4,316.1 63.7,314.2 64.0,316.0 64.3,316.5 64.6,314.8 64.9,312.3 65.1,312.7 65.4,315.1 65.7,316.1 66.0,315.3 66.3,315.3 66.6,313.9 66.9,312.4 67.2,311.8 67.4,313.0 67.7,313.4 68.0,313.1 68.3,312.4 68.6,311.7 68.9,312.2 69.2,311.1 69.4,310.7 69.7,311.4 70.0,311.3 70.3,309.9 70.6,310.0 70.9,310.9 71.2,311.4 71.5,310.5 71.7,310.5 72.0,310.7 72.3,311.6 72.6,311.7 72.9,311.3 73.2,309.6 73.5,311.4 73.8,311.2 74.0,312.0 74.3,312.9 74.6,310.0 74.9,311.6 75.2,310.2 75.5,309.5 75.8,309.6 76.0,310.1 76.3,310.4 76.6,310.1 76.9,310.0 77.2,309.8 77.5,309.6 77.8,311.6 78.1,312.5 78.3,311.8 78.6,311.4 78.9,312.5 79.2,310.9 79.5,310.3 79.8,310.2 80.1,309.4 80.4,309.3 80.6,310.0 80.9,310.8 81.2,309.7 81.5,310.5 81.8,311.3 82.1,311.9 82.4,310.8 82.6,310.5 82.9,310.7 83.2,309.8 83.5,310.9 83.8,310.0 84.1,310.8 84.4,310.9 84.7,311.0 84.9,310.6 85.2,309.3 85.5,310.4 85.8,309.5 86.1,308.8 86.4,309.7 86.7,310.7 87.0,311.7 87.2,311.3 87.5,308.3 87.8,309.4 88.1,309.8 88.4,311.0 88.7,310.4 89.0,310.2 89.2,309.5 89.5,307.9 89.8,308.0 90.1,309.8 90.4,310.3 90.7,311.6 91.0,311.6 91.3,312.6 91.5,310.7 91.8,312.7 92.1,311.3 92.4,320.6 92.7,329.4 93.0,333.8 93.3,336.8 93.6,339.0 93.8,342.8 94.1,344.7 94.4,346.7 94.7,347.1 95.0,349.0 95.3,349.3 95.6,351.7 95.9,352.9 96.1,354.3 96.4,354.4 96.7,355.6 97.0,355.1 97.3,355.6 97.6,356.8 97.9,356.1 98.1,354.9 98.4,354.8 98.7,355.1 99.0,355.8 99.3,356.3 99.6,358.1 99.9,355.8 100.2,358.0 100.4,358.6 100.7,359.2 101.0,359.7 101.3,358.9 101.6,359.3 101.9,359.5 102.2,358.8 102.5,359.9 102.7,360.5 103.0,359.5 103.3,359.8 103.6,361.4 103.9,360.0 104.2,361.2 104.5,360.7 104.7,360.3 105.0,359.9 105.3,359.8 105.6,360.4 105.9,360.4 106.2,362.0 106.5,361.2 106.8,362.8 107.0,361.3 107.3,361.9 107.6,360.7 107.9,361.0 108.2,360.6 108.5,361.4 108.8,361.7 109.1,361.2 109.3,360.8 109.6,361.5 109.9,364.3 110.2,363.2 110.5,362.1 110.8,360.9 111.1,361.7 111.3,360.9 111.6,364.9 111.9,364.3 112.2,364.2 112.5,361.6 112.8,362.2 113.1,360.0 113.4,361.1 113.6,362.2 113.9,363.1 114.2,363.8 114.5,363.4 114.8,363.1 115.1,364.1 115.4,362.1 115.7,361.5 115.9,362.6 116.2,362.4 116.5,363.0 116.8,363.7 117.1,364.4 117.4,364.7 117.7,362.6 117.9,361.4 118.2,362.5 118.5,363.3 118.8,362.4 119.1,363.8 119.4,363.2 119.7,364.9 120.0,364.2 120.2,363.4 120.5,362.9 120.8,361.9 121.1,361.6 121.4,363.1 121.7,364.8 122.0,366.9 122.3,366.8 122.5,366.0 122.8,365.9 123.1,362.6 123.4,362.9 123.7,363.1 124.0,363.5 124.3,364.1 124.6,363.9 124.8,363.1 125.1,363.6 125.4,363.1 125.7,362.3 126.0,363.1 126.3,363.0 126.6,363.4 126.8,362.8 127.1,362.7 127.4,363.3 127.7,362.7 128.0,362.4 128.3,363.1 128.6,365.0 128.9,363.2 129.1,363.6 129.4,363.4 129.7,363.8 130.0,364.5 130.3,365.8 130.6,365.4 130.9,365.4 131.2,364.7 131.4,365.1 131.7,365.1 132.0,362.6 132.3,361.3 132.6,360.4 132.9,358.3 133.2,357.2 133.4,356.7 133.7,355.9 134.0,354.8 134.3,353.3 134.6,353.5 134.9,352.4 135.2,350.5 135.5,348.7 135.7,347.0 136.0,344.9 136.3,344.7 136.6,341.8 136.9,340.8 137.2,342.5 137.5,340.8 137.8,340.4 138.0,338.4 138.3,335.7 138.6,336.8 138.9,335.7 139.2,335.9 139.5,336.1 139.8,333.9 140.0,332.2 140.3,332.3 140.6,331.9 140.9,332.2 141.2,331.6 141.5,330.6 141.8,329.7 142.1,328.1 142.3,327.4 142.6,327.1 142.9,326.5 143.2,325.5 143.5,324.7 143.8,326.0 144.1,325.4 144.4,324.3 144.6,324.7 144.9,325.4 145.2,325.2 145.5,325.2 145.8,324.0 146.1,323.2 146.4,321.8 146.6,323.3 146.9,321.7 147.2,320.3 147.5,317.6 147.8,318.7 148.1,318.2 148.4,320.2 148.7,318.6 148.9,317.0 149.2,317.3 149.5,318.2 149.8,316.6 150.1,317.9 150.4,316.0 150.7,317.5 151.0,316.8 151.2,316.5 151.5,316.4 151.8,317.0 152.1,317.6 152.4,315.7 152.7,315.3 153.0,316.3 153.3,317.3 153.5,315.8 153.8,314.3 154.1,314.7 154.4,315.2 154.7,314.5 155.0,314.1 155.3,313.1 155.5,313.8 155.8,314.7 156.1,314.6 156.4,315.7 156.7,316.1 157.0,315.7 157.3,315.1 157.6,314.5 157.8,315.5 158.1,315.1 158.4,312.5 158.7,314.5 159.0,314.4 159.3,314.4 159.6,313.3 159.9,313.9 160.1,311.3 160.4,312.5 160.7,312.4 161.0,312.4 161.3,311.2 161.6,311.3 161.9,313.2 162.1,312.8 162.4,313.3 162.7,311.8 163.0,311.5 163.3,311.5 163.6,311.8 163.9,312.7 164.2,311.4 164.4,310.8 164.7,309.1 165.0,310.5 165.3,310.0 165.6,311.8 165.9,311.3 166.2,311.5 166.5,312.6 166.7,312.9 167.0,312.3 167.3,312.3 167.6,312.3 167.9,312.3 168.2,312.0 168.5,312.3 168.7,313.6 169.0,312.6 169.3,310.5 169.6,311.1 169.9,311.1 170.2,312.0 170.5,312.5 170.8,313.0 171.0,313.6 171.3,312.6 171.6,313.0 171.9,312.0 172.2,311.6 172.5,321.8 172.8,325.9 173.1,332.0 173.3,336.1 173.6,339.8 173.9,343.3 174.2,344.7 174.5,345.4 174.8,348.7 175.1,348.8 175.3,349.1 175.6,347.7 175.9,350.8 176.2,351.5 176.5,350.3 176.8,351.5 177.1,351.1 177.4,352.4 177.6,353.5 177.9,352.4 178.2,353.1 178.5,354.1 178.8,353.8 179.1,352.5 179.4,353.1 179.7,351.2 179.9,353.6 180.2,352.2 180.5,352.8 180.8,352.7 181.1,352.8 181.4,353.9 181.7,354.7 182.0,356.2 182.2,356.5 182.5,356.8 182.8,355.4 183.1,356.0 183.4,355.7 183.7,355.9 184.0,353.8 184.2,355.6 184.5,356.8 184.8,356.1 185.1,358.1 185.4,357.5 185.7,358.3 186.0,358.6 186.3,358.2 186.5,355.9 186.8,355.7 187.1,355.6 187.4,356.0 187.7,356.2 188.0,357.5 188.3,357.5 188.6,357.8 188.8,357.3 189.1,356.8 189.4,358.5 189.7,359.7 190.0,357.8 190.3,359.1 190.6,357.8 190.8,355.4 191.1,355.7 191.4,356.7 191.7,357.7 192.0,358.0 192.3,357.5 192.6,355.3 192.9,356.0 193.1,357.4 193.4,356.6 193.7,357.7 194.0,357.1 194.3,357.8 194.6,358.3 194.9,358.1 195.2,358.8 195.4,359.8 195.7,359.8 196.0,359.7 196.3,360.1 196.6,359.3 196.9,359.2 197.2,359.3 197.4,359.9 197.7,359.7 198.0,359.2 198.3,359.9 198.6,360.2 198.9,360.0 199.2,359.9 199.5,360.6 199.7,359.7 200.0,359.6 200.3,358.1 200.6,360.2 200.9,361.5 201.2,360.9 201.5,358.9 201.8,358.7 202.0,359.4 202.3,360.6 202.6,360.4 202.9,361.0 203.2,361.7 203.5,361.2 203.8,361.7 204.0,361.7 204.3,362.0 204.6,361.8 204.9,361.0 205.2,360.9 205.5,360.7 205.8,361.8 206.1,362.9 206.3,362.2 206.6,361.8 206.9,360.9 207.2,362.3 207.5,361.0 207.8,361.1 208.1,362.2 208.4,362.4 208.6,362.3 208.9,360.6 209.2,361.3 209.5,361.0 209.8,361.9 210.1,363.0 210.4,363.0 210.7,363.9 210.9,363.2 211.2,362.7 211.5,360.5 211.8,361.3 212.1,360.3 212.4,358.6 212.7,356.8 212.9,355.8 213.2,354.9 213.5,353.3 213.8,351.2 214.1,351.3 214.4,351.3 214.7,350.2 215.0,349.9 215.2,348.3 215.5,346.9 215.8,346.0 216.1,344.5 216.4,341.9 216.7,341.1 217.0,339.2 217.3,339.0 217.5,338.2 217.8,338.9 218.1,336.4 218.4,335.6 218.7,333.6 219.0,333.7 219.3,333.9 219.5,331.2 219.8,332.4 220.1,333.6 220.4,331.5 220.7,331.8 221.0,331.8 221.3,330.2 221.6,330.1 221.8,327.3 222.1,325.1 222.4,323.6 222.7,325.0 223.0,324.3 223.3,325.2 223.6,325.4 223.9,325.1 224.1,324.7 224.4,323.8 224.7,323.8 225.0,321.9 225.3,323.4 225.6,322.4 225.9,323.5 226.1,322.1 226.4,320.4 226.7,319.0 227.0,318.9 227.3,319.1 227.6,319.9 227.9,320.1 228.2,319.5 228.4,319.9 228.7,320.6 229.0,318.5 229.3,317.8 229.6,317.4 229.9,317.9 230.2,317.1 230.5,317.5 230.7,316.9 231.0,316.8 231.3,316.7 231.6,317.2 231.9,316.2 232.2,316.9 232.5,315.0 232.7,314.4 233.0,315.1 233.3,314.8 233.6,314.2 233.9,314.6 234.2,315.8 234.5,315.2 234.8,315.3 235.0,315.2 235.3,313.0 235.6,313.5 235.9,315.1 236.2,314.1 236.5,313.0 236.8,314.2 237.1,314.1 237.3,314.6 237.6,313.9 237.9,312.7 238.2,310.5 238.5,311.9 238.8,312.3 239.1,311.3 239.4,312.3 239.6,311.7 239.9,312.8 240.2,309.8 240.5,311.8 240.8,311.5 241.1,310.4 241.4,310.4 241.6,309.7 241.9,309.9 242.2,310.9 242.5,310.8 242.8,310.6 243.1,311.0 243.4,310.7 243.7,311.5 243.9,312.5 244.2,311.0 244.5,311.2 244.8,310.0 245.1,309.0 245.4,310.5 245.7,309.5 246.0,310.0 246.2,310.3 246.5,312.5 246.8,312.6 247.1,312.5 247.4,312.7 247.7,313.4 248.0,314.3 248.2,313.1 248.5,312.1 248.8,311.0 249.1,312.6 249.4,313.6 249.7,310.8 250.0,311.2 250.3,311.3 250.5,310.4 250.8,311.8 251.1,311.8 251.4,310.8 251.7,310.6 252.0,310.0 252.3,310.9 252.6,309.6 252.8,319.9 253.1,328.2 253.4,332.4 253.7,335.4 254.0,338.0 254.3,342.0 254.6,344.1 254.8,344.8 255.1,344.4 255.4,344.0 255.7,343.6 256.0,346.2 256.3,347.3 256.6,349.2 256.9,350.0 257.1,350.6 257.4,350.0 257.7,350.5 258.0,349.7 258.3,348.3 258.6,349.1 258.9,349.9 259.2,350.0 259.4,350.3 259.7,350.6 260.0,351.3 260.3,351.0 260.6,351.5 260.9,351.0 261.2,351.0 261.4,350.2 261.7,350.2 262.0,350.4 262.3,351.1 262.6,351.9 262.9,351.5 263.2,352.6 263.5,352.2 263.7,350.8 264.0,352.2 264.3,351.9 264.6,351.7 264.9,352.3 265.2,351.6 265.5,352.7 265.8,354.2 266.0,353.4 266.3,353.1 266.6,353.1 266.9,352.5 267.2,354.1 267.5,354.9 267.8,352.9 268.1,353.7 268.3,353.0 268.6,353.1 268.9,355.5 269.2,355.6 269.5,352.6 269.8,353.3 270.1,353.2 270.3,355.1 270.6,355.2 270.9,356.1 271.2,356.0 271.5,355.5 271.8,356.1 272.1,357.1 272.4,355.9 272.6,355.1 272.9,355.8 273.2,356.3 273.5,355.2 273.8,355.5 274.1,354.5 274.4,354.4 274.7,355.2 274.9,354.5 275.2,356.8 275.5,357.4 275.8,356.8 276.1,355.7 276.4,355.1 276.7,355.0 276.9,356.3 277.2,356.3 277.5,354.6 277.8,354.6 278.1,354.3 278.4,355.1 278.7,356.8 279.0,357.0 279.2,355.6 279.5,356.8 279.8,355.5 280.1,355.5 280.4,357.6 280.7,357.2 281.0,357.5 281.3,357.4" fill="none" stroke="#2e0a05" stroke-width="0.85" stroke-linejoin="round"/>
<line x1="89.1" y1="398.2" x2="89.1" y2="375.5" stroke="#444" stroke-width="0.8" stroke-dasharray="1.2,1.3"/>
<line x1="129.3" y1="398.2" x2="129.3" y2="375.5" stroke="#444" stroke-width="0.8" stroke-dasharray="1.2,1.3"/>
<line x1="169.4" y1="398.2" x2="169.4" y2="375.5" stroke="#444" stroke-width="0.8" stroke-dasharray="1.2,1.3"/>
<line x1="209.6" y1="398.2" x2="209.6" y2="375.5" stroke="#444" stroke-width="0.8" stroke-dasharray="1.2,1.3"/>
<line x1="249.8" y1="398.2" x2="249.8" y2="375.5" stroke="#444" stroke-width="0.8" stroke-dasharray="1.2,1.3"/>
<text x="70.1" y="391.4" font-size="10.5" text-anchor="middle" font-weight="normal" fill="#231f20" >Off</text>
<text x="110.3" y="391.4" font-size="10.5" text-anchor="middle" font-weight="normal" fill="#231f20" >On</text>
<text x="150.5" y="391.4" font-size="10.5" text-anchor="middle" font-weight="normal" fill="#231f20" >Off</text>
<text x="190.7" y="391.4" font-size="10.5" text-anchor="middle" font-weight="normal" fill="#231f20" >On</text>
<text x="230.9" y="391.4" font-size="10.5" text-anchor="middle" font-weight="normal" fill="#231f20" >Off</text>
<text x="271.0" y="391.4" font-size="10.5" text-anchor="middle" font-weight="normal" fill="#231f20" >On</text>
<line x1="48.9" y1="398.2" x2="278.5" y2="398.2" stroke="#333" stroke-width="1.0"/>
<line x1="278.5" y1="398.2" x2="351.9" y2="312.8" stroke="#333" stroke-width="1.0"/>
<line x1="351.9" y1="312.8" x2="351.9" y2="218.4" stroke="#333" stroke-width="1.0"/>
<line x1="122.3" y1="218.4" x2="351.9" y2="218.4" stroke="#333" stroke-width="1.0"/>
<line x1="48.9" y1="303.8" x2="122.3" y2="218.4" stroke="#333" stroke-width="1.0"/>
<line x1="48.9" y1="398.2" x2="48.9" y2="303.8" stroke="#555" stroke-width="0.8"/>
<line x1="48.9" y1="398.2" x2="48.9" y2="401.59999999999997" stroke="#333" stroke-width="0.9"/>
<text x="48.9" y="414.0" font-size="11" text-anchor="middle" font-weight="normal" fill="#231f20" >0</text>
<line x1="60.4" y1="398.2" x2="60.4" y2="400.5" stroke="#333" stroke-width="0.9"/>
<line x1="71.9" y1="398.2" x2="71.9" y2="400.5" stroke="#333" stroke-width="0.9"/>
<line x1="83.3" y1="398.2" x2="83.3" y2="400.5" stroke="#333" stroke-width="0.9"/>
<line x1="94.8" y1="398.2" x2="94.8" y2="400.5" stroke="#333" stroke-width="0.9"/>
<line x1="106.3" y1="398.2" x2="106.3" y2="401.59999999999997" stroke="#333" stroke-width="0.9"/>
<text x="106.3" y="414.0" font-size="11" text-anchor="middle" font-weight="normal" fill="#231f20" >10</text>
<line x1="117.8" y1="398.2" x2="117.8" y2="400.5" stroke="#333" stroke-width="0.9"/>
<line x1="129.3" y1="398.2" x2="129.3" y2="400.5" stroke="#333" stroke-width="0.9"/>
<line x1="140.7" y1="398.2" x2="140.7" y2="400.5" stroke="#333" stroke-width="0.9"/>
<line x1="152.2" y1="398.2" x2="152.2" y2="400.5" stroke="#333" stroke-width="0.9"/>
<line x1="163.7" y1="398.2" x2="163.7" y2="401.59999999999997" stroke="#333" stroke-width="0.9"/>
<text x="163.7" y="414.0" font-size="11" text-anchor="middle" font-weight="normal" fill="#231f20" >20</text>
<line x1="175.2" y1="398.2" x2="175.2" y2="400.5" stroke="#333" stroke-width="0.9"/>
<line x1="186.7" y1="398.2" x2="186.7" y2="400.5" stroke="#333" stroke-width="0.9"/>
<line x1="198.1" y1="398.2" x2="198.1" y2="400.5" stroke="#333" stroke-width="0.9"/>
<line x1="209.6" y1="398.2" x2="209.6" y2="400.5" stroke="#333" stroke-width="0.9"/>
<line x1="221.1" y1="398.2" x2="221.1" y2="401.59999999999997" stroke="#333" stroke-width="0.9"/>
<text x="221.1" y="414.0" font-size="11" text-anchor="middle" font-weight="normal" fill="#231f20" >30</text>
<line x1="232.6" y1="398.2" x2="232.6" y2="400.5" stroke="#333" stroke-width="0.9"/>
<line x1="244.1" y1="398.2" x2="244.1" y2="400.5" stroke="#333" stroke-width="0.9"/>
<line x1="255.5" y1="398.2" x2="255.5" y2="400.5" stroke="#333" stroke-width="0.9"/>
<line x1="267.0" y1="398.2" x2="267.0" y2="400.5" stroke="#333" stroke-width="0.9"/>
<line x1="278.5" y1="398.2" x2="278.5" y2="401.59999999999997" stroke="#333" stroke-width="0.9"/>
<text x="278.5" y="414.0" font-size="11" text-anchor="middle" font-weight="normal" fill="#231f20" >40</text>
<text x="164" y="431.0" font-size="11" text-anchor="middle" font-weight="normal" fill="#231f20" >Time (s)</text>
<line x1="351.9" y1="306.5" x2="355.1" y2="306.5" stroke="#333" stroke-width="0.9"/>
<text x="362.7" y="310.4" font-size="11" text-anchor="middle" font-weight="normal" fill="#231f20" >0</text>
<line x1="351.9" y1="300.2" x2="353.5" y2="300.2" stroke="#333" stroke-width="0.9"/>
<line x1="351.9" y1="293.9" x2="353.5" y2="293.9" stroke="#333" stroke-width="0.9"/>
<line x1="351.9" y1="287.6" x2="353.5" y2="287.6" stroke="#333" stroke-width="0.9"/>
<line x1="351.9" y1="281.3" x2="355.1" y2="281.3" stroke="#333" stroke-width="0.9"/>
<text x="362.7" y="285.2" font-size="11" text-anchor="middle" font-weight="normal" fill="#231f20" >2</text>
<line x1="351.9" y1="275.0" x2="353.5" y2="275.0" stroke="#333" stroke-width="0.9"/>
<line x1="351.9" y1="268.7" x2="353.5" y2="268.7" stroke="#333" stroke-width="0.9"/>
<line x1="351.9" y1="262.4" x2="353.5" y2="262.4" stroke="#333" stroke-width="0.9"/>
<line x1="351.9" y1="256.1" x2="355.1" y2="256.1" stroke="#333" stroke-width="0.9"/>
<text x="362.7" y="260.0" font-size="11" text-anchor="middle" font-weight="normal" fill="#231f20" >4</text>
<line x1="351.9" y1="249.8" x2="353.5" y2="249.8" stroke="#333" stroke-width="0.9"/>
<line x1="351.9" y1="243.6" x2="353.5" y2="243.6" stroke="#333" stroke-width="0.9"/>
<line x1="351.9" y1="237.3" x2="353.5" y2="237.3" stroke="#333" stroke-width="0.9"/>
<line x1="351.9" y1="231.0" x2="355.1" y2="231.0" stroke="#333" stroke-width="0.9"/>
<text x="362.7" y="234.9" font-size="11" text-anchor="middle" font-weight="normal" fill="#231f20" >6</text>
<line x1="351.9" y1="224.7" x2="353.5" y2="224.7" stroke="#333" stroke-width="0.9"/>
<line x1="351.9" y1="218.4" x2="353.5" y2="218.4" stroke="#333" stroke-width="0.9"/>
<text x="0" y="0" font-size="11" text-anchor="middle" fill="#231f20" transform="translate(384.2,265.2) rotate(-90)">Current (µA)</text>
<line x1="347.3" y1="318.1" x2="349.8" y2="318.1" stroke="#333" stroke-width="0.9"/>
<text x="0" y="0" font-size="11" text-anchor="start" fill="#231f20" transform="translate(355.2,322.7) matrix(1,0,-0.72,0.84,0,0)">0</text>
<line x1="338.1" y1="328.8" x2="340.6" y2="328.8" stroke="#333" stroke-width="0.9"/>
<text x="0" y="0" font-size="11" text-anchor="start" fill="#231f20" transform="translate(346.0,333.4) matrix(1,0,-0.72,0.84,0,0)">100</text>
<line x1="329.0" y1="339.5" x2="331.5" y2="339.5" stroke="#333" stroke-width="0.9"/>
<text x="0" y="0" font-size="11" text-anchor="start" fill="#231f20" transform="translate(336.9,344.1) matrix(1,0,-0.72,0.84,0,0)">200</text>
<line x1="319.8" y1="350.2" x2="322.3" y2="350.2" stroke="#333" stroke-width="0.9"/>
<text x="0" y="0" font-size="11" text-anchor="start" fill="#231f20" transform="translate(327.7,354.8) matrix(1,0,-0.72,0.84,0,0)">300</text>
<line x1="310.6" y1="360.8" x2="313.1" y2="360.8" stroke="#333" stroke-width="0.9"/>
<text x="0" y="0" font-size="11" text-anchor="start" fill="#231f20" transform="translate(318.5,365.4) matrix(1,0,-0.72,0.84,0,0)">400</text>
<line x1="301.4" y1="371.5" x2="303.9" y2="371.5" stroke="#333" stroke-width="0.9"/>
<text x="0" y="0" font-size="11" text-anchor="start" fill="#231f20" transform="translate(309.3,376.1) matrix(1,0,-0.72,0.84,0,0)">500</text>
<line x1="292.3" y1="382.2" x2="294.8" y2="382.2" stroke="#333" stroke-width="0.9"/>
<text x="0" y="0" font-size="11" text-anchor="start" fill="#231f20" transform="translate(300.2,386.8) matrix(1,0,-0.72,0.84,0,0)">600</text>
<line x1="283.1" y1="392.9" x2="285.6" y2="392.9" stroke="#333" stroke-width="0.9"/>
<text x="0" y="0" font-size="11" text-anchor="start" fill="#231f20" transform="translate(291.0,397.5) matrix(1,0,-0.72,0.84,0,0)">700</text>
<text x="0" y="0" font-size="11" text-anchor="middle" fill="#231f20" transform="translate(357.2,365.5) rotate(-48)">Laser power (µW)</text>
</g>
</svg></body></html>
